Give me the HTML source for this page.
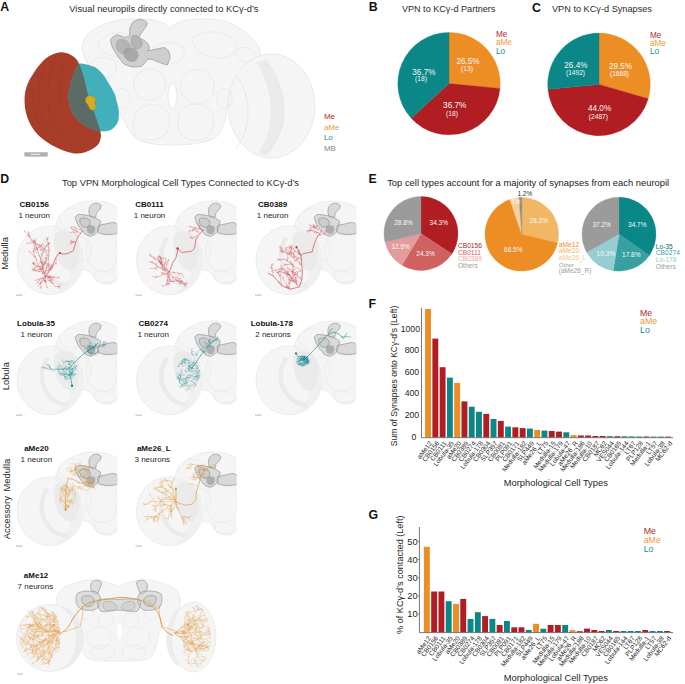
<!DOCTYPE html><html><head><meta charset="utf-8"><style>html,body{margin:0;padding:0;background:#fff;width:685px;height:684px;overflow:hidden;font-family:"Liberation Sans", sans-serif;}svg{display:block;}</style></head><body>
<svg width="685" height="684" viewBox="0 0 685 684" style="font-family:&quot;Liberation Sans&quot;, sans-serif">
<rect width="685" height="684" fill="#fff"/>
<defs>
<filter id="soft" x="-10%" y="-10%" width="120%" height="120%"><feGaussianBlur stdDeviation="0.7"/></filter>
<g id="hb">
<path d="M5.5,-32 C6.5,-39 9,-43 13.8,-46 C16,-49.5 19,-52 22.2,-52.9 C26,-55 29.5,-56.5 33.3,-57 C38,-58 43,-58 47.2,-57.75 C52,-57.5 57,-56.5 61,-55 C63.5,-54 65.5,-53 68,-51 L68,19.3 C66,22 63.5,24 61,24.9 C56,25.5 51,24.5 47.2,22.1 C44.5,19.5 43,17 41.6,13.8 C38,12 34,11 31,10 C26,6 24,2 22,-2 Z" fill="#f5f5f5" stroke="#e2e2e2" stroke-width="0.6"/>
<g fill="none" stroke="#e7e7e7" stroke-width="0.6">
<path d="M9,-44 C16,-52 28,-53 34,-47 C38,-41 33,-33 24,-31 C15,-30 8,-36 9,-44 Z"/>
<path d="M40,-22 C48,-27 60,-25 66,-17 C69,-7 67,5 60,11 C52,15 43,11 39,4 C35,-4 35,-15 40,-22 Z"/>
<path d="M45,12 C51,10 61,13 67,19 C61,25 51,25 46,21 Z"/>
<path d="M26,-20 C33,-24 40,-20 41,-12 C42,-4 37,3 31,3 C25,1 22,-9 26,-20 Z"/>
<path d="M52,-24 C58,-26 64,-24 67,-20"/>
</g>
<ellipse cx="0" cy="1.2" rx="33" ry="34.5" fill="#f5f5f5" stroke="#e2e2e2" stroke-width="0.6"/>
<path d="M3,-31 C16,-24 22,-10 22,4 C22,18 14,28 6,34 C20,33 30,22 33,8 C35,-6 30,-20 22,-27 C16,-31 8,-33 3,-31 Z" fill="#f0f0f0"/>
<path d="M-2.7,-21.6 C-7,-14 -9,-6 -8,1.2 C-7,9 -3,15 2.6,20.5 C7,24 12,25.5 18.5,25.7" fill="none" stroke="#ebebeb" stroke-width="4.5" filter="url(#soft)"/>
<path d="M5,-25 C13,-30 24,-27 28,-18 C31,-8 29,4 24,11 C18,14 11,8 7,-1 C4,-9 3,-19 5,-25 Z" fill="#e9e9e9" opacity="0.8"/>
<path d="M40.2,-52.6 C42,-55 44.5,-56 46.8,-55.7 C49,-55.5 51,-54.5 51.2,-53 C51,-50 48.5,-48.5 46.8,-46.5 C46,-45 46,-43.5 45.9,-42.1 C44,-41.5 42,-41.5 40.2,-42.1 C39.5,-44 38.8,-46 38.9,-48.2 C39,-50 39.5,-51.5 40.2,-52.6 Z" fill="#c4c4c4" fill-opacity="0.58" stroke="#7a7a7a" stroke-width="0.6" stroke-opacity="0.85"/>
<path d="M25.3,-42.1 C26.5,-43.5 27.8,-44.5 29.3,-44.7 C33,-44.5 37,-43.5 40.6,-43 C44.5,-41.5 48,-40 50.7,-37.7 C50,-34 49,-30 47.7,-27.2 C45.5,-25 43,-23.5 40.6,-22.8 C38.5,-23 37,-23.8 35.4,-24.6 C32.5,-28 29.5,-31.5 27.5,-35 C26.5,-37.5 25.5,-40 25.3,-42.1 Z" fill="#c4c4c4" fill-opacity="0.58" stroke="#7a7a7a" stroke-width="0.6" stroke-opacity="0.85"/>
<path d="M30,-40 C33,-42 38,-41 40,-38 C41,-34 38,-31 34,-32 C31,-33 29,-37 30,-40 Z" fill="#c4c4c4" fill-opacity="0.58" stroke="#7a7a7a" stroke-width="0.6" stroke-opacity="0.85"/>
<path d="M48.5,-33.5 C52,-34.5 56,-35 60,-36 C62,-36.5 63.4,-36.6 64.5,-36.4 C66,-35.5 67.5,-34.5 68,-33.4 L68,-25.5 C63,-24.5 58.5,-24.3 55.5,-24.6 C53,-25 50.5,-25.6 48.5,-26.3 C47.5,-28.5 47.5,-31.5 48.5,-33.5 Z" fill="#c4c4c4" fill-opacity="0.58" stroke="#7a7a7a" stroke-width="0.6" stroke-opacity="0.85"/>
<path d="M37,-32 C39,-34.5 43,-34.5 45,-32 C46,-29 44.5,-26 42,-25 C39.5,-24.5 37.5,-26 37,-28.5 Z" fill="#8a8a8a" fill-opacity="0.55"/>
<rect x="-34" y="35.5" width="6.5" height="1.2" fill="#c4c4c4"/>
</g>
<clipPath id="hbclip"><rect x="-40" y="-62" width="107.2" height="100"/></clipPath>
</defs>
<text x="0.3" y="11.4" font-size="12.3" fill="#111" font-weight="bold">A</text>
<text x="69.3" y="12" font-size="9.36" fill="#2a2a2a">Visual neuropils directly connected to KCγ-d’s</text>
<text x="368.8" y="11.2" font-size="12.3" fill="#111" font-weight="bold">B</text>
<text x="401.9" y="11.9" font-size="9.1" fill="#2a2a2a">VPN to KCγ-d Partners</text>
<text x="532" y="11.6" font-size="12.3" fill="#111" font-weight="bold">C</text>
<text x="552" y="11.9" font-size="9.18" fill="#2a2a2a">VPN to KCγ-d Synapses</text>
<text x="0.3" y="183.1" font-size="12.3" fill="#111" font-weight="bold">D</text>
<text x="62" y="186.1" font-size="9.36" fill="#2a2a2a">Top VPN Morphological Cell Types Connected to KCγ-d’s</text>
<text x="368.4" y="183.1" font-size="12.3" fill="#111" font-weight="bold">E</text>
<text x="387.2" y="186.1" font-size="9.4" fill="#1a1a1a">Top cell types account for a majority of synapses from each neuropil</text>
<text x="368.6" y="308.2" font-size="12.3" fill="#111" font-weight="bold">F</text>
<text x="368.4" y="518.8" font-size="12.3" fill="#111" font-weight="bold">G</text>
<g id="panelA">
<path d="M82.6,44.4 C84,36 92,29 101,26 C110,21 122,19 132.5,19 C145,18 158,20 166,24 L169.5,29 C173,24 180,21 190.4,19.5 C205,18 220,19 230,23 C242,28 252,36 258.7,47 C262,55 260,62 255,66 L240,72 C232,85 228,100 226,115 C224,125 222,132 215,138 C205,144 185,145 170,145 C155,145 142,143 135,138 C128,130 124,120 118,110 C110,95 100,80 92,70 C86,62 81,52 82.6,44.4 Z" fill="#f5f5f5" stroke="#e2e2e2" stroke-width="0.7"/>
<ellipse cx="271.5" cy="106" rx="43.5" ry="52" fill="#f5f5f5" stroke="#e2e2e2" stroke-width="0.7"/>
<path d="M256,62 C266,78 271,96 271,112 C271,128 266,142 258,153 L266,156 C276,144 284,128 284,112 C284,94 278,76 266,60 Z" fill="#ebebeb" filter="url(#soft)"/>
<path d="M236,76 C244,86 248,98 248,112 C248,126 244,138 236,148" fill="none" stroke="#e6e6e6" stroke-width="1" filter="url(#soft)"/>
<path d="M266,60 C278,76 284,94 284,112 C284,128 276,144 266,156" fill="none" stroke="#e3e3e3" stroke-width="0.8"/>
<g fill="none" stroke="#e9e9e9" stroke-width="1.0" filter="url(#soft)">
<path d="M98,44 C104,34 118,30 130,35 C137,42 134,52 124,56 C112,58 100,54 98,44 Z"/>
<path d="M192,38 C205,29 224,30 236,41 C240,50 232,58 219,58 C205,58 193,51 192,38 Z"/>
<circle cx="149.8" cy="84.6" r="16"/>
<circle cx="197.2" cy="86.3" r="17"/>
<path d="M134,118 C136,106 150,102 160,106 C170,110 172,124 166,134 C158,142 140,142 135,134 C132,128 133,122 134,118 Z"/>
<path d="M180,112 C186,102 202,102 210,110 C216,118 214,132 206,138 C196,143 184,140 180,132 C177,125 177,118 180,112 Z"/>
<path d="M92,62 C98,55 110,56 116,63 C119,71 112,78 104,77 C97,75 91,69 92,62 Z"/>
<path d="M155,47 C162,41 176,41 183,47 C187,55 181,63 170,64 C160,64 153,57 155,47 Z"/>
<path d="M236,50 C242,45 251,47 254,53 C255,59 249,63 243,62 C238,60 235,55 236,50 Z"/>
<path d="M115,92 C120,86 128,88 130,96 C131,104 126,110 120,108 C115,105 113,98 115,92 Z"/>
<path d="M218,92 C223,86 231,88 232,96 C233,104 228,110 222,108 C217,105 215,98 218,92 Z"/>
</g>
<ellipse cx="172.5" cy="96" rx="4.6" ry="12.8" fill="#ffffff" stroke="#e2e2e2" stroke-width="0.8"/>
<path d="M131.8,23.9 C133,21 137,19.5 141.3,19.5 C144,20 147,21.5 147.2,23.1 C147,26 145.5,27.5 144.2,29 C142,32 140,35 138.4,37.7 C142,39 146,41 148,44 C150,47 150,49.5 147.2,50.9 C152,50 156,49 158.8,48.7 C161,48 163,47.5 164.7,47.7 C167,49 168.5,50.5 169,52.3 C170,55 170,57 169.8,58.2 C169,61 168,63 167.6,64.7 C165,64.5 163.5,64 161.8,63.3 C158,62 155,61 153,59.6 C150,59 148,59 147.2,59.6 C145,63 143,65.5 141.3,66.2 C138,67 135,67 132.5,67 C129,66 126,65 123.8,64 C121,61 119.5,58 118,56.7 C116,53 113.5,50 112,46.5 C111,43 110.5,41 110.7,39.2 C113,36.5 115.5,35 118,34.8 C120,35.5 122,36.5 123.8,37 C126,37.5 128,37 129.6,35 C130,32 129.5,30 129.6,29 C130,27 131,25.5 131.8,23.9 Z" fill="#c6c6c6" fill-opacity="0.8" stroke="#727272" stroke-width="0.6" stroke-opacity="0.8"/>
<path d="M118,40 C122,38 128,40 130,45 C131,50 128,54 123,54 C119,53 116,49 116,45 C116,43 117,41 118,40 Z M132,36 C136,34 141,37 142,42 C143,47 139,50 135,49 C131,47 130,41 132,36 Z" fill="#aeaeae" fill-opacity="0.8" stroke="#808080" stroke-width="0.4" stroke-opacity="0.6"/>
<path d="M124,50 C128,46 135,47 138,52 C140,57 137,62 131,62 C126,61 122,56 124,50 Z" fill="#9c9c9c" fill-opacity="0.75"/>
<path d="M60.6,52.3 C66,52 71,54.5 74.6,57.5 C76.5,59 78,61.5 79,63.7 C80,65 80.5,67 81.4,70 C83,74 84,77.5 84.9,81.7 C86,86.5 87,91 88.4,95.7 C90,100 91.5,104 93,108.5 C94.5,113 96,118 97.7,122.5 C99,126 100,130 101,134.7 C101,139 100,142.5 97.5,145.3 C94,148.5 90,150.5 85.2,152.3 C81,153.5 77,153.8 72.9,153.2 C66,152 60,149.5 55.4,147 C49,144 43,139.5 37.8,134.7 C33,129.5 29.5,123.5 27.3,117.2 C25,111 24.3,104 24.6,97.9 C25,89 28,81.5 32.5,75 C36,69 40,63.5 44.8,59.3 C49.5,55.5 55,52.8 60.6,52.3 Z" fill="#a83d29"/>
<path d="M46,66 C38,80 36,98 40,114 C43,126 50,136 60,143 M56,58 C48,72 46,92 49,110 C52,124 60,136 72,146 M33,88 C32,104 35,120 44,133 M66,60 C60,74 58,92 62,110" fill="none" stroke="#86301f" stroke-width="0.5" opacity="0.45"/>
<path d="M79,63.7 C83,63 87,64.5 90,65.6 C92,66.3 94,66.8 95.8,67.6 C97.5,68.8 99,70.2 100.5,71.7 C101.8,73 103,74.4 104,75.8 C105.3,77.7 106.5,79.6 107.5,81.6 C109,83.8 110.3,85.9 111.6,88 C112.9,90.3 114,92.7 115.1,95.1 C115.6,96.7 116,98.3 116.3,100 C117.5,104 118.3,107 118.7,110 C119.2,114 119,118 118,121.5 C117,125 114,128.5 109.7,130.4 C106.5,131.2 103.5,131.3 101,131.2 C97,131 91,129.5 85.2,126 C80,122.5 75.5,118.5 72.9,113.7 C70,108.5 68.7,103 68.5,98 C68.5,94.5 68.8,91.5 69.4,89 C71,81 73.5,72.5 77.3,65.4 Z" fill="#42b0ba"/>
<path d="M77.3,65.4 C73.5,72.5 71,81 69.4,89 C68.8,91.5 68.5,94.5 68.5,98 C68.7,103 70,108.5 72.9,113.7 C75.5,118.5 80,122.5 85.2,126 C91,129.5 97,131 100.6,131.2 C100,130 99,126 97.7,122.5 C96,118 94.5,113 93,108.5 C91.5,104 90,100 88.4,95.7 C87,91 86,86.5 84.9,81.7 C84,77.5 83,74 81.4,70 C80.5,67 80,65.5 79,63.7 Z" fill="#5c6b66"/>
<path d="M92,68 C98,74 104,84 108,96 C111,106 112,114 111,122" fill="none" stroke="#3a9aa4" stroke-width="0.5" opacity="0.35"/>
<path d="M86.5,97 C88,95.5 91,95.2 93,96.3 C95.8,97.2 96.5,99.5 95.5,101.3 C94.5,102.5 94.7,104 95.6,105.2 C96.5,107 95.5,109.6 93.2,110.2 C91,110.5 89.5,109.5 89,107.5 C88.7,105.5 87.2,104.2 86,102.5 C85.2,100.8 85.5,98.2 86.5,97 Z" fill="#d6ad22" stroke="#9c7a10" stroke-width="0.4"/>
<rect x="24.8" y="152.6" width="22.6" height="3.6" fill="#b0b0b0" stroke="#999" stroke-width="0.4"/>
<rect x="31" y="153.8" width="9" height="1.2" fill="#e6e6e6"/>
</g>
<text x="323.9" y="119.3" font-size="8" fill="#b0282e">Me</text>
<text x="323.9" y="129.75" font-size="8" fill="#ec9836">aMe</text>
<text x="323.9" y="140.2" font-size="8" fill="#159096">Lo</text>
<text x="323.9" y="150.65" font-size="8" fill="#888888">MB</text>
<path d="M449.00,83.60 L449.00,32.40 A51.2,51.2 0 0 1 499.97,88.42 Z" fill="#ec8e24" stroke="#ec8e24" stroke-width="0.35" stroke-linejoin="round"/>
<path d="M449.00,83.60 L499.97,88.42 A51.2,51.2 0 0 1 411.24,118.18 Z" fill="#b01e24" stroke="#b01e24" stroke-width="0.35" stroke-linejoin="round"/>
<path d="M449.00,83.60 L411.24,118.18 A51.2,51.2 0 0 1 449.00,32.40 Z" fill="#0b8787" stroke="#0b8787" stroke-width="0.35" stroke-linejoin="round"/>
<path d="M599.00,84.40 L599.00,33.10 A51.3,51.3 0 0 1 648.26,98.71 Z" fill="#ec8e24" stroke="#ec8e24" stroke-width="0.35" stroke-linejoin="round"/>
<path d="M599.00,84.40 L648.26,98.71 A51.3,51.3 0 0 1 547.93,89.23 Z" fill="#b01e24" stroke="#b01e24" stroke-width="0.35" stroke-linejoin="round"/>
<path d="M599.00,84.40 L547.93,89.23 A51.3,51.3 0 0 1 599.00,33.10 Z" fill="#0b8787" stroke="#0b8787" stroke-width="0.35" stroke-linejoin="round"/>
<text x="468" y="63.8" font-size="8.2" fill="#f6f6f6" text-anchor="middle">26.5%</text>
<text x="467" y="71.4" font-size="6.7" fill="#f6f6f6" text-anchor="middle">(13)</text>
<text x="423.9" y="75.1" font-size="8.2" fill="#f6f6f6" text-anchor="middle">36.7%</text>
<text x="421" y="81.3" font-size="6.7" fill="#f6f6f6" text-anchor="middle">(18)</text>
<text x="454.7" y="107.6" font-size="8.2" fill="#f6f6f6" text-anchor="middle">36.7%</text>
<text x="452" y="116" font-size="6.7" fill="#f6f6f6" text-anchor="middle">(18)</text>
<text x="575.9" y="67.9" font-size="8.2" fill="#f6f6f6" text-anchor="middle">26.4%</text>
<text x="575.5" y="74.9" font-size="6.6" fill="#f6f6f6" text-anchor="middle">(1492)</text>
<text x="620.6" y="69.1" font-size="8.2" fill="#f6f6f6" text-anchor="middle">29.5%</text>
<text x="619.5" y="76.3" font-size="6.6" fill="#f6f6f6" text-anchor="middle">(1668)</text>
<text x="599.6" y="110.8" font-size="8.2" fill="#f6f6f6" text-anchor="middle">44.0%</text>
<text x="598.4" y="119.2" font-size="6.6" fill="#f6f6f6" text-anchor="middle">(2487)</text>
<text x="495.9" y="37.0" font-size="8.2" fill="#b0282e">Me</text>
<text x="650" y="37.5" font-size="8.2" fill="#b0282e">Me</text>
<text x="495.9" y="45.45" font-size="8.2" fill="#ec9836">aMe</text>
<text x="650" y="45.95" font-size="8.2" fill="#ec9836">aMe</text>
<text x="495.9" y="53.9" font-size="8.2" fill="#159096">Lo</text>
<text x="650" y="54.4" font-size="8.2" fill="#159096">Lo</text>
<g transform="translate(50,259)" clip-path="url(#hbclip)"><use href="#hb"/></g>
<g transform="translate(169.5,259)" clip-path="url(#hbclip)"><use href="#hb"/></g>
<g transform="translate(289,259)" clip-path="url(#hbclip)"><use href="#hb"/></g>
<g transform="translate(50,379)" clip-path="url(#hbclip)"><use href="#hb"/></g>
<g transform="translate(169.5,379)" clip-path="url(#hbclip)"><use href="#hb"/></g>
<g transform="translate(289,379)" clip-path="url(#hbclip)"><use href="#hb"/></g>
<g transform="translate(50,510)" clip-path="url(#hbclip)"><use href="#hb"/></g>
<g transform="translate(169.5,510)" clip-path="url(#hbclip)"><use href="#hb"/></g>
<path d="M82.7,230.8 L78.0,236.7 L75.7,242.5 L73.4,250.7 L67.6,253.6 L62.9,254.2 L60.0,253.0 L57.0,255.4 L54.7,260.0 L52.4,267.0 L48.9,271.7 L45.4,276.4" fill="none" stroke="#c8333a" stroke-width="0.6" stroke-linejoin="round"/>
<path d="M39.8,271.5l-1.3,0.6M38.4,271.3l-0.3,-1.3M34.4,270.1l-1.6,0.7M33.0,269.8l-0.5,-1.6M43.9,272.5 L42.5,272.1 L41.2,271.8 L39.8,271.5 L38.4,271.3 L37.0,271.0 L35.7,270.6 L34.4,270.1 L33.0,269.8 L31.7,269.5M43.5,271.2l-1.7,-0.5M43.1,269.8l0.6,-1.5M41.9,269.0l-1.6,0.4M35.6,270.3l-0.4,1.4M40.8,268.2 L39.5,268.8 L38.2,269.4 L36.9,269.8 L35.6,270.3M35.3,263.9l-1.4,0.4M34.3,262.9l-1.3,0.5M43.1,269.8 L41.9,269.0 L40.8,268.2 L39.7,267.4 L38.5,266.6 L37.4,265.7 L36.3,264.8 L35.3,263.9 L34.3,262.9 L33.2,262.1M42.8,268.4l-0.8,-0.7M43.3,267.1l-0.4,-1.1M45.6,263.8l-0.4,-1.1M46.8,263.1l1.4,0.3M44.4,264.6 L45.6,263.8 L46.8,263.1M45.4,261.9l1.4,-0.6M45.9,260.6l1.0,-0.6M46.6,259.4l-0.7,-1.6M42.8,268.4 L43.3,267.1 L43.8,265.8 L44.4,264.6 L44.9,263.2 L45.4,261.9 L45.9,260.6 L46.6,259.4M42.5,267.1l-1.8,-0.6M41.6,263.0l-1.1,-0.6M41.3,261.6l-1.4,-0.0M40.5,258.9l1.3,-0.9M41.9,255.0l-0.3,-1.0M42.9,252.4l1.0,-0.5M44.8,248.6l-0.9,-0.8M45.5,247.4l-0.9,-1.5M48.2,244.3l0.1,-1.4M49.3,243.4l1.0,0.0M46.1,246.1 L47.2,245.3 L48.2,244.3 L49.3,243.4M46.8,244.9l1.4,0.3M40.5,258.9 L40.8,257.6 L41.3,256.2 L41.9,255.0 L42.3,253.7 L42.9,252.4 L43.5,251.1 L44.2,249.9 L44.8,248.6 L45.5,247.4 L46.1,246.1 L46.8,244.9M39.6,256.3l-1.6,-1.1M38.1,252.3l-1.8,-0.0M37.3,249.7l-1.0,-0.5M36.3,245.6l1.3,-0.9M35.9,244.2l-0.9,-0.5M34.8,243.3l-1.6,0.1M33.9,242.3l-0.2,-1.7M32.5,242.6l-0.9,-0.5M33.9,242.3 L32.5,242.6 L31.1,242.9 L29.8,243.1 L28.4,243.3 L27.0,243.4M33.0,241.2l0.3,-1.0M32.1,240.1l-1.3,0.3M29.1,235.4l-0.9,-0.0M28.6,234.1l0.3,-0.8M28.1,232.8l0.8,-1.1M30.3,238.0 L29.7,236.7 L29.1,235.4 L28.6,234.1 L28.1,232.8 L27.6,231.5M29.3,237.0l0.7,-1.6M24.7,231.7l0.6,-1.1M35.9,244.2 L34.8,243.3 L33.9,242.3 L33.0,241.2 L32.1,240.1 L31.2,239.0 L30.3,238.0 L29.3,237.0 L28.3,236.0 L27.4,234.9 L26.5,233.8 L25.6,232.8 L24.7,231.7 L23.8,230.7M35.1,241.5l-1.7,0.1M34.8,240.2l1.1,-1.5M45.4,276.4 L44.9,275.1 L44.4,273.8 L43.9,272.5 L43.5,271.2 L43.1,269.8 L42.8,268.4 L42.5,267.1 L42.1,265.7 L41.8,264.3 L41.6,263.0 L41.3,261.6 L40.9,260.3 L40.5,258.9 L40.1,257.6 L39.6,256.3 L39.1,255.0 L38.6,253.7 L38.1,252.3 L37.7,251.0 L37.3,249.7 L36.9,248.3 L36.6,246.9 L36.3,245.6 L35.9,244.2 L35.5,242.9 L35.1,241.5 L34.8,240.2M50.3,268.0l1.4,-0.6M50.9,265.3l1.1,-0.3M49.9,269.4 L50.3,268.0 L50.6,266.6 L50.9,265.3M50.9,268.4l-0.2,-1.4M51.9,267.4 L51.7,266.0 L51.4,264.6M55.8,263.4l1.5,0.8M56.1,259.2l1.0,-0.3M55.8,263.4 L56.0,262.0 L56.0,260.6 L56.1,259.2M48.9,270.3 L49.9,269.4 L50.9,268.4 L51.9,267.4 L52.8,266.3 L53.8,265.3 L54.8,264.4 L55.8,263.4M48.7,267.5l1.1,-1.6M48.5,259.1l-1.4,-0.7M47.7,255.3l-1.7,0.4M46.0,253.0l0.7,-1.1M40.4,249.9l-0.4,-0.9M43.2,249.9 L41.8,249.9 L40.4,249.9M48.6,256.3 L47.7,255.3 L46.8,254.2 L46.0,253.0 L45.1,251.9 L44.2,250.9 L43.2,249.9 L42.1,249.0 L41.0,248.1 L39.9,247.3 L38.8,246.5M48.7,254.9l-1.0,-1.0M46.6,250.4l-0.9,0.5M44.3,248.8l-1.0,0.1M40.9,246.4l0.6,-1.7M37.0,248.0l-1.3,-0.5M40.9,246.4 L39.6,247.0 L38.3,247.5 L37.0,248.0M39.7,245.7l-0.1,-1.6M38.4,245.1l-0.5,-1.5M48.8,252.1 L47.7,251.3 L46.6,250.4 L45.5,249.6 L44.3,248.8 L43.2,248.0 L42.1,247.2 L40.9,246.4 L39.7,245.7 L38.4,245.1 L37.2,244.4 L35.9,243.8M48.8,250.7l1.4,-0.3M48.9,249.3l-0.6,-1.0M48.8,247.9l-1.1,-1.3M48.2,243.8l1.4,-1.1M47.6,239.6l-1.4,-0.8M47.4,238.2l1.2,-1.0M48.9,271.7 L48.9,270.3 L48.8,268.9 L48.7,267.5 L48.6,266.1 L48.6,264.7 L48.5,263.3 L48.4,261.9 L48.4,260.5 L48.5,259.1 L48.5,257.7 L48.6,256.3 L48.7,254.9 L48.8,253.5 L48.8,252.1 L48.8,250.7 L48.9,249.3 L48.8,247.9 L48.7,246.5 L48.4,245.2 L48.2,243.8 L48.0,242.4 L47.8,241.0 L47.6,239.6 L47.4,238.2M44.9,273.9l-0.8,-1.5M45.4,272.6l-1.1,-0.7M45.7,271.2l-0.9,-0.9M48.2,269.9l0.8,0.1M50.5,268.4l1.2,0.9M45.7,271.2 L47.0,270.6 L48.2,269.9 L49.4,269.2 L50.5,268.4M46.3,268.5l1.2,-0.4M46.6,267.1l1.3,-0.5M48.2,265.1l1.2,0.5M46.9,265.8 L48.2,265.1 L49.3,264.3M47.3,264.4l1.0,-0.5M44.6,275.3 L44.9,273.9 L45.4,272.6 L45.7,271.2 L46.0,269.9 L46.3,268.5 L46.6,267.1 L46.9,265.8 L47.3,264.4M43.7,274.1l-1.9,-0.4M42.9,273.1l0.6,-1.8M43.0,265.3l-0.6,-0.9M42.7,263.9l-1.4,0.0M42.5,262.5l-1.2,-0.4M42.2,261.1l-0.9,-0.2M43.0,265.3 L42.7,263.9 L42.5,262.5 L42.2,261.1M43.5,263.9l1.3,0.1M43.9,262.6l1.7,0.0M45.5,258.7l-0.2,-1.4M46.2,257.5l1.5,-0.6M41.4,270.6 L41.9,269.3 L42.3,268.0 L42.6,266.6 L43.0,265.3 L43.5,263.9 L43.9,262.6 L44.3,261.3 L44.8,260.0 L45.5,258.7 L46.2,257.5M40.7,269.4l-1.8,0.0M40.1,268.2l0.8,-1.3M39.6,266.9l0.6,-0.9M38.4,264.4l1.0,-1.2M36.5,260.6l0.7,-1.6M30.0,251.8l-1.0,-0.1M35.7,257.9 L34.7,256.9 L33.8,255.9 L32.8,254.9 L31.8,253.9 L30.9,252.9 L30.0,251.8M35.2,256.6l-1.6,-0.5M35.4,250.6 L35.2,249.2 L35.0,247.8M36.4,249.6l1.2,-0.1M41.4,244.7l1.5,0.9M33.6,252.7 L34.4,251.6 L35.4,250.6 L36.4,249.6 L37.3,248.6 L38.4,247.7 L39.4,246.7 L40.4,245.7 L41.4,244.7 L42.3,243.7M33.2,251.4l0.7,-1.1M34.0,248.7l1.2,-0.6M34.7,246.0l-1.2,-0.8M33.2,251.4 L33.6,250.0 L34.0,248.7 L34.4,247.4 L34.7,246.0 L35.0,244.6 L35.1,243.2 L35.2,241.8 L35.1,240.4M45.4,276.4 L44.6,275.3 L43.7,274.1 L42.9,273.1 L42.1,271.9 L41.4,270.6 L40.7,269.4 L40.1,268.2 L39.6,266.9 L39.0,265.6 L38.4,264.4 L37.7,263.1 L37.0,261.9 L36.5,260.6 L36.0,259.3 L35.7,257.9 L35.2,256.6 L34.6,255.3 L34.0,254.1 L33.6,252.7 L33.2,251.4M42.9,277.7l-0.3,1.2M40.7,282.3l0.6,0.8M41.6,278.2 L41.4,279.6 L41.1,281.0 L40.7,282.3M39.4,279.8l0.2,1.0M37.8,282.1l0.5,1.1M40.3,278.7 L39.4,279.8 L38.6,280.9 L37.8,282.1 L37.1,283.3M45.4,276.4 L44.1,277.0 L42.9,277.7 L41.6,278.2 L40.3,278.7 L39.0,279.1 L37.6,279.6 L36.3,280.0 L35.0,280.4M44.7,277.6l0.2,1.2M44.0,278.8l-1.2,-0.4M44.2,280.2l1.2,0.4M45.4,280.9l0.2,1.0M44.2,280.2 L45.4,280.9 L46.7,281.5M44.4,281.6l1.2,0.9M44.0,278.8 L44.2,280.2 L44.4,281.6M43.2,280.0l1.1,1.2M40.6,283.3l-1.4,0.3M40.9,287.5l-1.1,0.3M40.6,283.3 L40.8,284.7 L40.9,286.1 L40.9,287.5 L40.9,288.9M45.4,276.4 L44.7,277.6 L44.0,278.8 L43.2,280.0 L42.4,281.1 L41.6,282.3 L40.6,283.3 L39.7,284.4 L38.9,285.5 L38.0,286.6M47.0,287.4l1.1,0.8M45.4,276.4 L45.4,277.8 L45.5,279.2 L45.5,280.6 L45.6,282.0 L45.9,283.4 L46.2,284.7 L46.7,286.0 L47.0,287.4M48.2,279.5l-0.2,1.1M49.2,280.5l1.1,-0.1M51.9,280.2l0.1,-0.9M49.2,280.5 L50.6,280.3 L51.9,280.2 L53.3,280.1M50.1,281.6l1.2,-0.3M51.2,282.5l1.5,0.1M52.3,283.4l1.3,-0.5M58.0,286.6l0.8,1.4M58.0,286.6 L58.9,285.5 L59.7,284.3M59.4,286.7l0.5,1.5M55.3,286.3 L56.7,286.5 L58.0,286.6 L59.4,286.7 L60.8,286.7M45.4,276.4 L46.4,277.4 L47.3,278.4 L48.2,279.5 L49.2,280.5 L50.1,281.6 L51.2,282.5 L52.3,283.4 L53.3,284.3 L54.2,285.3 L55.3,286.3M46.8,276.4l0.5,-1.2M48.0,277.2l0.8,-0.8M49.3,277.0l0.7,0.6M50.7,276.8l0.8,-0.8M48.0,277.2 L49.3,277.0 L50.7,276.8M49.1,278.0l1.2,-0.7M50.2,278.9l1.6,-0.8M46.8,276.4 L48.0,277.2 L49.1,278.0 L50.2,278.9M48.2,276.6l1.1,-1.1M48.2,276.6 L49.4,277.4 L50.5,278.2 L51.7,278.9M52.4,277.1l1.4,1.3M53.7,277.2l0.7,-1.4M57.9,277.8l1.0,-1.6M45.4,276.4 L46.8,276.4 L48.2,276.6 L49.6,276.9 L51.0,277.0 L52.4,277.1 L53.7,277.2 L55.1,277.4 L56.5,277.7 L57.9,277.8 L59.3,278.1M37.8,266.3l-1.5,1.1M34.4,268.1l0.8,0.8M33.8,269.4l0.4,0.8M35.0,266.8 L34.4,268.1 L33.8,269.4M37.8,266.3 L36.4,266.7 L35.0,266.8M34.0,264.5l-0.5,-1.3M32.8,263.8l0.4,-1.4M39.0,267.0 L37.8,266.3 L36.5,265.8 L35.2,265.1 L34.0,264.5 L32.8,263.8M75.7,227.9l-0.8,0.6M82.0,231.0 L80.8,230.3 L79.6,229.6 L78.3,229.0 L77.0,228.5 L75.7,227.9 L74.4,227.4 L73.1,227.0 L71.8,226.6M77.5,231.7l-0.8,0.9M74.7,232.2l-0.8,-0.4M77.5,231.7 L76.1,232.0 L74.7,232.2M76.3,231.0l0.1,-1.4M75.1,230.3l-0.2,-1.0M73.9,229.6l-1.3,0.4M71.4,228.3l-0.2,-1.2M80.0,233.0 L78.7,232.4 L77.5,231.7 L76.3,231.0 L75.1,230.3 L73.9,229.6 L72.6,229.0 L71.4,228.3M73.2,232.0 L71.8,232.3 L70.4,232.6M78.0,237.0 L77.2,235.9 L76.2,234.8 L75.2,233.9 L74.2,232.9 L73.2,232.0M74.4,242.0l-1.4,0.3M71.9,243.0l-0.7,-0.6M70.8,243.8l-1.0,-0.9M73.0,242.2 L71.9,243.0 L70.8,243.8M71.6,242.3l-0.9,-0.5M74.4,242.0 L73.0,242.2 L71.6,242.3M71.9,240.8l-1.0,0.7M75.7,242.5 L74.4,242.0 L73.1,241.4 L71.9,240.8 L70.6,240.2" fill="none" stroke="#c8333a" stroke-width="0.33" stroke-opacity="0.9" stroke-linecap="round"/>
<circle cx="60" cy="253" r="1.1" fill="#c8333a"/>
<path d="M203.9,229.7 L198.1,235.5 L195.7,240.2 L194.6,248.4 L191.1,251.3 L181.7,252.5 L177.6,248.4 L177.6,251.0 L175.9,257.7 L172.4,263.5 L170.0,270.6 L168.9,271.7" fill="none" stroke="#c8333a" stroke-width="0.6" stroke-linejoin="round"/>
<path d="M165.2,270.2l-0.5,1.4M167.9,270.7 L166.5,270.4 L165.2,270.2 L163.8,269.8 L162.5,269.4M167.0,269.7l0.8,-1.2M166.0,268.7l-1.3,-0.2M166.8,264.6l1.3,-0.9M166.0,268.7 L166.2,267.3 L166.4,265.9 L166.8,264.6 L167.1,263.2 L167.6,261.9 L168.1,260.6M164.7,263.9l1.0,-0.5M168.7,260.4l-0.2,-0.9M165.1,262.6 L166.4,262.0 L167.6,261.2 L168.7,260.4M165.9,258.5l-0.9,-0.5M164.0,266.7 L164.4,265.3 L164.7,263.9 L165.1,262.6 L165.5,261.3 L165.8,259.9 L165.9,258.5M161.3,263.8l-1.1,0.4M162.5,264.4 L161.3,263.8 L160.0,263.2M162.1,263.1l1.3,-1.0M161.7,261.8l0.8,-0.5M161.1,259.0l0.8,-1.2M160.7,257.7 L159.6,256.9 L158.4,256.1M160.3,256.3l-1.1,-0.6M163.0,265.8 L162.5,264.4 L162.1,263.1 L161.7,261.8 L161.4,260.4 L161.1,259.0 L160.7,257.7 L160.3,256.3M160.9,263.8l0.1,-1.7M160.8,262.4l-1.0,-1.2M160.8,262.4 L159.8,261.5 L158.7,260.7M163.4,258.3l-0.0,-1.0M160.9,259.6 L162.1,259.0 L163.4,258.3M161.1,258.2l-1.2,-0.5M161.1,258.2 L160.0,257.4 L158.9,256.5M160.9,263.8 L160.8,262.4 L160.9,261.0 L160.9,259.6 L161.1,258.2M159.4,261.6l0.5,-1.3M158.2,259.1l-1.2,0.0M157.4,257.9l1.0,-1.2M159.9,262.9 L159.4,261.6 L158.8,260.3 L158.2,259.1 L157.4,257.9M155.7,259.3l-1.6,-0.1M151.1,256.2l-0.1,-1.5M149.9,255.5l-0.5,-1.3M154.8,258.2 L153.5,257.6 L152.2,256.9 L151.1,256.2 L149.9,255.5M153.9,257.1l-1.2,0.3M168.9,271.7 L167.9,270.7 L167.0,269.7 L166.0,268.7 L165.0,267.7 L164.0,266.7 L163.0,265.8 L161.9,264.8 L160.9,263.8 L159.9,262.9 L158.8,262.0 L157.7,261.2 L156.6,260.3 L155.7,259.3 L154.8,258.2 L153.9,257.1M165.0,270.1 L164.7,268.8 L164.4,267.4 L164.0,266.0 L163.8,264.6M163.8,269.5l-1.5,0.7M162.5,268.8l-0.1,-1.9M161.2,268.3l0.3,-1.7M155.9,268.1l-0.1,1.6M160.0,267.6 L158.6,267.6 L157.2,267.8 L155.9,268.1 L154.5,268.1 L153.1,268.3 L151.7,268.4 L150.3,268.5M157.6,266.2l-1.5,0.1M156.5,265.3l0.2,-2.0M155.4,264.5l-0.3,-1.7M153.0,263.1l-0.4,-1.6M151.8,262.3l-1.1,0.5M150.6,261.5l-1.2,0.3M168.9,271.7 L167.6,271.2 L166.3,270.6 L165.0,270.1 L163.8,269.5 L162.5,268.8 L161.2,268.3 L160.0,267.6 L158.8,266.9 L157.6,266.2 L156.5,265.3 L155.4,264.5 L154.2,263.7 L153.0,263.1 L151.8,262.3 L150.6,261.5M167.7,272.5l-0.5,1.7M166.6,273.3l-0.1,1.4M164.1,273.4l-1.3,0.8M162.8,273.0l-1.5,0.7M165.4,274.0 L164.1,273.4 L162.8,273.0 L161.4,272.6M157.5,276.7l-0.8,-0.7M156.1,277.1l-0.6,1.0M156.1,277.1 L154.7,276.9 L153.4,276.7 L152.0,276.5M168.9,271.7 L167.7,272.5 L166.6,273.3 L165.4,274.0 L164.1,274.6 L162.8,275.1 L161.5,275.6 L160.2,276.0 L158.8,276.3 L157.5,276.7 L156.1,277.1M168.5,273.0l0.7,1.0M168.1,274.4l0.8,1.1M167.9,275.8l1.3,1.2M168.5,277.0l1.3,0.3M167.9,275.8 L168.5,277.0 L169.1,278.3 L169.8,279.6 L170.2,280.9M169.5,279.3l-0.5,0.8M169.5,279.3 L169.8,280.7 L170.1,282.1M171.5,281.3l1.4,0.0M172.8,281.5l1.0,-0.7M174.2,281.5l0.8,-1.2M171.5,281.3 L172.8,281.5 L174.2,281.5M167.7,277.2 L168.6,278.3 L169.5,279.3 L170.4,280.4 L171.5,281.3M167.3,279.9l1.3,1.3M167.8,281.2l1.5,0.5M167.3,279.9 L167.8,281.2 L168.2,282.6 L168.6,283.9M167.5,283.8l-0.7,1.1M168.9,283.8l1.0,-0.9M167.5,283.8 L168.9,283.8 L170.3,283.9M166.8,282.7 L167.5,283.8 L168.4,284.9M162.9,286.1l-0.6,-0.7M166.5,284.1 L165.3,284.7 L164.1,285.4 L162.9,286.1M168.9,271.7 L168.5,273.0 L168.1,274.4 L167.9,275.8 L167.7,277.2 L167.5,278.5 L167.3,279.9 L166.9,281.3 L166.8,282.7 L166.5,284.1 L166.4,285.4M170.5,274.0l-1.1,1.6M173.2,277.2l-0.7,1.7M177.3,276.8l0.7,1.3M173.2,277.2 L174.6,277.2 L175.9,277.1 L177.3,276.8M179.4,278.7l0.5,1.6M175.2,279.1 L176.6,278.9 L178.0,278.8 L179.4,278.7 L180.8,278.7M176.3,280.1l0.0,1.2M180.4,280.9l0.8,-1.1M181.2,282.0l-0.6,1.3M180.4,280.9 L181.2,282.0 L181.9,283.2M181.7,281.2l0.9,-0.4M176.3,280.1 L177.6,280.4 L179.0,280.7 L180.4,280.9 L181.7,281.2M177.3,281.0l1.5,-0.7M181.3,281.5l0.4,0.9M182.7,281.5l0.5,1.6M178.5,281.7 L179.9,281.5 L181.3,281.5 L182.7,281.5M179.6,282.6l-0.1,1.6M184.3,284.7l1.5,-0.3M185.2,285.8l0.1,1.3M183.4,283.7 L184.3,284.7 L185.2,285.8M184.8,283.5l1.1,-1.1M184.8,283.5 L185.9,284.3 L186.9,285.2M186.2,283.4l0.6,-1.1M180.6,283.6 L182.0,283.7 L183.4,283.7 L184.8,283.5 L186.2,283.4M168.9,271.7 L169.7,272.9 L170.5,274.0 L171.4,275.1 L172.3,276.2 L173.2,277.2 L174.2,278.2 L175.2,279.1 L176.3,280.1 L177.3,281.0 L178.5,281.7 L179.6,282.6 L180.6,283.6M173.0,272.5l0.6,-1.0M174.4,272.7l0.5,1.2M178.6,273.2 L179.1,274.5 L179.7,275.7M181.4,273.5 L182.1,274.7 L182.7,275.9 L183.5,277.1 L184.2,278.3M168.9,271.7 L170.3,272.0 L171.7,272.2 L173.0,272.5 L174.4,272.7 L175.8,272.9 L177.2,273.0 L178.6,273.2 L180.0,273.4 L181.4,273.5M162.1,265.6l0.3,-1.2M160.6,263.2l1.1,-1.1M158.6,259.5 L158.6,258.1 L158.7,256.7M163.5,268.0 L162.8,266.8 L162.1,265.6 L161.3,264.4 L160.6,263.2 L160.0,262.0 L159.3,260.7 L158.6,259.5M202.2,229.5l-0.9,0.8M199.6,226.6l0.3,-1.0M200.9,229.1 L200.2,227.8 L199.6,226.6 L199.0,225.3 L198.3,224.1 L197.6,222.9M199.5,228.8l-1.1,0.7M198.1,228.6l-1.4,0.7M195.4,228.0l-0.4,-1.6M193.3,229.8l-0.4,1.5M189.4,230.8l-0.3,1.1M192.2,230.7 L190.8,230.8 L189.4,230.8M195.4,228.0 L194.3,228.9 L193.3,229.8 L192.2,230.7M191.3,226.8l-1.1,0.5M203.5,230.0 L202.2,229.5 L200.9,229.1 L199.5,228.8 L198.1,228.6 L196.7,228.3 L195.4,228.0 L194.0,227.5 L192.7,227.2 L191.3,226.8 L190.0,226.3 L188.7,225.9M198.4,232.1l-0.8,0.5M197.2,231.4l-0.8,0.3M194.9,229.9l0.2,-0.9M193.6,229.3l-1.1,1.0M199.5,233.0 L198.4,232.1 L197.2,231.4 L196.1,230.6 L194.9,229.9 L193.6,229.3 L192.3,228.8M191.8,237.3l-1.0,0.8M190.5,236.8l-0.6,0.6M193.1,237.9 L191.8,237.3 L190.5,236.8M198.1,235.5 L196.8,235.9 L195.5,236.5 L194.3,237.2 L193.1,237.9 L191.9,238.7" fill="none" stroke="#c8333a" stroke-width="0.33" stroke-opacity="0.9" stroke-linecap="round"/>
<circle cx="177.6" cy="248.4" r="1.2" fill="#c8333a"/>
<path d="M321.6,230.8 L318.0,235.5 L314.6,242.5 L312.2,251.9 L302.9,253.6 L301.1,255.4 L301.7,263.5 L302.3,271.7 L301.7,279.9 L299.4,286.9 L290.0,289.2 L281.9,285.7 L273.7,276.4 L267.8,272.9M296.5,247.2 L299.0,252.0 L301.1,255.4" fill="none" stroke="#c8333a" stroke-width="0.6" stroke-linejoin="round"/>
<path d="M297.7,259.0l-1.3,-0.6M296.5,259.7l0.4,1.3M295.2,260.4l-0.2,0.9M298.8,258.2 L297.7,259.0 L296.5,259.7 L295.2,260.4 L294.0,261.0M295.0,256.4l-1.1,0.6M291.7,253.9l0.4,-1.9M291.6,246.0l0.9,-0.3M290.7,252.9 L290.9,251.5 L291.3,250.2 L291.5,248.8 L291.6,247.4 L291.6,246.0M301.5,259.0 L300.2,258.6 L298.8,258.2 L297.5,257.7 L296.2,257.1 L295.0,256.4 L293.9,255.6 L292.8,254.7 L291.7,253.9 L290.7,252.9 L289.6,252.1 L288.5,251.1M300.6,264.2l-1.5,0.1M299.6,263.2l-0.1,-1.0M294.0,257.2l1.1,-0.5M293.7,255.9l1.0,-1.1M293.5,254.5 L292.2,253.9 L290.9,253.4M293.1,253.1l1.0,-0.6M294.3,258.6 L294.0,257.2 L293.7,255.9 L293.5,254.5 L293.1,253.1M292.1,256.9l-1.1,0.5M291.0,251.8l-1.1,-1.4M291.1,249.0 L292.0,248.0 L293.0,247.0M291.0,256.0 L291.1,254.6 L291.0,253.2 L291.0,251.8 L291.1,250.4 L291.1,249.0M289.9,255.1 L289.5,253.8 L289.1,252.4 L288.6,251.1M287.8,253.3l-1.6,1.1M285.1,252.4 L283.7,252.5 L282.3,252.6M283.8,251.8l0.3,-1.4M282.5,251.4l-1.2,1.1M282.2,250.0l0.4,-0.9M282.5,251.4 L282.2,250.0 L281.8,248.7 L281.4,247.4M281.2,250.9l-0.6,0.7M280.3,248.2l0.6,-1.0M279.7,246.9l0.5,-0.8M281.2,250.9 L280.8,249.5 L280.3,248.2 L279.7,246.9M287.8,253.3 L286.4,252.9 L285.1,252.4 L283.8,251.8 L282.5,251.4 L281.2,250.9 L279.9,250.5M286.7,252.4l0.4,-1.7M301.7,265.0 L300.6,264.2 L299.6,263.2 L298.5,262.3 L297.4,261.4 L296.4,260.5 L295.3,259.5 L294.3,258.6 L293.2,257.8 L292.1,256.9 L291.0,256.0 L289.9,255.1 L288.9,254.2 L287.8,253.3 L286.7,252.4M293.1,265.3l0.4,-1.7M287.7,264.5l-0.8,1.4M285.0,264.7l-0.5,-0.8M286.4,264.3 L285.0,264.7 L283.7,265.2M291.9,264.6 L290.5,264.5 L289.1,264.6 L287.7,264.5 L286.4,264.3 L285.0,264.2M290.8,263.7l0.7,-1.4M289.7,262.9l0.6,-1.9M287.5,261.2l0.5,-1.0M287.6,258.4l1.6,-0.4M288.1,254.2l1.1,-0.5M289.1,253.2l0.9,0.4M288.1,254.2 L289.1,253.2 L290.1,252.3M287.5,261.2 L287.6,259.8 L287.6,258.4 L287.7,257.0 L287.8,255.6 L288.1,254.2M286.5,260.2l-1.2,0.7M284.1,259.3l-0.8,-0.7M281.3,259.5l-0.8,1.0M279.9,259.7l-1.2,-0.6M278.6,259.9l-1.0,-0.9M285.5,259.2 L284.1,259.3 L282.7,259.4 L281.3,259.5 L279.9,259.7 L278.6,259.9 L277.2,260.1M302.3,271.7 L301.2,270.8 L300.1,270.0 L299.0,269.1 L297.8,268.4 L296.5,267.7 L295.4,267.0 L294.3,266.1 L293.1,265.3 L291.9,264.6 L290.8,263.7 L289.7,262.9 L288.6,262.0 L287.5,261.2 L286.5,260.2 L285.5,259.2M300.6,279.0l-0.3,-1.4M299.6,278.1l0.4,-1.3M297.6,276.1l0.6,-1.4M299.3,271.2l1.3,0.2M297.4,273.3 L298.4,272.3 L299.3,271.2M297.3,271.9l-0.9,-0.3M297.6,276.1 L297.5,274.7 L297.4,273.3 L297.3,271.9M295.7,274.1l-0.9,0.5M293.5,272.3l-1.8,0.4M293.2,271.0 L292.1,270.1 L290.9,269.4M292.9,268.2l0.8,-0.9M292.7,266.8l1.1,-1.3M292.4,264.0 L291.4,263.1 L290.3,262.2M293.5,272.3 L293.2,271.0 L293.1,269.6 L292.9,268.2 L292.7,266.8 L292.5,265.4 L292.4,264.0M292.3,271.5l-1.5,-0.0M290.1,269.8l-1.0,0.4M289.0,268.9l-1.0,0.8M288.0,268.0l-1.5,0.8M301.7,279.9 L300.6,279.0 L299.6,278.1 L298.6,277.1 L297.6,276.1 L296.7,275.0 L295.7,274.1 L294.6,273.2 L293.5,272.3 L292.3,271.5 L291.2,270.7 L290.1,269.8 L289.0,268.9 L288.0,268.0 L287.0,267.0M297.5,284.9l-1.5,0.8M296.5,283.9l-0.1,-1.5M296.3,281.1l0.9,-0.6M294.8,278.8l0.5,-1.2M296.3,281.1 L295.6,279.9 L294.8,278.8M295.4,277.0l-0.8,-0.5M296.5,283.9 L296.4,282.5 L296.3,281.1 L296.1,279.7 L295.8,278.4 L295.4,277.0M295.5,281.5l-1.4,-0.8M296.2,277.3l0.8,-0.5M295.5,282.9 L295.5,281.5 L295.7,280.1 L296.0,278.7 L296.2,277.3M293.2,281.4l-0.8,-1.6M290.6,280.4l-0.7,-1.0M289.2,280.2l-0.5,-1.5M294.5,281.9 L293.2,281.4 L291.9,280.9 L290.6,280.4 L289.2,280.2 L287.9,279.8M293.6,280.8l-1.4,0.0M291.3,276.2l-1.4,0.5M293.4,278.0 L292.3,277.2 L291.3,276.2M294.1,275.6l-0.0,-1.4M295.2,274.7l0.9,-0.0M296.2,273.8l-0.8,-1.4M293.2,276.7 L294.1,275.6 L295.2,274.7 L296.2,273.8M293.8,274.3l1.1,0.5M294.7,273.2l0.1,-1.5M292.8,275.3 L293.8,274.3 L294.7,273.2M292.5,273.9 L292.8,272.6 L293.0,271.2M294.1,269.2l1.4,0.0M292.1,271.2 L293.1,270.2 L294.1,269.2M293.6,280.8 L293.5,279.4 L293.4,278.0 L293.2,276.7 L292.8,275.3 L292.5,273.9 L292.3,272.6 L292.1,271.2M292.1,278.5l-1.8,-0.4M290.8,278.1l-1.1,1.3M292.1,278.5 L290.8,278.1 L289.4,277.6 L288.1,277.2 L286.8,276.6M289.3,275.4l-0.6,-1.4M288.1,274.7l-0.9,0.7M287.8,271.9l1.5,-0.4M288.1,274.7 L287.9,273.3 L287.8,271.9M286.9,274.1l0.4,-1.3M290.5,276.1 L289.3,275.4 L288.1,274.7 L286.9,274.1 L285.6,273.5M289.6,275.1l0.6,-1.1M288.3,274.6l-1.7,0.4M289.6,275.1 L288.3,274.6 L287.0,274.2 L285.6,273.7 L284.3,273.3 L283.0,272.9 L281.6,272.6M288.7,274.0l-1.6,0.1M285.2,272.6l-1.2,0.8M279.7,271.9l-0.7,-0.8M278.3,272.2l-0.3,0.9M281.1,271.7 L279.7,271.9 L278.3,272.2M288.0,272.8 L286.6,272.6 L285.2,272.6 L283.8,272.4 L282.5,272.0 L281.1,271.7 L279.7,271.6 L278.3,271.4M285.9,271.0l-1.2,0.5M283.7,269.3l0.6,-1.1M282.4,269.8l-1.1,-0.4M283.7,269.3 L282.4,269.8 L281.1,270.2 L279.7,270.7M281.3,268.6l-0.7,1.4M279.9,268.8l-0.8,0.9M278.6,269.1l-0.2,1.2M282.7,268.4 L281.3,268.6 L279.9,268.8 L278.6,269.1M281.6,267.4l-0.3,-1.6M287.2,271.7 L285.9,271.0 L284.8,270.2 L283.7,269.3 L282.7,268.4 L281.6,267.4 L280.5,266.6M299.4,286.9 L298.5,285.8 L297.5,284.9 L296.5,283.9 L295.5,282.9 L294.5,281.9 L293.6,280.8 L292.8,279.7 L292.1,278.5 L291.3,277.3 L290.5,276.1 L289.6,275.1 L288.7,274.0 L288.0,272.8 L287.2,271.7 L286.3,270.6M289.3,288.0l0.2,-1.0M288.0,287.3 L286.6,287.3 L285.2,287.5M286.9,286.6l-0.0,-1.6M289.3,288.0 L288.0,287.3 L286.9,286.6 L285.8,285.7M288.5,286.8l-1.8,-0.0M289.4,284.1l-0.6,-1.3M289.4,284.1 L289.2,282.7 L289.2,281.3M289.7,282.8 L290.7,281.8 L291.8,280.8M290.6,280.1l1.6,-0.7M288.5,286.8 L289.0,285.5 L289.4,284.1 L289.7,282.8 L290.1,281.4 L290.6,280.1M283.0,278.7l0.6,-1.9M280.4,275.4l0.3,-1.3M290.0,289.2 L289.3,288.0 L288.5,286.8 L287.7,285.7 L286.8,284.6 L286.1,283.4 L285.4,282.2 L284.6,281.0 L283.8,279.9 L283.0,278.7 L282.2,277.6 L281.3,276.5 L280.4,275.4M279.6,282.4l-1.7,0.4M281.5,284.3 L280.6,283.4 L279.6,282.4M279.7,276.2l0.8,-1.3M279.2,274.9l-1.4,-0.3M277.8,272.5l-1.7,0.0M275.8,270.5l0.0,-1.3M275.8,270.5 L274.4,270.7 L273.1,271.1M278.7,273.6 L277.8,272.5 L276.7,271.6 L275.8,270.5 L275.0,269.4M281.9,285.7 L281.5,284.3 L281.3,283.0 L281.1,281.6 L280.8,280.2 L280.6,278.8 L280.2,277.5 L279.7,276.2 L279.2,274.9 L278.7,273.6 L278.2,272.3M272.8,272.3l-1.6,-0.7M272.1,269.6l0.8,-1.7M271.7,268.3l-1.2,-0.5M271.7,265.6l1.1,-0.1M272.0,264.2l1.1,-0.2M271.3,266.9 L271.7,265.6 L272.0,264.2M273.7,276.4 L273.4,275.0 L273.1,273.7 L272.8,272.3 L272.5,270.9 L272.1,269.6 L271.7,268.3 L271.3,266.9M299.9,254.7l0.1,-1.4M299.1,252.0l0.8,-0.7M298.9,250.6l0.9,-0.5M299.9,254.7 L299.5,253.3 L299.1,252.0 L298.9,250.6M298.8,253.8l-0.4,-1.5M295.4,251.3l-1.8,0.9M293.3,249.5l0.6,-1.3M291.1,247.7l-1.3,0.5M289.7,247.7l-0.3,1.4M286.2,248.9l0.5,1.3M285.5,250.1l0.9,0.8M287.0,247.7 L286.2,248.9 L285.5,250.1M285.6,247.8l-1.0,1.2M291.1,247.7 L289.7,247.7 L288.4,247.6 L287.0,247.7 L285.6,247.8M290.1,246.8l0.6,-1.6M301.1,255.4 L299.9,254.7 L298.8,253.8 L297.7,253.0 L296.5,252.2 L295.4,251.3 L294.4,250.4 L293.3,249.5 L292.3,248.6 L291.1,247.7 L290.1,246.8 L288.9,246.0M316.1,226.3l0.6,-1.0M314.8,225.8l-0.8,0.9M313.5,225.2l-0.3,-0.8M316.1,226.3 L314.8,225.8 L313.5,225.2M318.5,229.8 L317.6,228.7 L316.8,227.5 L316.1,226.3M316.1,228.3l0.2,-1.4M314.7,228.1l-0.7,1.0M316.1,228.3 L314.7,228.1 L313.3,227.8M314.1,226.5l0.2,-1.4M314.9,227.6 L314.1,226.5 L313.5,225.2M313.6,227.0l-0.3,-0.9M310.9,227.6l-0.6,1.2M313.6,227.0 L312.3,227.3 L310.9,227.6M311.2,225.6l-1.2,0.5M321.0,231.0 L319.7,230.4 L318.5,229.8 L317.3,229.1 L316.1,228.3 L314.9,227.6 L313.6,227.0 L312.4,226.4 L311.2,225.6 L309.9,225.0 L308.6,224.5M316.3,232.8l-0.4,0.9M315.0,233.1l-0.6,-0.7M317.7,232.5 L316.3,232.8 L315.0,233.1M316.4,232.0l-0.1,-1.2M315.1,231.5l-1.2,0.7M313.8,231.0l-0.9,0.4M311.1,230.5 L310.1,231.4 L309.1,232.4M309.7,230.5l-0.7,0.9M312.5,230.5 L311.1,230.5 L309.7,230.5M308.5,230.4l0.0,0.8M307.2,230.7l0.0,1.2M311.2,229.8 L309.9,230.1 L308.5,230.4 L307.2,230.7M319.0,233.0 L317.7,232.5 L316.4,232.0 L315.1,231.5 L313.8,231.0 L312.5,230.5 L311.2,229.8 L310.0,229.2M319.3,235.1l1.1,0.8M320.7,234.7l0.0,-0.8M326.2,231.2l-0.1,-1.1M324.7,233.6 L325.4,232.4 L326.2,231.2M318.0,235.5 L319.3,235.1 L320.7,234.7 L322.0,234.3 L323.4,233.9 L324.7,233.6" fill="none" stroke="#c8333a" stroke-width="0.33" stroke-opacity="0.9" stroke-linecap="round"/>
<circle cx="296.5" cy="247.2" r="1.1" fill="#c8333a"/>
<path d="M98.0,343.0 L94.0,347.0 L88.0,351.0 L82.0,355.0 L76.0,361.0 L70.0,367.0 L66.0,371.0M72.0,385.8 L71.0,379.0 L69.0,374.0" fill="none" stroke="#16898e" stroke-width="0.6" stroke-linejoin="round"/>
<path d="M60.4,369.2l-0.9,-0.7M56.2,369.2 L55.1,370.0 L53.8,370.7 L52.6,371.4M52.0,369.2l-0.4,0.7M50.9,368.2l-0.6,0.4M49.9,367.3l-0.8,0.4M49.5,366.0l-0.7,-0.5M49.9,367.3 L49.5,366.0 L49.1,364.6M47.8,365.5l-0.1,-1.0M52.0,369.2 L50.9,368.2 L49.9,367.3 L48.8,366.4 L47.8,365.5 L46.7,364.6 L45.6,363.7M47.9,368.9l-1.0,0.3M46.6,368.4l-0.5,-0.9M45.3,368.0l-0.7,0.4M43.9,367.5l-0.6,0.7M42.6,367.2l-1.2,0.5M49.2,369.4 L47.9,368.9 L46.6,368.4 L45.3,368.0 L43.9,367.5 L42.6,367.2M66.0,369.0 L64.6,369.0 L63.2,369.0 L61.8,369.2 L60.4,369.2 L59.0,369.2 L57.6,369.2 L56.2,369.2 L54.8,369.2 L53.4,369.1 L52.0,369.2 L50.6,369.2 L49.2,369.4M91.3,348.6l0.8,0.4M92.6,348.0l0.5,-1.4M93.5,346.9l1.1,-0.0M93.5,346.9 L94.7,346.3 L96.0,345.7M95.2,344.7l0.0,-1.1M92.6,348.0 L93.5,346.9 L94.4,345.9 L95.2,344.7M93.9,347.6l0.6,-1.0M102.9,345.0l1.2,-0.1M102.9,345.0 L102.6,343.6 L102.2,342.2M104.3,342.5l-0.6,-1.0M102.2,346.2 L102.9,345.0 L103.6,343.8 L104.3,342.5 L105.1,341.4M103.6,346.0l0.6,1.2M104.6,345.0l1.3,0.1M103.7,342.3l0.5,-0.8M104.6,345.0 L104.2,343.6 L103.7,342.3M106.6,343.0l0.0,-1.1M103.6,346.0 L104.6,345.0 L105.6,344.0 L106.6,343.0M90.0,349.0 L91.3,348.6 L92.6,348.0 L93.9,347.6 L95.3,347.2 L96.7,347.0 L98.1,346.8 L99.4,346.5 L100.8,346.4 L102.2,346.2 L103.6,346.0M87.3,351.4l0.7,-0.8M87.3,351.4 L88.4,352.3 L89.4,353.3M89.4,353.2 L90.6,353.8 L91.8,354.5M88.6,352.0 L89.4,353.2 L90.1,354.3 L91.0,355.4M91.2,353.0l0.2,1.2M94.0,353.1l0.5,-0.5M98.1,352.5l-0.3,-1.1M96.8,353.2 L98.1,352.5 L99.3,351.9M91.2,353.0 L92.6,353.0 L94.0,353.1 L95.4,353.2 L96.8,353.2M86.0,351.0 L87.3,351.4 L88.6,352.0 L90.0,352.4 L91.2,353.0 L92.5,353.5 L93.8,354.1 L95.0,354.7 L96.3,355.3M66.7,378.0 L67.6,378.2 L68.6,378.6 L69.6,378.7 L70.5,378.3 L71.4,378.0 L72.2,377.4M60.6,369.1 L61.6,369.1 L62.6,369.0 L63.6,368.9 L64.3,368.2 L65.3,368.1 L66.3,368.0M70.5,368.7 L71.5,368.9 L72.2,369.5 L73.0,370.1 L73.3,371.1 L73.2,372.1 L73.3,373.1M67.2,376.7 L66.3,377.2 L65.3,377.0 L64.5,376.3 L63.8,375.6 L62.9,375.4 L61.9,375.2M72.0,370.0 L72.4,369.1 L72.1,368.1 L71.4,367.4 L70.4,367.3 L69.4,367.5 L68.4,367.3M67.2,376.8 L66.3,376.7 L65.4,376.1 L64.7,375.4 L64.2,374.5 L64.0,373.5 L64.4,372.6M74.9,370.3 L75.5,369.5 L76.1,368.7M62.4,367.9 L62.6,368.9 L62.6,369.9 L63.1,370.8 L63.1,371.8 L62.9,372.7 L62.9,373.7M70.3,376.8 L70.7,375.9 L71.4,375.2 L71.9,374.3 L71.7,373.3 L72.1,372.4 L72.0,371.4M72.3,372.6 L71.3,372.4 L70.4,372.1 L69.5,371.6 L68.5,371.5 L67.6,371.2 L66.8,370.5M73.2,373.7 L72.3,374.1 L71.5,374.7 L70.6,375.1 L69.6,375.3 L68.7,375.6 L67.7,375.3M71.5,360.5 L70.7,361.2 L69.8,361.6 L68.9,361.8 L67.9,361.5 L67.0,361.2 L66.0,361.4M70.1,372.0 L70.9,372.7 L71.5,373.5 L72.0,374.3 L72.9,374.8 L73.6,375.5 L74.5,375.7M72.1,372.9 L71.3,373.5 L70.9,374.4 L70.6,375.4 L70.1,376.2 L70.2,377.2 L70.7,378.1M62.0,372.6 L61.0,372.8 L60.0,372.9 L59.2,373.5 L58.2,373.7M74.9,374.1 L75.9,373.9M63.0,367.0 L62.1,366.7 L61.3,366.0 L60.4,365.7 L59.4,365.8 L58.4,365.7 L57.5,366.0M70.3,367.4 L69.8,368.2 L69.4,369.2 L69.2,370.1 L69.3,371.1 L69.9,371.9 L70.7,372.5M68.6,363.2 L69.0,364.1 L68.7,365.1 L67.9,365.8 L67.7,366.7 L67.8,367.7 L67.3,368.6M65.6,373.9 L65.1,374.7 L65.1,375.7 L65.2,376.7 L65.2,377.7 L65.6,378.6 L66.5,379.2M61.0,374.1 L62.0,374.3 L63.0,374.1 L63.9,373.8 L64.9,373.5 L65.9,373.6 L66.8,373.9M72.1,369.4 L72.1,370.4 L72.1,371.4 L72.3,372.4 L72.4,373.4 L72.0,374.3 L72.1,375.3M59.5,372.0 L58.6,371.5 L58.2,370.6 L57.7,369.7 L57.8,368.7 L57.7,367.7 L58.2,366.9M71.5,362.6 L70.7,362.1 L69.8,361.7 L68.8,361.5 L67.8,361.4 L66.8,361.6 L65.8,361.8M61.8,369.6 L62.8,369.4 L63.8,369.5 L64.7,369.0 L65.7,368.9 L66.7,368.8 L67.6,369.0M60.0,373.9 L61.0,374.0 L62.0,373.9 L63.0,374.0 L64.0,374.3 L65.0,374.4 L65.8,374.9M68.4,378.2 L68.0,379.1M74.3,374.7 L74.8,373.9 L75.7,373.5M66.4,366.6 L65.9,367.5 L65.0,368.0 L64.3,368.7 L64.0,369.6 L63.8,370.6 L64.2,371.6M60.3,373.2 L59.9,372.3 L59.3,371.5 L59.0,370.6 L59.1,369.6 L58.8,368.7 L58.2,367.9M71.8,374.5 L70.8,374.8 L69.8,375.0 L68.9,374.8 L67.9,374.8 L66.9,374.7 L66.0,374.4M65.6,364.4 L65.8,365.4 L65.4,366.3 L64.9,367.2 L64.3,368.0 L64.1,369.0 L63.6,369.9M66.3,368.2 L66.9,369.1 L67.8,369.4 L68.8,369.3 L69.8,368.9 L70.8,368.9 L71.6,369.4M69.6,373.5 L70.6,373.4 L71.5,373.0 L72.3,372.5 L73.2,372.0 L73.6,371.1 L74.5,370.5M69.2,362.0 L70.0,361.4 L70.9,361.2 L71.9,360.8 L72.9,360.8M69.3,372.5 L69.9,371.7 L70.3,370.8 L71.0,370.1 L71.9,369.7 L72.6,369.0 L73.4,368.4M61.1,365.4 L60.6,366.2 L60.1,367.1 L59.6,368.0 L58.8,368.6 L58.0,369.2 L57.0,369.4M72.6,369.4 L73.5,369.0 L74.5,368.8 L75.5,368.7 L76.4,368.9M70.4,365.5 L69.7,364.8 L69.5,363.9 L69.0,363.0 L68.4,362.2 L68.0,361.3 L68.1,360.3M65.0,363.6 L64.3,362.9 L63.6,362.1 L62.7,361.7 L62.3,360.8 L62.1,359.8M59.3,364.0 L59.1,363.0M71.3,376.0 L72.2,376.5 L73.1,377.0M68.8,364.2 L69.8,364.1 L70.7,363.7 L71.2,362.8 L72.0,362.3 L72.8,361.6 L73.6,361.1M64.5,376.6 L64.3,377.6 L64.6,378.6 L65.2,379.4 L66.1,379.7M74.4,374.7 L73.4,374.9 L72.4,375.1 L71.5,374.8 L70.5,374.6 L69.5,374.5 L68.5,374.7M69.0,363.1 L69.7,363.8 L70.0,364.8 L70.8,365.4 L71.4,366.1 L72.4,366.3 L73.3,366.9M72.9,368.4 L73.9,368.3 L74.6,367.6 L75.3,366.9 L76.1,366.3 L76.3,365.3M70.3,369.2 L71.3,369.3 L72.3,369.1 L73.0,368.4 L73.9,367.9 L74.8,367.6 L75.7,367.1M61.4,374.1 L60.8,374.9 L60.2,375.7M65.7,373.1 L66.7,373.2 L67.6,373.6 L68.6,373.3 L69.5,373.1 L70.5,373.2 L71.5,373.1M68.9,375.2 L68.2,374.6 L67.4,374.0 L66.6,373.4 L65.8,372.8 L65.3,371.9 L64.8,371.1M74.8,366.5 L74.4,365.6 L74.5,364.6 L74.4,363.6 L74.0,362.7 L73.1,362.2 L72.6,361.3M75.8,367.5 L76.3,366.7 L76.3,365.7M67.1,376.1 L67.8,375.4 L68.6,374.9 L69.1,374.0 L70.0,373.6 L71.0,373.6 L71.9,373.0M66.6,360.4 L65.7,360.9 L64.8,361.3 L64.2,362.0 L63.9,363.0 L63.1,363.6 L62.8,364.6M71.1,373.7 L70.4,373.0 L70.1,372.1 L70.1,371.1 L69.6,370.2 L69.4,369.2 L69.2,368.3M88.9,347.0 L89.6,347.7 L90.2,348.5 L90.3,349.5 L90.6,350.5 L91.4,351.1M85.2,348.8 L86.1,349.1 L87.1,349.2 L88.1,349.1 L89.1,349.1 L89.9,349.8M89.0,345.9 L90.0,345.8 L90.9,346.0 L91.9,346.5 L92.6,347.2 L92.9,348.1M93.8,349.3 L94.7,348.8 L95.5,348.2 L96.2,347.4 L96.3,346.5 L96.8,345.6M93.7,350.2 L94.7,350.2M90.2,343.3 L91.2,343.4 L92.2,343.3 L93.0,342.8M89.2,350.4 L88.5,349.7 L87.7,349.1 L86.7,349.0 L85.7,348.7 L84.8,349.0M87.7,345.5 L88.5,346.0 L89.4,346.5 L90.1,347.2 L91.1,347.4 L92.0,347.0M95.3,346.7 L95.2,345.7 L95.5,344.8 L96.3,344.2M90.9,348.8 L90.5,347.9 L90.7,346.9 L91.0,346.0 L91.7,345.2 L92.4,344.6" fill="none" stroke="#16898e" stroke-width="0.33" stroke-opacity="0.9" stroke-linecap="round"/>
<circle cx="72" cy="385.8" r="1.2" fill="#16898e"/>
<path d="M214.5,339.0 L210.5,344.0 L204.5,350.0 L199.5,357.0 L195.5,363.0 L191.5,369.0" fill="none" stroke="#16898e" stroke-width="0.6" stroke-linejoin="round"/>
<path d="M212.1,341.9l1.1,0.6M213.4,341.4l0.1,-0.9M215.5,339.7l0.0,-0.7M216.4,338.6l0.7,0.3M217.1,337.4l-0.9,-0.9M214.7,340.8 L215.5,339.7 L216.4,338.6 L217.1,337.4M215.9,340.3l0.8,0.7M217.4,338.3l0.7,-0.2M217.2,339.7 L217.4,338.3 L217.5,336.9M218.5,339.1l0.8,0.2M209.5,343.0 L210.8,342.5 L212.1,341.9 L213.4,341.4 L214.7,340.8 L215.9,340.3 L217.2,339.7 L218.5,339.1M193.2,376.6 L192.7,375.7 L191.9,375.1 L190.9,375.1 L189.9,375.3 L189.0,375.7 L188.1,376.1M179.8,365.8 L178.8,365.9 L177.9,366.2M184.4,359.6 L183.8,360.5 L183.2,361.3 L182.6,362.1 L182.5,363.1 L181.9,363.9 L181.7,364.9M178.9,364.2 L179.9,364.1 L180.7,363.6 L181.7,363.4 L182.7,363.3 L183.6,362.8 L184.1,361.9M182.3,384.1 L182.3,385.1 L181.8,386.0 L181.1,386.7 L180.7,387.6M189.8,362.7 L188.8,363.0 L187.8,363.0 L186.9,363.1 L185.9,362.9 L184.9,362.7 L184.0,362.3M194.6,377.3 L195.4,376.7 L196.1,376.0 L197.1,375.7 L198.1,375.6 L199.1,375.7 L199.9,375.1M190.0,374.6 L189.0,374.5 L188.1,375.0 L187.5,375.8 L186.9,376.6 L186.8,377.6 L186.7,378.6M185.7,358.4 L186.3,359.2 L186.9,360.0 L187.9,360.3 L188.9,360.4 L189.8,360.2 L190.8,360.0M197.5,372.8 L197.1,373.7 L196.5,374.5 L196.4,375.5 L196.9,376.4 L197.8,376.8 L198.8,376.6M183.4,378.4 L184.4,378.3 L185.3,378.5 L186.3,378.4 L187.2,377.9 L188.2,377.8 L189.2,377.9M178.6,375.2 L178.7,376.2 L178.6,377.2 L178.3,378.1 L178.7,379.1 L179.2,379.9 L180.1,380.4M183.1,386.7 L182.6,385.8 L181.9,385.2 L181.3,384.4 L180.8,383.5 L180.3,382.7 L179.5,382.1M190.4,387.5 L189.6,388.1 L188.8,388.7 L188.0,389.3 L187.0,389.4 L186.2,390.0 L185.7,390.9M195.1,372.2 L195.9,371.6 L196.4,370.7 L197.0,369.9 L197.1,368.9 L197.8,368.1 L198.2,367.3M180.5,374.5 L179.6,374.2 L178.6,373.9 L177.8,373.3 L176.8,373.3M179.6,382.3 L179.9,381.3 L180.1,380.4 L179.7,379.5 L178.9,378.9 L178.1,378.2 L177.2,377.8M188.1,372.3 L188.8,371.5 L189.6,370.9 L190.0,370.0 L190.4,369.1 L191.1,368.4 L191.4,367.5M180.1,374.9 L179.6,375.7 L178.9,376.4 L178.4,377.3 L177.7,377.9 L176.7,378.2M191.6,381.4 L192.6,381.9 L193.2,382.6 L194.0,383.2 L194.9,383.8 L195.6,384.5 L196.4,385.0M189.0,362.7 L190.0,362.7 L190.9,362.3 L191.9,362.4 L192.8,362.8 L193.8,362.8 L194.7,362.4M196.5,364.2 L196.2,363.3 L196.3,362.3M197.1,366.9 L197.5,366.0M187.9,358.7 L187.0,359.0 L186.0,358.9 L185.0,359.2 L184.3,359.8 L183.3,360.1 L182.4,359.8M198.5,372.8 L197.6,373.1 L196.6,372.9 L195.6,372.9 L194.6,372.9 L193.7,373.3 L193.1,374.2M192.3,374.7 L191.5,375.4 L190.9,376.2 L190.6,377.1 L189.8,377.8 L188.8,378.0 L187.9,377.7M198.9,377.3 L199.8,376.9M185.4,378.6 L186.3,378.0 L187.1,377.5 L188.1,377.7 L189.1,377.7 L189.9,377.1 L190.9,377.0M184.7,381.2 L183.7,381.2 L182.7,380.8 L182.2,380.0 L181.3,379.6 L180.5,379.0 L179.7,378.4M197.1,367.8 L196.9,366.8 L197.4,365.9M178.8,366.6 L178.1,365.9M181.6,362.0 L181.7,361.0 L182.1,360.1M198.0,380.0 L198.3,379.0 L198.0,378.0 L197.4,377.3 L196.7,376.6 L195.7,376.3 L194.7,376.3M189.4,380.1 L188.6,380.7 L187.8,381.4 L187.3,382.3 L186.7,383.0 L185.8,383.5 L184.8,383.5M190.6,365.3 L191.5,364.8 L192.5,364.5 L193.0,363.7 L193.4,362.7 L193.5,361.7 L193.7,360.7M193.2,362.7 L192.4,363.3 L191.8,364.1 L190.8,364.3 L190.1,365.0 L189.3,365.6 L188.5,366.2M184.9,379.6 L184.0,379.2 L183.0,379.0 L182.0,378.9 L181.2,378.3 L180.9,377.4 L181.1,376.4M185.4,371.9 L185.2,370.9 L185.5,370.0 L186.0,369.1 L186.7,368.4 L187.6,368.0 L188.3,367.2M183.8,385.5 L184.4,384.6 L185.3,384.2 L185.8,383.3 L186.4,382.5 L186.4,381.5 L186.2,380.5M189.5,366.7 L190.3,367.3 L191.3,367.5 L192.3,367.5 L193.1,366.9 L193.6,366.1 L193.8,365.1M187.7,365.0 L188.4,365.8 L189.2,366.4 L190.0,367.0 L191.0,367.2 L191.7,368.0 L192.6,368.3M179.0,366.4 L178.0,366.3M192.1,366.5 L191.7,367.4 L191.8,368.4 L191.8,369.3 L192.0,370.3 L192.0,371.3 L192.2,372.3M178.1,376.2 L177.1,376.0 L176.2,376.2M190.2,368.9 L189.2,369.2 L188.4,369.7 L187.9,370.6 L187.1,371.2 L186.2,371.7 L185.4,372.2M186.7,379.4 L186.6,380.3 L186.6,381.3 L186.7,382.3 L187.0,383.3 L186.7,384.2 L186.1,385.0M188.9,368.6 L188.7,369.6 L189.1,370.5 L189.7,371.3 L190.7,371.5 L191.6,371.8 L192.6,372.0M179.4,375.3 L180.4,375.2 L181.3,375.5 L182.3,375.3 L183.1,374.8 L184.1,374.9 L185.1,374.9M189.9,370.3 L189.3,369.6 L188.6,368.9 L188.2,367.9 L188.5,367.0 L189.1,366.2 L189.6,365.3M196.5,375.1 L196.0,376.0 L195.7,376.9 L196.0,377.9 L196.0,378.9 L196.4,379.8 L197.0,380.6M186.1,383.1 L185.1,383.1 L184.3,383.7 L183.3,384.1 L182.8,384.9 L182.6,385.9 L181.8,386.5M185.5,365.1 L185.4,364.2 L184.7,363.4 L184.5,362.4 L183.7,361.8 L182.7,361.5 L181.9,361.0M183.1,374.3 L182.4,373.6 L181.6,373.0 L181.4,372.0 L181.6,371.0 L181.2,370.1 L180.4,369.5M180.2,377.5 L180.2,378.5 L180.5,379.4 L181.3,380.0 L182.2,380.4 L182.9,381.1 L183.8,381.5M199.1,369.9 L198.8,370.8 L198.2,371.7 L197.9,372.6 L197.8,373.6 L198.2,374.5 L198.9,375.2M194.6,364.8 L193.6,365.2 L192.6,365.3 L191.6,365.4 L190.8,366.0 L189.8,366.1 L188.9,365.7M188.6,387.0 L189.3,386.3 L190.2,386.0 L190.9,385.3 L191.9,385.0 L192.9,385.0 L193.8,385.3M199.9,373.8 L199.7,374.8M189.4,384.7 L188.8,385.4 L187.8,385.6 L186.8,386.0 L185.9,386.1 L184.9,385.7 L184.3,385.0M180.1,363.8 L179.6,363.0M190.8,381.1 L191.6,380.5 L192.4,379.9 L193.0,379.1 L193.2,378.1 L193.9,377.4 L194.2,376.4M184.4,363.2 L184.9,362.3 L184.8,361.3 L184.9,360.3 L184.7,359.4 L184.1,358.5M181.6,361.1 L181.6,362.1 L181.5,363.1 L181.9,364.0 L182.2,365.0 L182.9,365.6 L183.5,366.5M186.4,361.2 L185.5,360.9 L184.5,360.5 L183.9,359.8 L183.5,358.9M197.5,366.4 L196.6,365.9 L195.7,365.4 L194.8,365.3 L194.0,364.6 L193.9,363.6 L194.1,362.6M199.2,371.6 L198.2,371.3 L197.2,371.1 L196.3,370.6 L195.3,370.5 L194.3,370.6 L193.3,370.5M195.6,368.2 L194.7,368.4 L193.7,368.4 L192.7,368.5 L191.7,368.6 L190.8,368.1 L190.1,367.4M189.0,361.9 L188.8,360.9 L188.0,360.3 L187.0,360.2 L186.0,360.0 L185.0,360.0 L184.0,359.9M196.2,381.8 L196.4,380.8 L197.0,380.0 L197.7,379.2 L198.5,378.8 L199.0,377.9 L199.0,376.9M178.9,383.3 L179.6,382.6 L179.8,381.6 L179.3,380.7 L179.2,379.7 L178.9,378.8 L178.3,377.9M180.8,387.2 L179.9,386.7 L179.2,386.0M184.7,359.8 L184.7,358.8M185.4,378.8 L185.3,379.8 L185.5,380.8 L185.0,381.7 L184.2,382.3 L183.5,383.0 L182.9,383.8M193.5,381.8 L194.2,382.6 L194.8,383.4 L195.4,384.2 L195.5,385.2 L195.2,386.2 L194.4,386.8M188.7,364.0 L189.3,364.8 L189.2,365.8 L189.0,366.8 L189.3,367.7 L188.9,368.7 L188.1,369.3M179.5,378.5 L180.4,377.9 L180.6,376.9 L180.5,376.0 L180.3,375.0 L180.2,374.0 L180.5,373.0M199.4,372.2 L199.6,371.2 L199.3,370.3 L198.7,369.5 L198.0,368.8 L197.1,368.3 L196.1,368.1M194.2,379.0 L195.2,378.9 L196.1,378.5 L196.7,377.7 L197.2,376.9 L197.4,375.9 L197.9,375.0M204.7,351.6 L205.6,352.1M205.3,353.4 L204.9,352.5 L204.1,351.9 L203.2,351.5 L202.5,350.8 L201.8,350.1M201.0,354.9 L201.3,355.8M191.7,350.3 L191.9,351.3 L191.8,352.3 L192.0,353.3 L192.6,354.0 L193.0,355.0M196.1,356.1 L196.5,355.2 L196.3,354.2 L196.1,353.2 L195.6,352.4 L194.8,351.7M202.9,352.2 L202.1,351.8 L201.5,350.9 L200.8,350.3 L199.8,350.1 L198.8,349.9M199.9,350.7 L200.7,350.0 L201.5,349.5 L202.3,348.9 L203.3,348.7M192.9,351.4 L192.3,352.1 L191.6,352.8 L191.4,353.8M204.0,352.2 L204.8,351.6 L205.8,351.6M197.3,355.8 L197.1,354.8 L197.3,353.8 L198.0,353.1 L198.0,352.1 L198.0,351.1M200.9,348.3 L201.9,348.2 L202.9,348.3 L203.8,348.7M197.1,353.9 L196.5,354.6 L195.5,354.9 L194.5,355.0 L193.6,354.7 L192.6,354.7M192.4,348.9 L191.7,349.7 L191.3,350.6M208.1,343.4 L207.1,343.2 L206.2,342.7 L205.4,342.2 L204.4,342.3M208.4,343.0 L208.6,342.0 L209.2,341.3 L209.3,340.3 L209.8,339.4M205.9,344.1 L206.9,343.9 L207.8,344.2 L208.5,345.0 L209.4,345.2M207.9,344.4 L207.4,345.3 L206.4,345.6 L205.5,345.9M210.9,345.3 L211.0,346.3M208.8,339.9 L209.8,339.8 L210.6,339.3M210.6,343.6 L210.3,342.7 L210.3,341.7 L210.8,340.8 L211.0,339.8M204.9,342.9 L204.0,342.5M208.5,341.6 L208.8,340.7 L209.3,339.8 L210.2,339.3M210.9,346.2 L209.9,346.5" fill="none" stroke="#16898e" stroke-width="0.33" stroke-opacity="0.9" stroke-linecap="round"/>
<path d="M344.0,339.0 L339.0,334.0 L333.0,332.0 L327.0,335.0 L321.0,342.0 L315.0,349.0 L309.0,355.0 L303.0,361.0M296.0,353.4 L299.0,358.0 L302.0,361.0" fill="none" stroke="#16898e" stroke-width="0.6" stroke-linejoin="round"/>
<path d="M343.8,337.0l0.6,-1.3M345.2,336.9l0.2,-0.7M345.2,336.9 L345.8,335.6 L346.3,334.3 L346.7,333.0M341.0,337.0 L342.4,336.9 L343.8,337.0 L345.2,336.9 L346.6,336.7 L348.0,336.7 L349.4,336.8 L350.8,336.9M331.0,329.3l1.4,-0.5M329.0,333.0 L329.7,331.8 L330.4,330.5 L331.0,329.3M301.0,362.2 L300.1,362.6 L299.4,363.3 L299.0,364.3 L298.9,365.3M304.3,360.5 L304.6,361.5 L304.4,362.5 L304.0,363.4 L304.0,364.4 L304.2,365.4M305.6,358.3 L304.9,357.6 L304.9,356.6M302.5,358.5 L301.8,357.8 L301.2,356.9 L300.5,356.2M300.9,363.5 L301.2,364.5 L301.9,365.2 L302.9,365.5 L303.8,365.3 L304.8,365.2M298.2,359.6 L299.1,359.8 L300.1,359.7 L301.0,359.1 L301.2,358.1 L302.0,357.5M305.8,363.1 L305.5,364.1 L305.9,365.0M298.7,364.7 L299.7,364.5 L300.7,364.3 L301.6,364.8 L302.5,365.2 L303.4,365.7M301.2,358.4 L302.1,358.6 L302.8,359.3 L303.3,360.2 L304.0,360.9 L304.5,361.7M305.1,358.7 L304.1,358.4 L303.1,358.4 L302.2,358.7 L301.4,359.4 L300.8,360.2M307.3,361.8 L307.9,362.6 L308.4,363.5M303.5,358.6 L302.5,358.7 L301.5,358.9 L300.7,359.5 L299.9,360.1 L299.5,361.0M304.5,359.6 L304.6,358.6 L304.4,357.6 L304.0,356.7 L303.2,356.2 L302.2,356.1M300.0,363.8 L301.0,363.7 L301.8,363.0 L302.5,362.4 L302.9,361.5 L303.6,360.8M306.5,361.1 L306.7,360.1 L307.0,359.1 L307.0,358.1 L306.8,357.2M304.3,365.5 L304.4,364.5 L304.5,363.6 L305.2,362.8 L305.8,362.0 L306.4,361.2M306.3,364.1 L306.8,363.1 L306.9,362.2 L307.6,361.5 L308.1,360.6 L308.1,359.6M304.2,361.3 L303.5,360.5 L303.1,359.6 L303.3,358.6 L304.0,357.9 L304.9,357.6M298.1,363.0 L298.8,362.3 L299.3,361.4 L300.1,360.8 L300.5,359.9 L300.5,358.9M307.8,360.9 L307.3,361.8 L306.9,362.7 L307.1,363.7 L307.9,364.3M305.7,358.2 L306.7,358.5 L307.6,358.8 L308.6,358.8M307.2,358.7 L307.7,359.5 L308.2,360.4 L309.1,360.9 L309.8,361.6M304.3,358.9 L305.0,359.6 L305.9,360.1 L306.4,360.9 L306.9,361.8 L307.4,362.7M304.6,358.8 L304.8,357.8 L304.9,356.8 L305.6,356.1M304.7,359.4 L304.8,358.4 L304.3,357.6 L303.8,356.7 L303.8,355.7M297.6,361.4 L297.6,362.4 L298.2,363.1 L298.9,363.9 L299.3,364.8 L299.8,365.6M303.3,362.2 L302.9,361.3 L303.1,360.3 L303.5,359.4 L303.5,358.4 L304.0,357.6M302.0,356.6 L301.0,356.4 L300.0,356.6 L299.0,356.6M308.3,362.5 L307.5,361.9 L307.0,361.0 L307.1,360.0 L307.0,359.0 L307.3,358.1M297.7,361.0 L296.7,361.0M306.9,360.1 L307.0,359.1 L307.3,358.1 L307.5,357.1M298.5,361.5 L299.3,360.8 L300.2,360.7 L301.2,360.5 L302.2,360.2 L303.2,360.1M303.0,359.4 L303.7,360.2 L304.5,360.8 L305.4,361.1 L306.0,361.9 L306.8,362.5M306.5,359.8 L306.1,360.7 L306.3,361.7 L307.0,362.4 L307.9,362.7 L308.9,362.4M300.6,362.7 L301.5,363.0 L302.3,363.5 L303.3,363.5 L304.3,363.1 L305.2,362.8M307.2,358.0 L307.3,357.0M304.7,359.3 L305.5,359.8 L306.4,360.3 L307.2,360.8 L307.8,361.6 L308.7,362.1M301.8,357.5 L301.1,358.3 L300.7,359.2 L300.2,360.1 L299.6,360.9 L298.7,361.3M301.9,365.6 L302.6,366.3M307.3,356.8 L306.9,357.7 L306.8,358.7 L307.0,359.7 L307.7,360.4 L308.4,361.0M307.7,363.8 L306.7,363.5 L305.9,362.8 L305.0,362.6 L304.0,362.5 L303.0,362.7M304.9,356.2 L304.0,356.7 L303.4,357.5 L303.5,358.5 L303.5,359.5 L303.9,360.4M303.1,356.2 L303.6,357.1 L304.0,358.0 L304.3,358.9 L304.0,359.9 L303.3,360.6M298.0,358.2 L297.0,358.2M299.9,358.7 L300.7,359.2 L301.7,359.5 L302.7,359.7 L303.6,359.6 L304.6,359.6M297.8,363.9 L297.0,363.3 L296.5,362.4M297.1,359.9 L297.3,358.9 L297.9,358.2 L298.6,357.5 L299.4,356.8M303.3,364.6 L302.4,364.1 L301.4,364.2 L300.5,364.5 L299.5,364.4 L298.5,364.5M304.6,359.2 L304.7,358.2 L304.8,357.2 L304.3,356.3M305.0,356.5 L304.0,356.3 L303.1,356.6 L302.1,356.7 L301.1,356.8 L300.1,356.6M299.6,358.7 L299.9,357.8 L300.7,357.2 L301.0,356.2 L301.8,355.7M308.8,362.8 L307.9,362.3 L306.9,362.3 L306.0,362.5 L305.1,362.0 L304.5,361.2M301.7,361.2 L301.8,360.2 L302.2,359.3 L302.6,358.4 L303.4,357.9 L304.0,357.0M304.6,356.5 L305.6,356.7 L306.6,356.6M308.5,359.9 L307.6,359.8 L306.6,360.1 L305.6,360.3 L304.9,361.1 L304.1,361.6M307.7,362.6 L308.0,363.5M308.5,361.7 L308.8,360.8 L309.4,360.0M306.5,364.4 L305.5,364.0 L304.6,364.1 L303.7,364.6 L302.7,365.0 L301.7,365.0M301.7,357.0 L302.4,357.7 L303.1,358.4 L304.0,358.8 L304.9,359.2 L305.9,359.4M301.3,364.4 L300.8,363.6 L300.2,362.8 L299.4,362.2 L298.7,361.5 L298.4,360.6M302.5,365.6 L301.7,366.2" fill="none" stroke="#16898e" stroke-width="0.45" stroke-opacity="0.9" stroke-linecap="round"/>
<circle cx="296" cy="353.4" r="1.1" fill="#16898e"/>
<path d="M94.0,488.0 L88.0,485.0 L80.0,483.0 L74.0,480.0 L68.0,478.0 L66.0,488.0 L65.5,500.0 L65.8,510.0" fill="none" stroke="#dc9434" stroke-width="0.6" stroke-linejoin="round"/>
<path d="M72.7,471.3l0.7,1.0M74.0,470.8l0.6,1.0M75.7,465.5l-0.4,-1.3M76.2,464.2l1.1,-0.5M74.0,470.8 L74.4,469.5 L74.8,468.1 L75.1,466.8 L75.7,465.5 L76.2,464.2M75.4,470.5l0.8,-1.3M78.2,470.1l0.7,0.9M82.3,469.5l0.9,-1.0M83.7,469.1l0.3,-1.0M86.4,468.4l0.8,0.5M70.0,472.0 L71.4,471.6 L72.7,471.3 L74.0,470.8 L75.4,470.5 L76.8,470.2 L78.2,470.1 L79.5,469.8 L80.9,469.6 L82.3,469.5 L83.7,469.1 L85.0,468.7 L86.4,468.4M74.6,473.8l-0.3,-1.1M75.9,473.2l-0.2,-0.9M77.2,472.6l0.9,0.2M78.5,472.1l0.3,-0.7M73.3,474.4 L74.6,473.8 L75.9,473.2 L77.2,472.6 L78.5,472.1 L79.8,471.6M74.7,474.7l0.6,0.8M80.0,476.5l0.4,-0.7M82.7,477.4l0.8,-0.3M83.8,476.7l1.1,0.1M85.0,475.9l0.3,-1.3M88.6,472.0l0.8,0.1M87.4,474.5 L88.0,473.2 L88.6,472.0M82.7,477.4 L83.8,476.7 L85.0,475.9 L86.2,475.2 L87.4,474.5 L88.6,473.7M86.1,482.6l-0.3,0.7M86.1,482.6 L85.5,483.9 L84.9,485.1M85.2,478.5 L85.4,479.9 L85.8,481.3 L86.1,482.6M86.5,479.2l1.1,-0.2M86.9,480.5l-0.6,1.2M87.4,481.8l-0.9,1.0M86.5,479.2 L86.9,480.5 L87.4,481.8 L88.0,483.1 L88.4,484.4M72.0,474.0 L73.3,474.4 L74.7,474.7 L76.0,475.2 L77.4,475.6 L78.7,476.0 L80.0,476.5 L81.3,477.0 L82.7,477.4 L84.0,478.0 L85.2,478.5 L86.5,479.2M84.2,482.0l1.0,1.1M85.6,482.0l0.5,1.0M89.1,483.9l-0.7,1.2M90.1,484.9l-0.3,0.8M87.0,482.1 L88.1,483.0 L89.1,483.9 L90.1,484.9M92.0,483.6l1.0,0.0M92.8,486.2l-0.5,0.4M93.0,487.6l1.0,0.7M92.6,484.8 L92.8,486.2 L93.0,487.6M93.9,487.3 L95.1,488.0 L96.3,488.8M91.2,482.4 L92.0,483.6 L92.6,484.8 L93.2,486.1 L93.9,487.3M92.6,482.5l0.7,-0.8M93.9,482.7l0.7,-0.5M80.0,482.0 L81.4,481.9 L82.8,481.9 L84.2,482.0 L85.6,482.0 L87.0,482.1 L88.4,482.2 L89.8,482.4 L91.2,482.4 L92.6,482.5 L93.9,482.7M64.0,501.9 L64.4,502.8 L65.1,503.6 L65.4,504.5 L65.9,505.4 L66.8,505.8 L67.8,505.9M64.6,501.1 L65.2,501.8 L65.4,502.8 L65.6,503.8 L66.0,504.6 L66.8,505.3 L67.5,506.0M66.4,486.6 L65.9,485.7 L65.0,485.3 L64.0,485.2M71.3,489.9 L72.3,489.8 L73.0,489.0 L73.8,488.5M62.2,489.7 L63.1,490.2 L64.1,490.2 L65.1,490.2 L66.1,490.4 L67.1,490.5 L67.9,491.1M69.5,501.9 L70.5,501.9 L71.5,502.2 L72.5,502.1 L73.3,502.6 L74.2,503.1M68.4,505.1 L68.2,506.1 L67.7,506.9 L66.8,507.3 L65.8,507.1 L64.8,507.3 L63.8,507.4M63.0,504.4 L63.7,503.7 L64.7,503.7 L65.6,504.2 L66.0,505.1 L66.0,506.1 L65.4,506.9M66.9,485.5 L67.1,486.4 L67.5,487.4 L67.2,488.3 L67.1,489.3 L67.6,490.2 L67.8,491.2M62.8,490.6 L61.9,491.1 L61.2,491.8 L61.0,492.8 L60.3,493.6 L60.0,494.5 L59.7,495.5M75.5,499.1 L75.3,500.1 L75.4,501.1M66.3,500.6 L66.9,501.4 L67.9,501.8 L68.8,501.5 L69.8,501.7 L70.6,502.3 L71.6,502.6M70.4,488.9 L69.5,488.4 L68.6,488.0 L68.0,487.2 L67.6,486.3 L66.7,485.8 L66.1,485.0M70.9,501.5 L70.2,502.3 L69.6,503.1 L68.8,503.6 L68.4,504.5 L68.4,505.5 L68.9,506.4M63.1,487.3 L62.4,488.0 L61.4,488.2 L60.4,488.3M71.9,487.4 L72.4,488.3 L72.6,489.3 L72.2,490.2 L72.3,491.2 L72.2,492.2 L72.0,493.1M64.1,495.8 L64.2,494.8 L63.7,493.9 L63.8,492.9 L64.4,492.1 L65.0,491.3 L64.9,490.3M70.0,490.6 L69.5,491.5 L69.6,492.5 L69.3,493.5 L68.9,494.4 L68.5,495.3 L67.6,495.7M68.2,506.6 L67.2,506.7 L66.2,506.6 L65.2,506.7 L64.5,507.3 L63.5,507.4M62.5,501.0 L62.2,500.1 L62.0,499.1 L61.7,498.1 L61.1,497.4 L60.9,496.4 L61.2,495.4M71.8,487.0 L72.8,486.8M68.0,497.4 L67.6,498.3 L67.5,499.3 L66.8,500.0 L66.1,500.8 L65.8,501.7 L66.2,502.7M69.3,500.3 L68.3,500.4 L67.3,500.4 L66.4,500.2 L65.4,500.5 L64.7,501.2 L63.9,501.7M67.7,497.8 L67.5,496.8 L67.4,495.8 L67.0,495.0 L66.4,494.1 L66.3,493.1 L66.7,492.2M64.8,485.5 L63.8,485.5M64.1,485.4 L63.2,485.7 L62.7,486.6 L62.3,487.5 L61.6,488.2 L60.9,488.9 L60.7,489.9M62.4,487.7 L62.4,488.7 L62.7,489.6 L62.6,490.6 L62.7,491.6 L63.1,492.5 L63.4,493.5M62.0,491.8 L61.9,490.8 L62.2,489.8 L62.2,488.8 L62.0,487.8 L61.5,486.9M69.1,494.7 L69.5,493.8 L69.9,492.9 L69.8,491.9 L70.3,491.0 L70.5,490.0 L71.2,489.3M67.1,493.5 L66.5,492.7 L65.9,492.0 L65.5,491.0 L64.7,490.5 L63.8,490.0 L62.8,489.9M68.1,501.2 L68.8,500.4 L69.6,499.9 L70.6,499.9 L71.4,500.4 L72.4,500.7 L73.4,500.7M69.6,491.7 L69.9,490.7 L69.7,489.8 L69.3,488.8 L68.5,488.2 L67.7,487.7 L67.2,486.8M64.6,490.7 L64.9,489.8 L65.4,488.9 L65.5,487.9 L64.9,487.1 L64.6,486.2 L64.1,485.3M59.8,492.0 L60.3,491.2 L60.2,490.2 L60.1,489.2 L60.6,488.3M75.2,495.1 L75.8,495.9M68.8,503.6 L68.9,504.6 L68.9,505.6 L69.2,506.6 L69.9,507.3M61.0,504.4 L61.2,503.4 L60.7,502.5 L60.6,501.5 L60.7,500.6 L60.4,499.6 L59.7,498.9M65.0,496.8 L64.9,497.8 L64.8,498.8 L64.4,499.7 L63.7,500.3 L63.1,501.1 L62.3,501.7M73.8,493.4 L74.3,494.3 L74.9,495.1 L75.1,496.0 L74.8,497.0 L74.5,498.0 L73.8,498.6M70.8,491.8 L70.2,492.6 L69.4,493.3 L68.5,493.8 L67.9,494.5 L67.8,495.5 L68.2,496.5M68.4,491.4 L69.1,490.6 L70.0,490.2 L71.0,490.0 L71.9,489.9 L72.6,489.2 L72.8,488.2M64.0,505.4 L64.6,506.2 L65.4,506.8 L65.9,507.7 L66.4,508.6M70.9,505.7 L70.2,506.4 L69.4,506.9 L68.6,507.5 L67.6,507.7 L66.7,508.2 L65.7,508.1M72.2,497.9 L71.9,498.9 L71.2,499.7 L71.0,500.6 L70.2,501.3 L69.3,501.8 L68.3,501.7M60.0,498.6 L60.7,497.8 L61.5,497.3 L62.3,496.7 L62.6,495.7 L62.7,494.7 L62.9,493.7M72.9,490.8 L73.9,490.8 L74.8,491.2 L75.3,492.1 L75.7,493.0M70.0,495.3 L69.0,495.2 L68.2,494.6 L67.7,493.7 L67.1,492.9 L66.3,492.3 L65.6,491.6M72.8,505.5 L72.3,504.7 L72.2,503.7 L71.9,502.7 L71.9,501.7 L71.8,500.7 L71.6,499.7M73.5,490.9 L74.2,490.2 L74.9,489.5M67.8,505.5 L68.0,506.4 L68.1,507.4 L68.5,508.4M61.6,497.0 L61.2,498.0 L60.4,498.5 L59.9,499.4 L59.8,500.4 L59.6,501.4M60.5,497.3 L60.4,498.3 L60.8,499.2 L61.1,500.2 L61.0,501.2 L60.3,501.9M65.3,495.0 L66.2,494.5 L66.6,493.6 L67.3,492.9 L68.0,492.1 L68.9,491.8 L69.9,491.6M62.6,488.1 L63.5,488.6 L64.5,488.9 L65.4,489.4 L66.3,489.4 L67.3,489.0 L68.3,488.9M73.1,494.6 L74.0,494.2 L74.7,493.5 L75.6,493.0M72.9,471.2 L72.4,470.4 L72.2,469.4 L71.6,468.6 L71.7,467.6 L71.8,466.6M71.9,468.7 L71.9,469.7 L71.4,470.6 L71.4,471.6 L71.3,472.6 L70.6,473.3M82.4,473.7 L81.9,474.6 L81.1,475.1 L80.1,475.5M87.3,470.8 L87.9,470.0 L88.0,469.0 L88.7,468.3 L89.3,467.4M80.6,462.2 L80.7,463.2 L80.9,464.2 L80.9,465.2 L81.4,466.1 L81.5,467.1M74.9,470.6 L74.6,469.7 L74.8,468.7 L74.4,467.7 L74.7,466.8 L74.3,465.9M88.5,467.7 L88.1,468.6 L87.4,469.3 L87.0,470.3 L86.3,470.9 L85.3,471.1M87.9,471.0 L88.8,470.6 L89.4,469.8M87.3,472.4 L86.4,472.8 L85.5,473.2 L84.7,473.7 L84.0,474.4 L83.1,475.0M83.5,470.2 L84.5,470.0 L85.5,470.2 L86.5,470.4 L87.5,470.3 L88.4,469.9M70.0,466.6 L69.5,467.5 L68.8,468.2 L68.1,468.9 L67.1,469.2 L66.2,468.9M85.8,464.6 L85.0,465.3 L84.4,466.1 L83.6,466.6 L82.6,466.9 L82.0,467.7M69.9,463.9 L70.9,463.8 L71.9,463.7 L72.9,463.8 L73.9,463.7 L74.8,464.0M71.4,471.0 L70.4,471.4 L69.5,471.4 L68.5,471.8 L67.5,471.8M72.7,472.2 L72.1,471.4 L71.4,470.7 L70.4,470.5 L69.5,470.2 L68.8,469.5M86.1,471.9 L87.1,471.8 L87.9,472.4M79.7,465.8 L79.4,464.8 L79.4,463.8 L78.9,462.9 L78.3,462.2M76.2,466.1 L77.1,466.6 L77.6,467.5 L77.7,468.4 L77.2,469.3 L76.3,469.8M78.2,467.7 L78.7,466.8 L79.6,466.4 L80.6,466.3 L81.6,466.2 L82.3,465.5M88.3,468.3 L88.8,469.2 L88.8,470.2 L89.4,471.0M85.1,467.7 L86.0,467.3 L87.0,467.3 L87.9,466.7 L88.9,466.6M75.6,465.7 L75.6,466.7 L76.2,467.5 L76.3,468.5 L75.7,469.3 L75.2,470.2M86.7,482.2 L87.1,483.1 L87.8,483.9 L88.8,484.0 L89.7,483.5 L90.5,483.0 L91.5,482.7M90.7,488.3 L89.9,489.0 L89.0,489.2 L88.3,489.9 L87.3,490.1 L86.3,489.9 L85.3,489.9M74.0,485.3 L75.0,485.7 L75.7,486.3 L76.3,487.1 L77.1,487.8 L77.7,488.6 L78.7,488.7M73.4,484.1 L73.2,483.1 L72.5,482.3M78.9,486.1 L79.3,487.0 L80.0,487.8 L80.5,488.6 L81.2,489.3 L82.1,489.8 L83.0,490.2M89.3,482.6 L90.3,482.3 L91.3,482.5 L92.2,482.1M82.2,489.1 L81.5,488.4 L80.5,488.0 L79.6,487.6 L78.7,487.3 L77.7,487.0 L76.9,486.4M84.6,486.3 L83.6,486.6 L82.7,487.0 L81.7,486.8 L80.7,487.2 L79.8,486.9 L78.8,486.7M79.3,483.4 L78.7,482.6 L78.1,481.8 L77.4,481.1 L76.4,481.0M74.1,485.9 L73.5,486.8 L72.6,487.2 L71.9,487.9 L71.4,488.7 L70.6,489.3" fill="none" stroke="#dc9434" stroke-width="0.33" stroke-opacity="0.9" stroke-linecap="round"/>
<circle cx="65.7" cy="509.6" r="1.2" fill="#dc9434"/>
<path d="M205.1,467.8 L200.4,478.4 L198.1,486.5 L196.3,492.4 L195.7,499.4 L192.2,504.1 L185.2,505.2 L178.2,502.9 L175.9,501.7M175.9,488.9 L176.1,496.0 L175.9,501.7" fill="none" stroke="#dc9434" stroke-width="0.6" stroke-linejoin="round"/>
<path d="M175.6,500.3l-1.4,-0.3M174.9,497.6l-1.4,-0.7M173.6,493.6l-1.9,-0.3M172.9,490.9l1.0,-1.5M172.6,489.6l0.9,-0.7M170.4,487.8l0.1,-0.9M168.5,485.8 L168.3,484.4 L168.2,483.0M172.6,489.6 L171.5,488.7 L170.4,487.8 L169.4,486.8 L168.5,485.8M172.3,488.2l-1.3,-0.9M171.9,486.9l-1.0,-0.4M170.6,486.3l-0.8,1.0M171.9,486.9 L170.6,486.3 L169.3,485.7 L168.1,484.9 L167.0,484.2M171.4,484.1l1.1,-0.8M172.2,482.9l-1.0,-1.0M172.9,481.7l-0.8,-1.2M174.0,479.2l-0.6,-1.5M171.4,484.1 L172.2,482.9 L172.9,481.7 L173.5,480.5 L174.0,479.2M168.0,480.7l-0.9,-1.0M168.0,480.7 L166.7,481.2 L165.4,481.7M166.6,480.5l-0.8,1.2M165.5,479.7l-1.4,0.3M166.6,480.5 L165.5,479.7 L164.4,478.8M162.7,481.2l0.2,1.6M163.8,480.3 L162.7,481.2 L161.7,482.2M170.7,481.4 L169.4,481.0 L168.0,480.7 L166.6,480.5 L165.2,480.4 L163.8,480.3M175.9,501.7 L175.6,500.3 L175.3,499.0 L174.9,497.6 L174.6,496.3 L174.1,494.9 L173.6,493.6 L173.3,492.3 L172.9,490.9 L172.6,489.6 L172.3,488.2 L171.9,486.9 L171.6,485.5 L171.4,484.1 L171.1,482.7 L170.7,481.4M174.5,499.3l-1.8,0.3M173.1,499.2l-0.6,-1.2M170.3,499.2l-0.4,-0.8M168.9,499.4l-0.1,1.0M166.4,498.6l-1.3,1.0M165.3,497.8l0.1,-1.0M167.5,499.4 L166.4,498.6 L165.3,497.8M174.5,499.3 L173.1,499.2 L171.7,499.1 L170.3,499.2 L168.9,499.4 L167.5,499.4M173.7,498.1l0.7,-1.3M172.9,497.0l0.3,-1.1M172.1,495.8l-1.5,0.5M171.4,494.6l1.1,-1.3M170.6,493.5l-1.8,-0.5M168.7,491.4l-1.3,0.3M165.3,489.7l-1.2,0.0M167.3,491.6 L166.3,490.7 L165.3,489.7M163.2,492.1l-0.4,1.0M159.7,490.5l-1.3,0.2M161.8,492.4 L160.7,491.5 L159.7,490.5M168.7,491.4 L167.3,491.6 L166.0,491.7 L164.6,492.0 L163.2,492.1 L161.8,492.4M167.7,490.4l0.8,-1.1M165.6,488.6l-1.1,0.1M162.0,487.2l-0.2,1.4M160.6,487.4l-0.5,-0.9M159.2,487.4l-0.6,-1.0M157.8,487.5l-0.3,1.5M155.0,488.0l-0.5,0.8M163.3,486.9 L162.0,487.2 L160.6,487.4 L159.2,487.4 L157.8,487.5 L156.4,487.7 L155.0,488.0M162.2,486.1l-1.5,1.4M159.8,483.3l0.2,-1.1M162.2,484.7 L161.0,484.0 L159.8,483.3M161.8,482.0l-1.6,-0.3M162.2,486.1 L162.2,484.7 L162.0,483.3 L161.8,482.0 L161.5,480.6 L161.4,479.2M161.0,485.3l-1.3,0.2M175.9,501.7 L175.2,500.5 L174.5,499.3 L173.7,498.1 L172.9,497.0 L172.1,495.8 L171.4,494.6 L170.6,493.5 L169.7,492.4 L168.7,491.4 L167.7,490.4 L166.7,489.5 L165.6,488.6 L164.4,487.8 L163.3,486.9 L162.2,486.1 L161.0,485.3M174.7,501.0l-0.4,-1.6M173.6,500.2l0.2,-1.2M171.3,498.6l-1.6,1.1M170.1,497.7l0.3,-1.6M169.0,496.9l-1.3,0.1M166.5,498.1l0.1,0.9M162.7,499.9l-0.9,-0.2M169.0,496.9 L167.7,497.4 L166.5,498.1 L165.2,498.7 L164.0,499.3 L162.7,499.9M166.7,495.4l0.2,-1.7M165.5,494.7l0.5,-1.4M161.8,492.7l-1.3,0.3M159.3,491.3l-0.9,1.0M156.8,490.1l-0.4,-1.7M154.4,488.7l0.2,-1.8M175.9,501.7 L174.7,501.0 L173.6,500.2 L172.4,499.3 L171.3,498.6 L170.1,497.7 L169.0,496.9 L167.9,496.1 L166.7,495.4 L165.5,494.7 L164.3,494.0 L163.0,493.3 L161.8,492.7 L160.6,491.9 L159.3,491.3 L158.1,490.6 L156.8,490.1 L155.6,489.4 L154.4,488.7M171.7,501.7l-0.5,-1.7M161.0,500.4l-1.0,-0.2M160.1,499.3 L158.8,498.8 L157.5,498.2M158.2,497.3l-0.1,-1.2M161.9,501.4 L161.0,500.4 L160.1,499.3 L159.1,498.3 L158.2,497.3M160.5,501.5l-0.3,1.8M157.7,504.6l0.2,1.5M154.1,505.9l-0.9,-1.0M156.9,505.7 L155.5,505.8 L154.1,505.9 L152.7,506.0M156.0,506.8l-1.0,-0.5M155.4,509.6l1.1,1.2M155.2,511.0l1.2,0.6M156.0,506.8 L155.7,508.2 L155.4,509.6 L155.2,511.0M154.3,509.1l-1.2,-0.2M160.5,501.5 L159.6,502.5 L158.7,503.6 L157.7,504.6 L156.9,505.7 L156.0,506.8 L155.1,507.9 L154.3,509.1 L153.6,510.2M156.3,501.6l-0.7,1.6M150.0,494.8l0.7,-1.3M154.9,501.5 L154.1,500.4 L153.4,499.2 L152.6,498.0 L151.8,496.9 L150.9,495.8 L150.0,494.8 L149.0,493.8M148.4,503.2l0.3,1.3M147.1,503.7l-0.6,1.1M144.4,504.2l-0.7,-0.9M145.8,504.3 L144.4,504.2 L143.0,504.1M144.5,504.7l-1.1,-1.3M152.1,501.3 L150.9,502.0 L149.7,502.6 L148.4,503.2 L147.1,503.7 L145.8,504.3 L144.5,504.7M175.9,501.7 L174.5,501.7 L173.1,501.6 L171.7,501.7 L170.3,501.7 L168.9,501.7 L167.5,501.8 L166.1,501.7 L164.7,501.5 L163.3,501.5 L161.9,501.4 L160.5,501.5 L159.1,501.5 L157.7,501.6 L156.3,501.6 L154.9,501.5 L153.5,501.4 L152.1,501.3 L150.7,501.1 L149.4,500.8M173.5,503.1l-0.9,-0.5M171.8,505.2l0.7,0.7M171.2,506.5l-1.0,-0.2M170.6,507.7l1.1,1.4M169.9,508.9l-1.5,0.0M172.3,503.9 L171.8,505.2 L171.2,506.5 L170.6,507.7 L169.9,508.9 L169.1,510.1 L168.3,511.2M171.3,507.4l-0.8,1.3M170.9,506.1 L171.3,507.4 L171.7,508.8M171.3,511.3l-0.0,1.5M170.4,510.3 L171.3,511.3 L172.1,512.5M171.2,504.7 L170.9,506.1 L170.7,507.5 L170.5,508.9 L170.4,510.3 L170.3,511.7M168.8,505.3l-1.1,0.6M167.4,505.2l-0.7,0.7M164.9,503.9l-0.9,1.1M167.4,505.2 L166.1,504.5 L164.9,503.9M164.6,504.8l-0.6,0.9M163.8,503.6l-0.8,-0.3M164.6,504.8 L163.8,503.6 L162.9,502.5M160.6,505.7l-0.7,-1.1M163.2,504.6 L161.9,505.2 L160.6,505.7M170.1,505.6 L168.8,505.3 L167.4,505.2 L166.0,505.0 L164.6,504.8 L163.2,504.6M166.7,508.0l0.2,1.0M163.3,510.4l-1.6,0.1M162.1,511.2l0.2,2.0M160.0,513.1l-1.5,-0.2M158.9,517.1l-1.3,0.3M158.6,518.5l-1.0,0.0M155.5,521.4l-1.3,-0.2M158.6,518.5 L157.6,519.4 L156.5,520.4 L155.5,521.4M158.2,519.8l-0.9,0.1M160.0,513.1 L159.6,514.4 L159.2,515.7 L158.9,517.1 L158.6,518.5 L158.2,519.8 L157.9,521.2 L157.6,522.6M159.0,514.0l0.7,1.1M157.0,516.0l-1.3,-0.6M154.2,518.7l-0.8,0.3M153.7,519.9l1.3,1.0M155.6,516.2 L154.9,517.4 L154.2,518.7 L153.7,519.9 L153.2,521.3M152.8,516.5l-0.9,0.9M148.6,516.5l-0.9,-1.0M147.2,516.5l-1.0,0.8M144.4,516.7l-1.1,-1.0M157.0,516.0 L155.6,516.2 L154.2,516.4 L152.8,516.5 L151.4,516.5 L150.0,516.5 L148.6,516.5 L147.2,516.5 L145.8,516.6 L144.4,516.7M156.2,517.1l-1.4,-0.1M152.0,517.7l-0.8,-1.5M147.9,518.4l-0.4,1.3M147.9,518.4 L146.8,519.3 L145.7,520.2 L144.6,521.1M156.2,517.1 L154.8,517.3 L153.4,517.5 L152.0,517.7 L150.6,517.9 L149.2,518.2 L147.9,518.4M154.6,519.5l-1.6,-0.6M175.9,501.7 L174.7,502.4 L173.5,503.1 L172.3,503.9 L171.2,504.7 L170.1,505.6 L169.0,506.4 L167.8,507.2 L166.7,508.0 L165.6,508.9 L164.4,509.6 L163.3,510.4 L162.1,511.2 L161.0,512.1 L160.0,513.1 L159.0,514.0 L157.9,515.0 L157.0,516.0 L156.2,517.1 L155.4,518.3 L154.6,519.5M176.8,507.0l1.2,0.3M175.5,503.0 L176.0,504.4 L176.5,505.7 L176.8,507.0 L177.3,508.3M173.5,508.3l1.2,1.5M172.8,509.4l-1.5,0.3M171.7,510.3l-0.2,1.2M172.8,509.4 L171.7,510.3 L170.5,511.1 L169.3,511.8M171.9,510.6l0.9,1.1M171.0,514.4l1.0,0.3M171.1,515.8l0.8,0.5M171.3,517.2l0.8,0.5M171.0,511.6 L171.1,513.0 L171.0,514.4 L171.1,515.8 L171.3,517.2M169.0,515.2l1.4,0.6M165.6,518.7l-0.8,-0.8M168.3,517.9 L167.0,518.4 L165.6,518.7M169.2,513.8 L169.0,515.2 L168.7,516.5 L168.3,517.9 L167.9,519.2M175.9,501.7 L175.5,503.0 L175.1,504.4 L174.7,505.7 L174.2,507.0 L173.5,508.3 L172.8,509.4 L171.9,510.6 L171.0,511.6 L170.2,512.7 L169.2,513.8M176.2,503.1l-0.8,1.3M176.5,504.4l1.0,0.0M177.7,508.5l1.2,0.3M178.3,509.7l1.3,0.2M182.5,516.5l0.6,1.2M184.2,518.8l-0.4,1.1M182.5,516.5 L183.3,517.6 L184.2,518.8M183.9,516.8l1.2,-0.5M185.3,517.0l1.4,-0.7M188.0,517.5l0.5,1.5M189.4,517.7l0.8,-1.4M189.4,517.7 L190.4,516.7 L191.4,515.7M181.2,516.1 L182.5,516.5 L183.9,516.8 L185.3,517.0 L186.7,517.3 L188.0,517.5 L189.4,517.7M182.1,518.7l1.4,0.6M183.7,521.0l-0.3,1.0M184.3,522.2l-0.3,1.1M183.1,519.7 L183.7,521.0 L184.3,522.2M184.0,520.8l1.4,-0.0M185.9,522.8l1.3,-0.4M182.1,518.7 L183.1,519.7 L184.0,520.8 L185.0,521.8 L185.9,522.8 L186.9,523.8 L187.9,524.8M183.4,524.2l1.9,0.2M175.9,501.7 L176.2,503.1 L176.5,504.4 L176.8,505.8 L177.2,507.1 L177.7,508.5 L178.3,509.7 L178.9,511.0 L179.5,512.2 L180.0,513.5 L180.7,514.8 L181.2,516.1 L181.7,517.4 L182.1,518.7 L182.5,520.1 L182.8,521.4 L183.1,522.8 L183.4,524.2M203.2,467.5l-0.8,1.4M199.2,467.4l-0.9,-0.9M197.8,467.4l-0.6,-0.9M200.6,467.5 L199.2,467.4 L197.8,467.4M198.7,469.3l-0.9,-0.3M199.3,468.1 L198.7,469.3 L198.2,470.6M201.9,467.0 L200.6,467.5 L199.3,468.1 L198.0,468.6M200.6,466.4l-1.3,0.8M198.0,465.4l-1.2,1.3M192.5,464.4l-1.0,1.2M190.7,466.5 L190.8,467.9 L190.7,469.3M186.9,468.0l-0.5,1.3M189.6,467.4 L188.3,467.7 L186.9,468.0M188.6,468.4l-1.4,-0.4M192.5,464.4 L191.6,465.4 L190.7,466.5 L189.6,467.4 L188.6,468.4M191.1,464.1l-0.4,-1.2M189.8,464.4l-0.5,0.7M191.1,464.1 L189.8,464.4 L188.4,464.7 L187.0,464.9M204.5,468.0 L203.2,467.5 L201.9,467.0 L200.6,466.4 L199.3,465.8 L198.0,465.4 L196.7,465.0 L195.3,464.8 L193.9,464.5 L192.5,464.4 L191.1,464.1M207.5,469.6l0.3,0.8M204.7,469.3 L206.1,469.4 L207.5,469.6M207.2,468.0l1.2,0.8M208.4,467.3l0.8,0.2M209.6,466.7l1.4,0.4M211.0,466.7l0.4,-0.7M212.4,466.9l1.1,-0.8M213.3,465.8l0.1,-1.0M214.2,464.7l0.7,-0.1M212.4,466.9 L213.3,465.8 L214.2,464.7M209.6,466.7 L211.0,466.7 L212.4,466.9M203.5,470.0 L204.7,469.3 L206.0,468.7 L207.2,468.0 L208.4,467.3 L209.6,466.7M198.1,477.8l-0.5,-1.2M195.7,478.7l-0.1,1.3M194.7,479.7 L193.3,479.7 L191.9,479.6M196.7,477.7 L195.7,478.7 L194.7,479.7M195.3,477.6l-0.2,-0.9M194.6,476.4l0.5,-0.7M193.9,475.2 L194.1,473.8 L194.4,472.4M195.3,477.6 L194.6,476.4 L193.9,475.2M199.5,478.0 L198.1,477.8 L196.7,477.7 L195.3,477.6 L193.9,477.4 L192.5,477.2 L191.1,477.2 L189.7,477.1M190.9,483.8l-1.3,0.5M197.5,486.0 L196.2,485.5 L194.9,485.0 L193.5,484.6 L192.2,484.3 L190.9,483.8M202.4,465.7 L203.3,465.2 L204.3,465.2M202.7,474.9 L201.7,475.1 L200.7,475.0 L199.7,475.1 L198.7,474.9 L198.1,474.1M193.0,476.1 L192.9,477.1 L193.2,478.1M205.0,474.4 L204.8,473.4 L204.3,472.6 L204.3,471.6 L204.1,470.6 L203.6,469.7M200.4,473.3 L201.3,472.9 L202.3,473.0 L203.1,473.7 L203.7,474.5 L203.7,475.5M199.4,478.8 L199.3,477.8 L199.8,476.9 L200.7,476.5 L201.4,475.8 L201.7,474.8M202.9,474.2 L202.1,474.7 L201.5,475.5 L201.3,476.5 L200.8,477.4 L200.0,478.0M208.4,472.2 L207.7,471.4 L207.0,470.7 L206.1,470.5 L205.1,470.4 L204.2,470.9M199.4,466.2 L200.2,466.9 L200.9,467.6 L201.8,468.1 L202.4,468.9 L202.9,469.7M199.9,469.3 L199.6,470.2 L199.0,471.0 L198.5,471.9 L197.5,472.2 L196.9,473.0M196.7,470.2 L196.7,471.2 L196.9,472.2 L197.6,472.9 L198.6,473.2 L199.4,473.7M202.9,476.9 L203.9,477.1 L204.8,476.8 L205.8,476.8 L206.8,476.9M202.4,464.5 L201.5,464.9 L200.8,465.7 L200.1,466.4 L199.1,466.6 L198.1,466.4M194.1,478.2 L193.6,477.3 L193.6,476.3 L193.4,475.3 L193.0,474.4 L192.3,473.8" fill="none" stroke="#dc9434" stroke-width="0.33" stroke-opacity="0.9" stroke-linecap="round"/>
<circle cx="175.9" cy="488.9" r="1.1" fill="#dc9434"/>
<text x="34.2" y="207.2" font-size="8" fill="#111" font-weight="bold" text-anchor="middle">CB0156</text>
<text x="34.2" y="218.2" font-size="8" fill="#1e1e1e" text-anchor="middle">1 neuron</text>
<text x="149.5" y="207.2" font-size="8" fill="#111" font-weight="bold" text-anchor="middle">CB0111</text>
<text x="149.5" y="218.2" font-size="8" fill="#1e1e1e" text-anchor="middle">1 neuron</text>
<text x="272.6" y="207.2" font-size="8" fill="#111" font-weight="bold" text-anchor="middle">CB0389</text>
<text x="272.6" y="218.2" font-size="8" fill="#1e1e1e" text-anchor="middle">1 neuron</text>
<text x="36" y="326.2" font-size="8" fill="#111" font-weight="bold" text-anchor="middle">Lobula-35</text>
<text x="36.3" y="337.2" font-size="8" fill="#1e1e1e" text-anchor="middle">1 neuron</text>
<text x="153.2" y="326.2" font-size="8" fill="#111" font-weight="bold" text-anchor="middle">CB0274</text>
<text x="153.2" y="337.2" font-size="8" fill="#1e1e1e" text-anchor="middle">1 neuron</text>
<text x="271.8" y="326.2" font-size="8" fill="#111" font-weight="bold" text-anchor="middle">Lobula-178</text>
<text x="273" y="337.2" font-size="8" fill="#1e1e1e" text-anchor="middle">2 neurons</text>
<text x="36.4" y="450.9" font-size="8" fill="#111" font-weight="bold" text-anchor="middle">aMe20</text>
<text x="36.4" y="461.9" font-size="8" fill="#1e1e1e" text-anchor="middle">1 neuron</text>
<text x="153.8" y="450.9" font-size="8" fill="#111" font-weight="bold" text-anchor="middle">aMe26_L</text>
<text x="152.3" y="461.9" font-size="8" fill="#1e1e1e" text-anchor="middle">3 neurons</text>
<text x="7.6" y="253.5" font-size="9.36" fill="#1e1e1e" text-anchor="middle" transform="rotate(-90 7.6 253.5)">Medulla</text>
<text x="8.8" y="376.2" font-size="9.36" fill="#1e1e1e" text-anchor="middle" transform="rotate(-90 8.8 376.2)">Lobula</text>
<text x="9.7" y="475.15" font-size="9.36" fill="#1e1e1e" text-anchor="middle" transform="rotate(-90 9.7 475.15)">Medulla</text>
<text x="9.7" y="517.7" font-size="9.36" fill="#1e1e1e" text-anchor="middle" transform="rotate(-90 9.7 517.7)">Accessory</text>
<g id="fb">
<path d="M56.6,598.5 C58,590 66,585 76,583 C82,580.5 88,579.5 94,579.9 C102,580.5 110,582.5 114,584.5 L118.5,586.4 L123,584.5 C127,582.5 135,580.5 143,579.9 C149,579.5 155,580.5 161,583 C171,585 179,590 180.4,598.5 C181,606 178,612 172,617 C166,622 160,628 158,636 C157,646 155,655 148,659 C138,662 128,661 118.5,661 C109,661 99,662 89,659 C82,655 80,646 79,636 C77,628 71,622 65,617 C59,612 56,606 56.6,598.5 Z" fill="#f5f5f5" stroke="#e2e2e2" stroke-width="0.6"/>
<ellipse cx="119.5" cy="631.5" rx="3.3" ry="8.5" fill="#fff" stroke="#e4e4e4" stroke-width="0.5"/>
<ellipse cx="99" cy="638" rx="12" ry="11" fill="none" stroke="#e6e6e6" stroke-width="0.6"/>
<ellipse cx="138" cy="638" rx="12" ry="11" fill="none" stroke="#e6e6e6" stroke-width="0.6"/>
<ellipse cx="103" cy="652" rx="12" ry="7" fill="none" stroke="#e6e6e6" stroke-width="0.6"/>
<ellipse cx="134" cy="652" rx="12" ry="7" fill="none" stroke="#e6e6e6" stroke-width="0.6"/>
<ellipse cx="85" cy="612" rx="8" ry="8" fill="none" stroke="#e6e6e6" stroke-width="0.6"/>
<ellipse cx="152" cy="612" rx="8" ry="8" fill="none" stroke="#e6e6e6" stroke-width="0.6"/>
<ellipse cx="106" cy="620" rx="8" ry="7" fill="none" stroke="#e6e6e6" stroke-width="0.6"/>
<ellipse cx="131" cy="620" rx="8" ry="7" fill="none" stroke="#e6e6e6" stroke-width="0.6"/>
<circle cx="50" cy="638" r="33.5" fill="#f5f5f5" stroke="#e2e2e2" stroke-width="0.6"/>
<path d="M60,606 C70,612 76,625 76,638 C76,652 70,664 60,670 C74,668 83,655 83,638 C83,622 74,608 60,606 Z" fill="#ebebeb" opacity="0.9"/>
<ellipse cx="193.5" cy="637" rx="22.5" ry="35" fill="#f5f5f5" stroke="#e2e2e2" stroke-width="0.6"/>
<path d="M181,606 C175,616 172,627 172,638 C172,650 175,661 181,668 C172,664 166,652 166,638 C166,624 172,612 181,606 Z" fill="#ebebeb" opacity="0.9"/>
<path d="M91,584 C92,580.5 96,579.5 99,580.5 C101,581 102,582.5 101.4,584 C100.5,587 99,590.5 97.7,594 C95,594.5 93,593 91.5,590.5 C90.5,588.5 90.3,586 91,584 Z" fill="#c8c8c8" fill-opacity="0.55" stroke="#7e7e7e" stroke-width="0.6" stroke-opacity="0.85"/>
<path d="M147.0 584.0 C146.0 580.5 142.0 579.5 139.0 580.5 C137.0 581.0 136.0 582.5 136.6 584.0 C137.5 587.0 139.0 590.5 140.3 594.0 C143.0 594.5 145.0 593.0 146.5 590.5 C147.5 588.5 147.7 586.0 147.0 584.0 Z" fill="#c8c8c8" fill-opacity="0.55" stroke="#7e7e7e" stroke-width="0.6" stroke-opacity="0.85"/>
<path d="M77,594 C80,591 88,590.5 95,591.5 C99,593 101,597 100.7,601 C100,605 98,608.5 94,610 C88,611 81,610 78,606.5 C75.5,603 75.5,597 77,594 Z" fill="#c8c8c8" fill-opacity="0.55" stroke="#7e7e7e" stroke-width="0.6" stroke-opacity="0.85"/>
<path d="M161.0 594.0 C158.0 591.0 150.0 590.5 143.0 591.5 C139.0 593.0 137.0 597.0 137.3 601.0 C138.0 605.0 140.0 608.5 144.0 610.0 C150.0 611.0 157.0 610.0 160.0 606.5 C162.5 603.0 162.5 597.0 161.0 594.0 Z" fill="#c8c8c8" fill-opacity="0.55" stroke="#7e7e7e" stroke-width="0.6" stroke-opacity="0.85"/>
<path d="M98,600 C104,598.5 112,598.5 119,599.5 C126,598.5 134,598.5 140,600 C141,604 140,609 137,611.4 C131,612 125,610 119,610 C113,610 107,612 101,611.4 C98,609 97,604 98,600 Z" fill="#c8c8c8" fill-opacity="0.55" stroke="#7e7e7e" stroke-width="0.6" stroke-opacity="0.85"/>
<path d="M82,597 C86,594.5 92,595.5 94,599 C95.5,603 92.5,606.5 88,606.5 C84,606 81,602 82,597 Z" fill="#c8c8c8" fill-opacity="0.55" stroke="#7e7e7e" stroke-width="0.6" stroke-opacity="0.85"/>
<path d="M156.0 597.0 C152.0 594.5 146.0 595.5 144.0 599.0 C142.5 603.0 145.5 606.5 150.0 606.5 C154.0 606.0 157.0 602.0 156.0 597.0 Z" fill="#c8c8c8" fill-opacity="0.55" stroke="#7e7e7e" stroke-width="0.6" stroke-opacity="0.85"/>
<path d="M104,602 C110,600 116,603 117,607 C116,611 110,612 106,610 C103,608 102,605 104,602 Z M134,602 C128,600 122,603 121,607 C122,611 128,612 132,610 C135,608 136,605 134,602 Z" fill="#c8c8c8" fill-opacity="0.5" stroke="#888" stroke-width="0.5" stroke-opacity="0.7"/>
<rect x="16.9" y="673.5" width="6" height="1.2" fill="#c4c4c4"/>
</g>
<path d="M47.0,637.8 L45.8,638.3 L45.0,639.3 L44.9,640.6 L45.3,641.9 L45.1,643.2 L45.6,644.4 L45.7,645.7M35.9,627.6 L34.6,627.4 L33.3,627.3 L32.4,626.5 L31.1,626.3 L30.0,626.9 L28.7,626.8 L27.4,626.8M43.8,653.3 L42.6,653.6 L41.5,654.4 L40.8,655.5 L40.0,656.5 L39.1,657.4 L37.9,657.7 L36.6,657.3M34.2,647.7 L35.4,647.2 L36.1,646.1 L37.1,645.3 L38.4,645.1 L39.7,645.2 L40.9,644.8 L42.2,644.9M38.8,623.9 L37.7,623.3 L36.4,623.5 L35.2,624.0 L34.1,624.7 L33.2,625.6 L32.1,626.3 L30.8,626.4M36.9,648.8 L36.1,647.8 L35.5,646.7 L34.3,646.1 L33.0,645.9 L32.0,645.1 L31.1,644.2 L30.5,643.0M50.9,647.7 L52.2,647.3 L53.4,647.7 L54.7,647.6 L56.0,647.4 L57.2,647.7 L58.5,648.0M33.3,633.1 L33.7,634.4 L34.6,635.3 L35.8,635.7 L37.1,635.8 L38.3,636.3 L39.1,637.4 L40.0,638.3M21.4,637.3 L21.4,638.6 L21.2,639.9 L20.7,641.1 L21.1,642.4 L22.1,643.2 L23.3,643.5 L24.5,644.2M42.0,607.4 L42.1,608.7 L42.4,609.9 L43.1,611.0 L44.2,611.7 L45.5,611.7 L46.6,610.9 L47.9,610.8M55.6,644.3 L56.5,645.3 L56.8,646.5 L57.5,647.6 L58.6,648.4M34.8,616.6 L35.5,615.5 L36.2,614.4 L37.3,613.6 L38.2,612.7 L39.4,612.1 L40.5,611.5 L41.3,610.5M53.3,655.6 L54.0,654.5 L55.0,653.7 L56.0,652.9 L56.7,651.8 L57.7,651.1 L58.3,649.9 L58.8,648.7M48.2,651.3 L47.9,652.6 L47.2,653.7 L46.5,654.7 L46.1,656.0 L45.4,657.0 L44.3,657.8 L43.0,658.0M56.1,641.8 L56.8,640.7 L57.0,639.5 L57.8,638.4 L58.3,637.2 L58.6,635.9 L59.5,635.0 L60.2,633.9M43.1,650.2 L42.1,651.0 L41.3,652.0 L40.1,652.6 L39.5,653.8 L39.4,655.1 L39.0,656.3 L38.7,657.6M19.7,637.0 L20.0,638.3 L21.1,639.1 L22.1,639.8 L23.4,640.2 L24.6,640.6 L25.8,640.1 L26.4,639.0M26.7,654.9 L25.7,655.7 L24.6,656.4M41.7,622.7 L41.2,621.5 L40.7,620.3 L40.0,619.3 L38.8,618.8 L37.6,618.2 L36.3,618.1 L35.0,618.3M47.3,624.0 L46.2,624.6 L45.0,625.1 L44.0,626.0 L43.2,627.0 L42.1,627.6 L41.2,628.5 L40.0,629.2M59.6,645.7 L58.8,644.7 L58.8,643.4 L59.4,642.2 L59.1,640.9 L58.5,639.8 L57.8,638.7 L58.0,637.4M42.9,642.1 L43.2,643.3 L43.7,644.5 L44.1,645.8 L44.6,647.0 L45.6,647.8 L46.9,647.8 L48.1,648.3M26.5,644.6 L25.2,644.5 L24.2,643.7 L23.6,642.5 L23.5,641.2 L23.1,640.0 L22.1,639.1 L20.8,638.8M43.2,631.5 L42.5,630.4 L41.5,629.5 L40.5,628.7 L39.3,628.1 L38.7,626.9 L38.5,625.7 L38.8,624.4M57.4,643.2 L56.2,643.8 L54.9,643.8 L53.7,643.3 L52.9,642.3 L52.5,641.1 L52.8,639.8 L53.0,638.5M22.5,627.8 L21.6,628.8 L20.6,629.6M45.1,629.3 L44.5,630.5 L44.3,631.7 L43.3,632.6 L42.4,633.5 L41.8,634.7 L41.5,635.9 L41.4,637.2M34.1,621.6 L35.0,622.5 L36.1,623.1 L36.8,624.2 L37.9,624.9 L38.7,625.9 L39.9,626.4 L40.9,627.3M38.1,663.4 L37.5,664.5 L37.5,665.8M25.9,631.5 L24.8,632.3 L23.8,633.2 L23.5,634.4 L23.0,635.6 L22.8,636.9 L22.0,637.9 L21.1,638.9M41.1,626.7 L40.9,625.4 L41.4,624.2 L42.4,623.4 L43.5,622.7 L44.7,622.1 L46.0,622.0 L47.2,621.5M22.1,629.6 L21.1,628.8 L20.5,627.6 L20.9,626.4 L20.7,625.1M33.9,629.4 L35.1,629.1 L36.4,628.9 L37.7,629.3 L38.6,630.2 L39.8,630.5 L41.1,630.8 L42.4,630.5M32.6,639.7 L33.3,638.6 L33.9,637.4 L34.9,636.7 L36.2,636.6 L37.5,636.1 L38.7,635.7 L40.0,635.5M43.0,647.2 L43.2,646.0 L43.8,644.8 L44.8,643.9 L45.8,643.2 L46.7,642.2 L47.9,641.8 L49.2,641.9M57.9,649.3 L56.8,648.6 L55.5,648.5 L54.4,649.0 L53.1,649.1 L51.9,648.5 L50.7,648.2 L49.4,648.4M52.1,645.6 L52.5,646.8 L53.3,647.9 L53.5,649.2 L54.4,650.1 L55.4,650.9 L56.4,651.7 L57.7,652.0M45.6,638.9 L45.6,640.2 L44.9,641.3 L44.0,642.2 L42.8,642.5 L41.6,643.1 L40.7,644.0 L39.5,644.4M24.2,619.1 L23.5,620.2 L22.5,621.1M45.4,650.3 L46.7,650.5 L47.7,651.4 L48.5,652.4 L49.7,652.8 L50.8,653.6 L51.6,654.6 L52.9,655.0M54.6,624.5 L53.4,624.8 L52.4,625.7 L51.5,626.7 L50.8,627.8 L50.5,629.0 L50.0,630.2 L49.2,631.3M59.8,628.6 L58.5,628.5 L57.2,628.6 L56.0,628.9 L54.7,629.0 L53.6,628.3 L52.3,628.3 L51.0,628.5M30.3,660.0 L31.5,659.6 L32.3,658.5 L33.2,657.6 L34.2,656.8 L35.3,656.2 L36.6,656.2 L37.9,656.1M22.5,629.0 L23.8,628.7 L25.1,628.8 L26.0,629.7 L26.3,631.0 L26.9,632.1 L26.7,633.4 L27.0,634.7M32.0,640.5 L30.9,639.9 L29.9,639.0 L29.7,637.7 L28.8,636.7 L28.2,635.6 L27.8,634.3 L27.0,633.3M59.9,643.4 L59.6,642.1 L58.8,641.1 L58.6,639.8 L58.2,638.6 L57.7,637.4 L57.4,636.1 L56.9,634.9M53.8,631.1 L53.7,629.8 L54.3,628.7 L54.4,627.4 L54.2,626.1 L54.8,624.9 L55.6,623.9 L56.1,622.7M45.3,630.0 L46.0,631.1 L46.5,632.3 L46.9,633.5 L47.7,634.6 L48.6,635.5 L49.7,636.2 L50.6,637.1M40.8,618.5 L40.9,617.2 L41.2,615.9 L40.8,614.7 L39.9,613.8 L39.0,612.8 L37.7,612.5 L36.5,613.0M48.6,650.7 L48.8,649.5 L48.4,648.2 L48.5,646.9 L49.1,645.8 L50.3,645.3 L51.0,644.2 L51.2,642.9M42.3,657.3 L41.4,656.4 L40.5,655.4 L40.1,654.2 L40.3,652.9 L40.9,651.7 L41.9,650.9 L43.2,650.9M31.7,627.8 L32.6,628.7 L32.9,630.0 L33.1,631.3 L33.0,632.6 L32.3,633.7 L31.4,634.6 L30.6,635.6M34.8,632.6 L35.1,633.9 L34.8,635.1 L34.3,636.3 L33.5,637.4 L33.0,638.6 L32.7,639.8 L32.6,641.1M52.0,642.6 L53.3,642.4 L54.4,641.8 L55.6,641.2 L56.9,641.0 L58.0,640.3 L58.9,639.4 L60.0,638.7M47.6,663.5 L48.7,664.2M31.0,646.7 L32.1,646.0 L32.9,645.0 L33.4,643.8 L33.1,642.5 L33.1,641.2 L32.9,639.9 L32.5,638.7M37.0,622.5 L37.3,623.8 L37.0,625.0 L36.1,626.0 L35.2,626.9 L34.0,627.5 L32.7,627.5 L31.7,628.2M36.2,654.0 L35.8,652.8 L35.8,651.5 L35.4,650.3 L35.8,649.0 L36.1,647.8 L36.6,646.5 L37.2,645.4M46.9,616.7 L47.3,618.0 L47.6,619.2 L48.5,620.1 L49.0,621.3 L49.8,622.3 L49.9,623.6 L50.2,624.9M57.0,629.3 L55.8,629.8 L55.2,630.9 L55.3,632.2 L55.3,633.5 L55.6,634.8 L56.1,636.0 L56.2,637.3M23.8,640.9 L24.3,639.7 L24.2,638.5 L24.6,637.2 L25.4,636.2 L25.7,635.0 L25.4,633.7 L24.5,632.7M53.4,649.1 L54.7,649.0 L55.9,648.5 L56.8,647.6 L58.1,647.4 L59.4,647.2M51.5,626.7 L52.8,626.6 L54.0,626.1 L54.8,625.1 L54.9,623.8 L55.5,622.6 L55.8,621.3 L56.4,620.2M47.2,621.0 L46.0,620.6 L44.9,619.8 L43.7,619.4 L42.4,619.4 L41.2,619.8 L40.5,620.9 L39.6,621.9M28.3,616.6 L27.0,616.7 L25.7,616.6M23.6,629.3 L22.4,629.1 L21.2,629.6 L19.9,629.5M20.0,635.1 L20.1,636.4 L20.2,637.7 L21.0,638.7 L22.2,639.2 L23.5,638.9 L24.5,638.1 L25.7,637.7M35.5,637.9 L34.4,637.1 L33.7,636.0 L32.8,635.1 L31.8,634.3 L30.7,633.6 L29.4,633.4 L28.2,632.9M54.3,640.0 L55.6,639.9 L56.9,640.0 L58.0,640.7 L58.4,642.0 L59.2,643.0 L59.3,644.3 L58.6,645.4M32.3,637.4 L31.0,637.1 L30.2,636.1 L29.1,635.5 L28.2,634.5 L27.8,633.3 L27.5,632.0 L26.8,630.9M48.8,628.6 L50.0,628.1 L51.3,627.8 L52.1,626.7 L52.5,625.5 L52.1,624.2 L51.2,623.3 L50.2,622.5M23.2,624.9 L24.2,625.7 L25.5,625.8 L26.7,626.3 L27.9,626.0 L29.1,625.3 L30.4,625.5 L31.4,626.2M52.4,643.1 L53.1,642.0 L53.7,640.9 L54.0,639.6 L53.8,638.3 L53.7,637.0 L52.9,636.0 L51.8,635.4M58.1,632.9 L56.8,632.8 L55.6,633.3 L54.4,633.6 L53.1,633.7 L52.1,634.6 L50.8,634.8 L49.6,635.2M38.0,660.7 L39.0,659.9 L39.9,659.0 L40.2,657.7 L40.4,656.4 L41.2,655.4 L42.5,655.1 L43.7,654.6M53.4,614.0 L52.5,614.9 L51.8,616.0 L50.6,616.5 L49.3,616.3 L48.5,615.4 L47.5,614.5 L46.7,613.5M35.5,615.0 L36.6,615.7 L37.3,616.8 L37.8,618.0 L37.6,619.3 L36.6,620.2 L35.5,620.8 L34.6,621.7M31.1,636.4 L30.4,637.6 L29.9,638.7 L29.4,640.0 L28.4,640.7 L27.1,641.1 L26.3,642.1 L25.6,643.1M30.0,634.1 L30.3,632.8 L31.2,631.9 L31.5,630.6 L31.2,629.3 L30.7,628.2 L30.1,627.0 L29.2,626.1M27.7,635.5 L28.6,636.4 L29.4,637.4 L29.5,638.7 L29.6,640.0 L29.1,641.2 L28.3,642.3 L27.6,643.4M51.7,630.3 L53.0,630.3 L54.1,631.0 L55.4,631.1 L56.7,631.2 L58.0,631.0 L59.2,631.3 L60.1,632.3M48.3,622.6 L48.9,623.8 L49.9,624.6 L50.4,625.8 L50.7,627.1 L50.7,628.4 L50.2,629.6 L50.3,630.9M30.2,649.2 L30.1,647.9 L30.9,646.9 L31.8,645.9 L32.4,644.7 L32.3,643.4 L32.1,642.2 L32.2,640.9M38.7,632.4 L38.8,633.6 L38.5,634.9 L37.5,635.7 L37.0,636.9 L36.2,637.9 L35.5,639.0 L34.6,640.0M34.6,619.5 L34.3,618.2 L33.3,617.4 L32.3,616.6 L32.1,615.3 L32.6,614.1 L32.6,612.8 L33.2,611.6M51.5,627.1 L50.2,627.1 L49.2,626.2 L48.0,625.8 L46.9,625.1 L46.5,623.9 L46.9,622.7 L47.9,621.8M21.4,648.7 L22.1,647.6 L22.6,646.4 L22.8,645.1 L22.6,643.8 L22.6,642.5 L22.5,641.2 L23.1,640.1M56.3,637.1 L55.1,636.8 L54.3,635.7 L53.9,634.5 L53.9,633.2 L53.7,631.9 L53.9,630.6 L53.5,629.4M46.3,616.1 L47.0,617.3 L47.8,618.3 L48.8,619.1 L49.6,620.1 L50.5,621.1 L51.8,621.4 L53.0,621.3M20.0,645.6 L21.2,645.2 L22.5,645.7 L23.8,645.5 L24.9,644.8 L25.5,643.7 L25.8,642.4 L25.6,641.1M20.8,630.0 L20.3,631.2 L19.9,632.4M27.8,618.5 L27.8,617.2 L27.3,616.0 L26.2,615.2M25.3,637.8 L26.3,638.6 L26.6,639.8 L27.7,640.6 L28.0,641.9 L28.4,643.1 L29.3,644.0 L30.6,644.1M34.3,611.4 L33.0,611.5 L32.1,612.4 L30.8,612.6 L29.8,613.5 L29.3,614.7 L29.0,616.0 L29.1,617.2M52.0,624.3 L50.7,624.3 L49.4,624.5 L48.2,624.9 L47.1,625.6 L45.9,626.2 L44.6,626.1 L43.6,625.3M52.6,639.6 L52.2,638.4 L52.2,637.1 L52.9,636.0 L52.9,634.7 L53.2,633.4 L53.0,632.2 L53.1,630.9M42.9,647.5 L43.9,646.6 L45.0,645.9 L46.0,645.1 L46.7,644.0 L46.7,642.7 L47.4,641.7 L48.5,641.0M40.1,628.6 L41.4,628.6 L42.5,628.0 L43.7,627.5 L44.8,626.7 L46.0,626.4 L47.0,625.6 L48.0,624.7M31.4,644.6 L31.3,645.9 L31.5,647.2 L31.9,648.4 L32.5,649.6 L32.7,650.9 L32.3,652.1 L31.9,653.4M44.7,657.4 L44.9,658.6 L45.8,659.5 L47.0,660.1 L47.7,661.2 L48.2,662.4 L49.0,663.4M48.3,661.8 L49.2,662.7M40.3,626.9 L41.5,627.4 L42.2,628.5 L43.4,629.0 L44.7,629.4 L45.5,630.4 L46.0,631.5 L47.2,632.1M33.9,622.7 L34.8,623.7 L36.0,624.2 L37.2,624.7 L38.1,625.6 L38.4,626.9 L38.4,628.2 L38.6,629.5M47.4,630.6 L48.7,630.8 L49.9,631.2 L51.0,631.9 L51.9,632.8 L52.6,633.9 L53.0,635.2 L53.0,636.5M33.6,618.3 L34.3,619.3 L35.3,620.2 L36.0,621.2 L37.2,621.8 L38.2,622.7 L39.2,623.5 L39.5,624.8M24.0,649.2 L25.2,649.7 L26.0,650.7 L26.2,652.0 L27.0,653.1 L27.8,654.1 L28.2,655.3 L29.2,656.1M32.8,614.2 L34.0,614.7 L35.0,615.6 L36.2,615.9 L37.2,616.7 L38.5,617.0 L39.8,616.8 L41.0,617.2M26.3,637.7 L27.6,637.4 L28.7,636.8 L30.0,636.7 L31.1,637.5 L31.9,638.5 L33.0,639.1 L34.1,639.8M29.6,631.1 L28.9,630.0 L27.8,629.3 L27.2,628.1 L26.5,627.1 L25.3,626.5 L24.4,625.5 L24.0,624.3M26.3,644.6 L27.4,643.9 L28.7,643.8 L29.8,644.5 L30.6,645.5 L31.1,646.7 L31.8,647.8 L32.8,648.7M37.5,610.6 L38.8,610.5 L39.9,609.8 L41.1,609.4 L42.3,608.9 L43.1,607.8M57.0,626.9 L57.1,625.6 L56.7,624.4 L56.3,623.1 L55.8,621.9 L56.2,620.7 L55.6,619.5 L54.5,618.9M45.6,638.6 L44.8,639.7 L43.8,640.4 L42.5,640.7 L41.6,641.5 L40.7,642.5 L39.8,643.4 L39.1,644.5M38.8,649.3 L38.7,650.6 L37.9,651.6 L36.7,652.2 L35.4,652.1 L34.3,652.7 L33.7,653.9 L32.8,654.8M53.2,634.2 L52.9,635.4 L53.4,636.6 L54.4,637.5 L55.7,637.7 L56.9,637.4 L58.1,637.9 L59.2,638.6M46.7,620.0 L45.4,619.9 L44.1,620.0 L42.9,619.5 L41.9,618.7 L40.6,618.5 L39.3,618.7 L38.0,618.7M24.6,635.9 L25.9,635.8 L27.2,635.7 L28.4,636.3 L28.9,637.5 L30.0,638.2 L31.2,638.7 L32.5,638.7M26.1,648.9 L26.1,647.6 L26.4,646.4 L26.8,645.1 L26.6,643.8 L26.0,642.7 L25.3,641.6 L24.1,641.1M27.9,653.3 L29.2,653.1 L30.5,653.1 L31.7,652.5 L32.8,651.9 L34.1,651.7 L35.2,651.0 L36.5,650.9M46.0,659.5 L47.3,659.8 L48.4,660.4 L49.7,660.7 L51.0,660.9M30.5,637.8 L30.6,639.1 L29.9,640.2 L29.3,641.4 L28.8,642.6 L29.1,643.8 L29.1,645.1 L29.8,646.3M45.4,662.2 L44.1,662.2 L42.9,662.7 L42.1,663.7 L41.6,664.9 L41.3,666.2M37.0,617.1 L35.9,616.4 L35.2,615.3 L34.9,614.1 L34.2,613.0 L33.3,612.0 L32.2,611.3 L31.0,610.8M46.4,619.1 L47.4,619.8 L48.6,620.3 L49.6,621.2 L50.0,622.4 L49.7,623.7 L49.2,624.9 L49.6,626.1M43.9,633.4 L42.8,634.0 L42.2,635.2 L41.1,635.9 L39.9,636.4 L38.6,636.6 L37.6,637.4 L36.9,638.5M34.0,662.5 L34.0,663.8 L33.3,665.0M31.4,645.5 L30.1,645.1 L29.4,644.0 L28.4,643.2 L27.9,642.0 L27.3,640.8 L26.7,639.7 L26.5,638.4M37.8,612.9 L38.0,614.1 L38.9,615.1 L40.1,615.6 L41.3,616.0 L42.1,617.1 L42.3,618.3 L42.9,619.5M22.1,645.3 L21.1,644.4 L20.2,643.5M24.3,635.9 L25.4,636.6 L26.7,636.7 L27.9,636.2 L29.2,636.4 L30.3,637.1 L30.9,638.3 L31.7,639.3M47.4,652.0 L48.4,652.9 L49.6,653.4 L50.9,653.7 L51.7,654.7 L51.9,656.0 L52.6,657.0 L53.2,658.2M53.4,614.3 L52.3,613.5 L51.0,613.4 L49.8,613.7 L48.5,613.5 L47.4,612.8 L46.1,612.6 L45.1,611.8M43.5,629.5 L42.4,628.9 L41.6,627.8 L40.7,626.9 L40.5,625.6 L40.6,624.3 L40.2,623.1 L39.9,621.8M27.5,629.5 L27.6,628.2 L28.3,627.2 L29.5,626.7 L30.5,625.9 L31.7,625.3 L33.0,625.0 L34.2,625.5M49.2,661.4 L49.7,660.2 L50.1,659.0 L50.6,657.7 L50.2,656.5 L49.2,655.6 L48.5,654.5 L48.5,653.2M41.0,626.0 L40.4,627.1 L39.8,628.3 L38.7,629.0 L37.5,629.5 L36.2,629.3 L35.2,628.4 L34.6,627.3M45.4,608.8 L45.9,610.0 L45.6,611.3 L45.7,612.6 L46.0,613.8 L47.0,614.7 L47.7,615.8 L47.8,617.1M44.1,650.5 L44.3,651.8 L44.9,652.9 L44.9,654.2 L44.1,655.2 L43.1,656.1 L41.8,656.2 L40.6,655.7M23.9,637.1 L24.1,638.4 L23.5,639.5 L23.6,640.8 L24.3,642.0 L25.4,642.6 L26.3,643.5 L27.5,644.1M60.9,637.1 L60.8,638.4 L60.4,639.6 L59.3,640.3 L59.0,641.6 L59.3,642.8 L60.0,644.0M48.0,611.1 L49.2,610.7M52.4,619.9 L51.2,619.4 L49.9,619.4 L48.9,618.6 L47.9,617.8 L46.9,616.9 L45.7,616.5 L44.4,616.5M50.5,658.1 L49.3,657.5 L48.0,657.3 L46.8,656.9 L45.5,656.9 L44.4,656.2 L43.9,655.0 L43.2,653.9M43.7,618.8 L44.9,618.5 L46.2,618.5 L47.5,618.8 L48.3,619.8 L49.5,620.3 L50.8,620.4 L52.1,620.5M47.3,614.7 L47.5,616.0 L47.1,617.3 L46.1,618.1 L45.0,618.8 L43.9,619.5 L43.1,620.6 L42.2,621.5M28.9,658.1 L30.2,657.8 L31.1,657.0 L32.4,656.8 L33.3,655.8 L34.5,655.4 L35.6,654.6 L36.1,653.4M46.8,653.6 L45.6,653.1 L44.4,653.5 L43.3,654.2 L42.1,654.7 L41.1,655.6 L40.6,656.8 L40.8,658.1M49.0,663.6 L47.7,663.6 L46.5,663.1 L45.3,662.7 L44.1,662.2 L42.9,661.6 L41.6,661.7 L40.3,661.7M35.7,645.5 L36.9,646.0 L37.6,647.1 L38.1,648.3 L38.7,649.4 L39.9,649.9 L41.2,649.9 L42.4,650.4M31.9,617.9 L30.8,617.2 L29.6,616.7 L28.3,616.9 L27.1,617.3 L25.8,617.6 L24.6,617.2M25.4,634.2 L26.4,633.4 L27.3,632.4 L27.4,631.1 L28.3,630.1 L28.7,628.9 L29.3,627.7 L30.4,627.0M57.2,631.9 L55.9,631.6 L54.7,631.2 L53.4,631.4 L52.2,630.9 L50.9,631.1 L49.7,630.6 L49.1,629.4M46.9,647.4 L46.7,646.1 L47.1,644.8 L47.4,643.6 L48.3,642.6 L49.3,641.7 L50.5,641.3 L51.5,640.5M33.5,626.3 L32.2,626.5 L31.0,626.0 L30.1,625.1 L29.0,624.4 L27.7,624.5 L26.5,624.3 L25.2,624.8M39.3,622.3 L40.2,621.3 L41.5,621.1 L42.8,621.3 L44.1,621.3 L45.3,621.5 L46.5,621.0 L47.6,620.2M27.9,634.9 L28.9,634.1 L30.1,633.5 L31.4,633.7 L32.5,634.4 L33.1,635.5 L33.3,636.8 L33.1,638.1M44.2,637.2 L44.7,638.5 L44.3,639.7 L43.8,640.9 L43.5,642.2 L42.8,643.3 L43.0,644.6 L43.2,645.8M41.7,653.8 L40.8,654.7 L40.3,656.0 L39.4,656.8 L38.5,657.8 L37.9,658.9 L37.1,660.0 L35.9,660.5M27.1,631.4 L28.2,630.8 L29.2,629.9 L29.8,628.8 L29.8,627.5 L29.3,626.3 L29.3,625.0 L29.4,623.7M46.5,629.9 L47.2,631.0 L48.2,631.8 L48.6,633.0 L48.3,634.2 L48.7,635.4 L49.3,636.6 L49.5,637.9M37.4,628.6 L36.4,629.4 L35.1,629.5 L33.9,629.2 L32.6,628.8 L31.6,628.0 L30.3,627.7 L29.0,627.6M51.4,643.2 L50.5,642.2 L49.9,641.0 L48.8,640.4 L47.5,640.2 L46.6,639.3 L45.6,638.4 L44.6,637.6M52.8,622.3 L53.4,621.2 L54.1,620.1 L54.8,619.0 L55.6,618.0M45.5,629.6 L46.1,630.8 L47.1,631.5 L47.6,632.8 L48.4,633.7 L49.5,634.5 L50.5,635.3 L51.8,635.5M58.2,633.8 L59.3,634.6 L60.5,634.8M26.5,627.8 L27.6,627.1 L28.8,626.8 L30.1,626.4 L31.1,625.7 L32.3,625.1 L33.5,624.5 L34.8,624.6M33.0,651.1 L31.9,650.4 L30.7,649.9 L29.9,648.9 L28.7,648.3 L27.4,648.1 L26.2,648.5 L25.5,649.6M55.3,616.8 L55.2,618.1 L54.3,619.1 L53.4,620.0 L53.0,621.2 L52.1,622.2 L50.8,622.4 L49.5,622.5M44.3,608.9 L43.0,608.7 L41.9,608.1 L40.7,607.5M43.2,665.1 L44.1,664.2 L44.8,663.1 L44.8,661.8 L45.3,660.6 L45.4,659.3 L44.8,658.1 L44.6,656.8M48.3,660.2 L48.2,661.5 L47.3,662.4 L46.5,663.5 L45.3,663.9 L44.0,663.9 L42.7,663.8 L41.4,664.0M48.8,659.7 L49.3,660.9 L50.0,662.0M43.7,609.8 L43.0,608.7 L41.9,608.0 L40.7,607.4M40.4,627.2 L41.6,627.7 L42.7,628.4 L43.7,629.2 L44.7,630.1 L45.8,630.8 L47.1,631.0 L48.4,631.1M48.3,622.6 L47.4,623.6 L46.8,624.7 L46.2,625.8 L45.3,626.8 L44.3,627.7 L43.2,628.3 L42.4,629.3M26.8,650.4 L26.1,649.4 L25.1,648.5 L24.0,647.8 L22.7,647.5 L21.5,648.0M48.3,614.6 L49.6,614.6 L50.8,615.1 L52.0,615.6 L53.3,615.5 L54.5,616.0M35.6,618.9 L35.4,617.6 L34.7,616.5 L33.9,615.5 L33.3,614.3 L33.2,613.0 L32.3,612.0 L32.1,610.8M34.2,617.2 L34.4,618.5 L35.1,619.7 L35.1,621.0 L35.5,622.2 L35.5,623.5 L35.9,624.7 L36.1,626.0M39.1,636.4 L38.2,635.6 L37.0,634.9 L35.8,635.2 L34.5,635.4 L33.2,635.4 L32.2,634.5 L31.0,634.0M50.3,650.4 L51.2,651.3 L51.5,652.6 L51.2,653.9 L51.5,655.1 L51.8,656.4 L51.4,657.6 L50.6,658.6M33.2,633.9 L33.6,632.6 L33.1,631.4 L32.3,630.4 L31.4,629.5 L30.2,629.0 L28.9,629.2 L27.7,628.8M38.8,611.2 L38.8,609.9 L38.9,608.7 L39.4,607.4M54.0,649.6 L52.8,650.1 L51.7,650.7 L51.1,651.9 L49.9,652.4 L48.6,652.5 L47.3,652.1 L46.1,652.5M30.9,626.5 L31.9,625.6 L32.2,624.3 L32.7,623.1 L33.2,621.9 L33.9,620.8 L34.6,619.7 L35.3,618.6M55.1,635.9 L54.7,634.7 L53.8,633.8 L52.6,633.2 L51.3,633.0 L50.2,632.4 L48.9,631.9 L47.7,631.5M37.0,617.5 L37.5,618.7 L38.4,619.6 L39.7,619.6 L41.0,619.4 L42.3,619.4 L43.5,619.8 L44.7,620.3M38.4,637.9 L38.4,636.6 L37.5,635.6 L36.3,635.1 L35.0,635.1 L33.8,635.2 L32.6,635.9 L31.5,636.5M40.0,620.0 L40.3,621.2 L39.9,622.5 L39.3,623.6 L38.3,624.5 L37.6,625.5 L37.0,626.7 L36.3,627.8M42.7,641.7 L41.9,642.7 L41.2,643.8 L41.2,645.1 L41.5,646.4 L42.3,647.4 L42.3,648.7 L43.0,649.9M20.6,641.5 L20.5,642.8 L19.7,643.9M52.3,627.0 L51.4,626.0 L51.3,624.7 L50.4,623.7 L49.3,623.1 L48.0,623.2 L46.7,622.8 L45.5,622.5M24.7,635.9 L24.4,634.7 L24.2,633.4 L23.3,632.5 L22.0,632.2 L20.7,632.1 L19.5,631.5" fill="none" stroke="#dd9840" stroke-width="0.32" stroke-opacity="0.75"/>
<path d="M202.1,643.9 L201.1,644.7 L200.1,645.5 L198.9,646.0 L198.1,647.1 L197.3,648.1 L196.2,648.7 L195.0,649.2M209.2,626.8 L209.2,628.1 L208.6,629.3 L208.8,630.5 L209.7,631.5 L210.3,632.6 L210.3,633.9 L209.7,635.1M202.4,632.9 L203.7,632.8 L204.8,633.6 L206.1,633.8 L207.3,633.3 L207.9,632.2 L207.8,630.9 L206.9,629.9M192.3,647.3 L191.3,648.0 L190.6,649.2 L189.6,649.9 L188.3,650.3 L187.1,650.5 L185.8,650.7 L184.5,650.3M189.9,629.0 L189.7,630.3 L189.7,631.6 L188.9,632.6 L188.1,633.7 L188.2,635.0 L188.2,636.3 L187.8,637.5M184.2,646.0 L185.5,645.9 L186.7,646.2 L187.9,645.6 L188.9,644.8 L189.7,643.8 L190.0,642.5 L189.5,641.3M210.6,638.3 L210.9,637.1M209.4,628.6 L208.4,627.7 L207.5,626.8 L206.3,626.3 L205.1,626.0 L203.9,625.3 L202.7,625.1 L201.6,624.4M184.4,635.5 L185.2,634.4 L185.3,633.1 L185.1,631.9 L184.1,631.1 L182.8,631.1 L181.7,630.3M209.0,631.5 L207.9,632.1 L206.6,632.0 L205.3,632.0 L204.2,632.7 L203.3,633.6 L202.9,634.8 L202.8,636.1M207.0,650.4 L208.1,649.7 L209.4,649.5M205.4,618.6 L205.2,617.3 L204.9,616.0 L203.9,615.1 L202.8,614.5 L202.3,613.3 L202.6,612.0 L202.4,610.8M186.6,644.6 L186.9,643.4 L187.8,642.4 L188.3,641.2 L188.9,640.1 L188.8,638.8 L188.0,637.7 L187.9,636.4M181.2,636.4 L182.4,635.8 L183.0,634.6 L183.7,633.6 L184.9,633.2 L186.2,632.9 L187.0,631.9 L187.3,630.6M193.7,614.8 L193.3,616.0 L192.8,617.2 L192.4,618.4 L193.0,619.6 L193.5,620.8 L193.5,622.1 L194.2,623.3M206.9,651.2 L207.9,650.4 L208.9,649.5M190.7,635.6 L191.0,636.8 L191.8,637.8 L193.0,638.2 L194.3,638.4 L195.6,638.2 L196.9,638.5 L198.2,638.5M209.1,630.4 L209.6,631.6 L209.9,632.9 L210.3,634.1 L210.7,635.4M183.2,631.6 L182.2,632.4M190.5,641.0 L190.7,639.7 L190.1,638.6 L190.3,637.3 L191.0,636.2 L191.9,635.2 L192.9,634.4 L193.2,633.1M204.2,635.1 L202.9,634.9 L201.6,634.8 L200.5,635.5 L199.2,635.5 L197.9,635.6 L196.6,635.8 L195.4,635.4M204.1,616.1 L205.0,615.2 L205.3,613.9 L205.3,612.6M199.0,610.3 L198.2,609.2 L197.7,608.0 L197.4,606.8 L196.3,606.0 L195.3,605.2M206.5,648.0 L206.9,646.7 L207.5,645.6 L208.3,644.6 L209.4,643.8M194.6,628.5 L193.5,627.8 L192.3,627.3 L191.2,626.5 L190.0,626.3 L188.7,625.8 L188.0,624.7 L186.8,624.2M203.5,615.4 L202.2,615.7 L201.4,616.6 L201.0,617.9 L199.9,618.6 L198.7,619.1 L197.9,620.1 L197.7,621.4M185.5,644.8 L186.7,644.1 L187.9,643.7 L189.1,643.2 L190.3,642.8 L191.6,643.2 L192.8,642.9 L194.1,643.2M195.1,620.6 L195.7,621.7 L195.7,623.0 L195.9,624.3 L196.7,625.3 L197.5,626.3 L198.0,627.5 L198.7,628.6M191.9,642.4 L193.1,643.1 L193.9,644.0 L195.2,644.5 L196.4,644.3 L197.7,644.2 L198.8,643.5 L199.6,642.5M195.4,621.6 L194.1,621.8 L192.8,622.1 L191.5,621.9 L190.2,621.9 L189.1,622.4 L188.4,623.5 L188.2,624.8M192.0,642.5 L190.8,643.1 L190.2,644.2 L189.3,645.2 L188.0,645.4 L186.7,645.3 L185.4,645.3 L184.3,644.7M208.3,627.2 L208.3,628.5 L208.4,629.8 L208.1,631.1 L208.2,632.4 L208.6,633.6 L209.6,634.5 L210.9,634.5M195.2,666.4 L196.5,666.3 L197.8,666.0 L199.0,666.5 L200.3,666.5 L201.3,665.7 L201.7,664.5 L201.8,663.2M208.3,637.9 L209.6,637.9 L210.6,637.1M201.2,643.8 L202.0,644.8 L202.7,645.9 L203.6,646.9 L204.7,647.5 L206.0,647.1 L207.2,647.5 L208.2,648.4M208.0,628.4 L206.9,629.2 L206.3,630.3 L205.8,631.5 L205.5,632.8 L204.5,633.6 L203.9,634.7 L203.0,635.7M194.5,611.2 L193.2,611.1 L192.0,611.7 L190.9,612.2 L189.6,612.5 L188.4,612.0 L187.5,611.1M203.9,659.6 L204.9,660.4M184.8,619.9 L186.1,619.8 L187.4,620.0 L188.5,620.6 L189.8,620.3 L191.1,620.0 L192.3,620.2 L193.5,620.8M194.9,638.8 L194.0,637.9 L193.0,637.0 L192.1,636.1 L191.4,635.1 L190.6,634.0 L189.8,633.0 L189.2,631.8M197.8,608.8 L198.9,609.5 L200.2,609.7 L201.5,609.8 L202.7,609.4M187.9,649.9 L189.1,650.3 L190.3,650.8 L191.6,651.0 L192.9,651.2 L194.1,650.7 L195.3,650.3 L196.6,650.6M195.2,613.2 L195.5,611.9 L195.1,610.6 L195.0,609.3 L194.4,608.2 L193.4,607.3 L192.9,606.1M199.2,650.3 L199.3,649.0 L200.1,648.0 L201.2,647.3 L202.1,646.3 L203.2,645.5 L204.5,645.5 L205.6,646.1M200.9,630.7 L201.5,631.8 L201.5,633.1 L201.2,634.4 L200.7,635.6 L200.8,636.9 L201.1,638.2 L201.0,639.5M209.9,643.0 L210.2,641.8M187.8,635.3 L186.9,636.2 L185.8,637.0 L185.1,638.0 L184.6,639.3 L184.2,640.5 L183.4,641.5 L183.4,642.8M205.9,622.0 L204.6,621.9 L203.4,621.3 L202.3,620.7 L201.0,620.5 L199.8,621.0 L198.7,621.7 L198.3,622.9M195.6,662.6 L194.4,663.0 L193.2,663.5 L191.9,663.3 L190.6,663.7 L189.4,663.3 L188.6,662.3 L188.4,661.0M199.7,615.3 L199.8,616.6 L199.2,617.8 L198.6,618.9 L197.7,619.8 L196.6,620.5 L195.3,620.7 L194.1,620.2M192.7,627.1 L191.4,627.6 L190.4,628.4 L189.3,629.0 L188.2,629.8 L187.8,631.0 L187.6,632.3 L187.1,633.4M190.4,623.3 L189.1,623.6 L187.9,623.3 L186.6,623.7 L185.6,624.5 L184.8,625.5 L184.4,626.7 L184.5,628.0M194.2,648.4 L195.5,648.6 L196.8,648.6 L198.0,648.9 L198.9,649.8 L199.1,651.1 L199.4,652.4 L200.0,653.5M188.6,622.6 L188.1,621.4 L188.1,620.1 L188.9,619.1 L190.0,618.5 L191.3,618.3 L192.4,619.0 L193.2,620.1M195.8,610.8 L197.1,610.6 L198.4,610.2 L199.6,610.0 L200.7,609.3 L202.0,609.1M188.3,657.5 L188.1,656.2 L187.7,655.0 L187.3,653.8 L186.2,653.1 L185.0,652.5 L183.7,652.8M202.4,644.2 L203.0,643.1 L203.1,641.8 L202.4,640.7 L202.5,639.4 L202.5,638.1 L201.7,637.0 L200.9,636.0M200.8,614.5 L200.4,615.8 L200.3,617.1 L199.5,618.1 L198.3,618.6 L197.4,619.6 L196.5,620.4 L195.2,620.8M197.6,648.5 L196.6,647.8 L195.4,647.1 L194.4,646.4 L193.4,645.6 L192.7,644.5 L191.5,643.9 L190.2,643.7M200.2,649.1 L201.4,648.6 L202.7,648.7 L204.0,648.7 L205.2,648.1 L205.9,647.0 L206.9,646.3 L208.2,646.1M195.2,622.0 L196.0,621.0 L196.4,619.8 L196.9,618.6 L198.0,617.9 L198.7,616.8 L199.7,616.0 L200.9,615.5M190.6,650.7 L189.3,650.9 L188.1,650.5 L186.9,649.8 L186.2,648.8 L185.5,647.6 L184.4,647.1 L183.1,647.0M205.0,656.1 L203.8,656.7 L202.5,656.5 L201.4,655.7 L200.6,654.8 L199.4,654.2 L198.1,654.3 L196.8,654.4M200.2,608.3 L201.5,608.1M189.3,625.8 L189.3,624.5 L189.9,623.3 L191.0,622.6 L191.7,621.6 L192.9,621.1 L193.7,620.0 L194.6,619.1M196.8,626.3 L196.3,627.5 L196.0,628.7 L196.4,630.0 L197.4,630.8 L198.3,631.7 L199.6,632.1 L200.9,631.8M195.1,660.3 L196.3,660.7 L197.6,660.6 L198.9,660.2 L200.2,660.1 L201.4,660.0 L202.7,660.4 L203.5,661.5M202.9,631.9 L201.8,631.1 L200.5,631.1 L199.3,630.9 L198.0,630.7 L196.7,631.0 L195.6,631.7 L194.4,632.0M192.2,630.2 L192.2,628.9 L192.0,627.6 L192.1,626.3 L191.6,625.1 L190.7,624.2 L189.8,623.3 L189.5,622.0M198.7,645.9 L197.6,646.6 L197.1,647.8 L196.5,648.9 L195.6,649.9 L194.4,650.2 L193.4,651.1 L192.2,651.6M183.2,650.2 L184.5,649.9 L185.8,649.8 L186.9,649.0 L187.7,648.0 L188.9,647.6 L190.2,647.5 L191.4,646.9M200.8,664.1 L201.4,662.9 L202.4,662.1 L203.0,660.9 L203.6,659.8 L204.7,659.1 L205.9,658.7 L207.1,658.2M185.4,656.2 L184.4,655.4M196.2,656.0 L195.4,657.0 L195.5,658.3 L195.2,659.6 L195.0,660.9 L195.6,662.0 L196.3,663.1 L196.8,664.3M192.3,649.2 L193.5,648.7 L194.7,648.2 L196.0,648.1 L197.3,648.2 L198.6,648.5 L199.9,648.5 L201.2,648.2M196.8,655.9 L197.6,657.0 L198.7,657.7 L200.0,657.7 L201.1,657.1 L202.4,657.1 L203.7,657.2 L205.0,656.9M204.9,643.6 L203.8,643.0 L202.5,643.0 L201.3,642.5 L200.4,641.6 L199.6,640.6 L199.6,639.3 L199.0,638.1M196.4,651.4 L197.6,651.2 L198.7,650.4 L200.0,650.1 L201.1,649.4 L202.4,649.3 L203.6,648.9 L204.9,648.6M187.2,620.8 L188.2,619.9 L188.8,618.7 L189.1,617.5 L189.1,616.2 L189.1,614.9 L188.9,613.6 L188.7,612.3M190.3,663.0 L189.1,663.5M187.1,636.9 L186.2,637.8 L185.4,638.8 L185.0,640.1 L184.7,641.3 L185.2,642.5 L186.3,643.3 L187.4,643.8M195.5,636.0 L196.3,634.9 L196.7,633.7 L196.8,632.4 L197.6,631.4 L198.7,630.9 L200.0,631.2 L201.1,631.9M196.8,626.9 L195.9,627.9 L195.1,628.9 L194.9,630.2 L194.8,631.5 L194.8,632.8 L194.5,634.0 L193.9,635.2M188.8,637.3 L187.8,636.4 L186.8,635.7 L186.4,634.5 L186.0,633.2 L184.9,632.4 L183.8,631.8 L182.6,631.2M188.9,660.8 L188.5,659.5 L188.4,658.2 L189.0,657.0 L189.0,655.7 L189.8,654.7 L189.9,653.4 L190.7,652.4M196.6,608.2 L197.7,608.8 L199.0,608.9 L200.3,608.6 L201.5,609.0 L202.8,609.4 L203.5,610.4 L204.0,611.6M204.7,620.1 L206.0,620.0 L207.3,619.8 L208.4,619.1M197.9,607.6 L197.8,606.3 L197.0,605.3M190.8,638.9 L191.9,639.5 L192.8,640.5 L192.8,641.8 L192.5,643.1 L191.6,644.0 L190.9,645.1 L190.7,646.4M195.0,637.3 L196.2,637.7 L197.4,638.2 L198.2,639.3 L199.0,640.3 L199.6,641.4 L200.7,642.2 L201.2,643.4M194.6,616.8 L195.8,617.3 L197.1,617.7 L198.1,618.5 L199.4,618.8 L200.3,619.7 L201.1,620.8 L201.8,621.8M189.1,645.9 L188.6,647.1 L188.0,648.3 L188.1,649.6 L188.9,650.6 L189.1,651.9 L189.9,652.9 L191.2,653.1M202.6,629.7 L202.3,628.4 L202.9,627.2 L202.8,625.9 L202.2,624.8 L202.0,623.5 L201.2,622.5 L200.2,621.6M184.4,652.0 L183.6,651.0 L182.5,650.3M204.8,634.7 L205.9,635.4 L207.2,635.6 L208.5,635.5 L209.7,635.0 L210.9,634.6M210.2,629.8 L209.5,630.9 L209.6,632.2 L208.7,633.3 L207.5,633.8 L206.4,634.4 L205.1,634.6 L204.0,635.3M198.3,637.3 L197.7,638.5 L197.6,639.8 L198.0,641.0 L198.0,642.3 L198.5,643.5 L199.3,644.5 L200.3,645.4M210.3,642.5 L209.1,642.1 L207.8,642.6 L206.8,643.4 L206.4,644.6 L206.4,645.9 L205.9,647.2 L204.9,648.0M196.2,632.5 L196.3,631.2 L196.5,629.9 L196.2,628.7 L196.1,627.4 L195.4,626.3 L194.7,625.2 L194.5,623.9M195.2,607.8 L196.2,606.9 L196.7,605.7M193.8,621.3 L194.6,622.4 L194.9,623.6 L195.9,624.4 L196.8,625.4 L197.9,626.0 L199.1,626.5 L200.2,627.3M199.8,619.6 L200.7,620.6 L200.8,621.8 L201.6,622.9 L202.2,624.0 L203.1,625.0 L203.5,626.3 L204.0,627.4M198.0,605.5 L198.9,606.5 L199.1,607.8 L198.7,609.0 L197.8,609.9 L196.7,610.6 L195.5,611.2 L194.6,612.1M191.5,634.0 L190.4,633.4 L189.7,632.3 L189.8,631.0 L189.8,629.7 L189.6,628.4 L190.0,627.2 L190.3,625.9M190.4,629.8 L191.2,628.8 L192.0,627.8 L191.9,626.5 L191.6,625.2 L192.0,624.0 L192.8,623.0 L194.1,622.7M194.2,658.6 L194.2,659.9 L194.3,661.2 L195.2,662.2 L196.1,663.1 L197.3,663.6 L198.1,664.6 L198.6,665.8M206.6,643.6 L205.3,643.3 L204.1,643.8 L203.1,644.6 L202.6,645.8 L201.5,646.5 L200.9,647.6 L201.0,648.9M192.5,659.3 L191.6,660.2 L190.3,660.6 L189.2,661.2 L188.3,662.2 L188.1,663.5M194.1,645.4 L193.7,644.1 L193.8,642.8 L193.4,641.6 L193.5,640.3 L193.7,639.0 L194.5,638.0 L194.5,636.7M185.4,646.3 L186.3,647.2 L187.5,647.7 L188.7,648.2 L189.5,649.3 L190.1,650.4 L190.7,651.6 L191.1,652.8M192.0,652.4 L191.1,651.5 L189.9,651.1 L189.0,650.1 L188.0,649.3 L186.7,649.0 L185.4,649.1 L184.3,648.5M205.7,621.9 L207.0,621.6 L207.8,620.6M198.0,651.7 L197.3,650.6 L197.3,649.3 L196.7,648.1 L196.8,646.8 L197.3,645.6 L198.3,644.8 L199.0,643.7M184.9,623.7 L186.0,623.0 L186.6,621.8 L187.7,621.3 L188.5,620.2 L189.3,619.2 L190.0,618.1 L191.0,617.2M199.0,645.2 L199.0,646.4 L199.7,647.6 L200.5,648.6 L201.3,649.6 L201.3,650.9 L201.2,652.2 L201.7,653.4M186.4,620.4 L185.6,619.4 L185.2,618.2 L185.3,616.9 L185.1,615.6M199.8,614.8 L200.8,613.9 L201.0,612.6 L201.4,611.3 L201.8,610.1 L201.8,608.8M203.1,627.8 L202.9,626.5 L203.1,625.3 L203.4,624.0 L203.0,622.7 L202.9,621.4 L202.8,620.1 L203.4,619.0M201.7,635.4 L200.4,635.4 L199.3,636.1 L198.7,637.2 L197.5,637.7 L196.7,638.8 L196.0,639.8 L195.0,640.7M189.6,619.9 L188.5,619.3 L187.5,618.5 L186.4,617.8 L185.1,617.6 L183.9,618.2M203.1,620.2 L204.2,619.5 L205.3,618.7 L206.6,618.7 L207.9,618.7M191.5,664.5 L190.2,664.7 L189.1,664.1 L188.1,663.2 L187.7,662.0 L186.7,661.1 L186.2,659.9 L185.3,659.0M194.3,643.3 L193.2,642.6 L192.4,641.6 L191.1,641.3 L189.9,641.8 L188.7,642.3 L187.4,642.4 L186.2,642.8M202.2,627.6 L201.0,628.0 L199.9,628.8 L199.7,630.0 L200.1,631.3 L199.8,632.5 L199.0,633.5 L198.6,634.7M206.6,637.9 L207.9,638.2 L209.1,637.6 L209.9,636.6M187.3,617.5 L186.7,616.4 L186.3,615.1 L186.3,613.8 L186.9,612.7 L188.0,612.0 L188.8,611.0 L189.8,610.1M191.4,644.4 L191.7,643.2 L191.6,641.9 L191.8,640.6 L191.3,639.3 L191.5,638.1 L191.5,636.8 L191.1,635.5M192.8,626.2 L194.0,626.5 L195.2,625.9 L196.0,624.9 L197.2,624.3 L198.5,624.2 L199.4,623.3 L200.6,622.7M184.4,644.9 L183.2,645.5 L181.9,645.5M204.0,639.5 L205.3,639.2 L206.6,639.5 L207.7,640.2 L208.9,640.7 L209.7,641.7 L210.5,642.8 L210.4,644.1M192.4,666.3 L191.1,666.0 L189.8,666.0M200.4,661.6 L200.1,662.9 L199.3,663.9 L198.1,664.3 L196.8,664.2 L195.5,663.8 L194.3,663.5 L193.0,663.2M195.7,606.5 L195.7,605.2M198.9,620.5 L200.2,620.5 L201.5,620.4 L202.7,619.9 L203.9,619.6 L205.2,619.9 L206.4,620.2 L207.4,621.1M195.6,610.3 L194.5,609.7 L193.9,608.6 L192.7,608.0 L192.0,607.0M189.3,612.1 L190.5,612.5 L191.6,613.3 L192.6,614.1 L193.0,615.4 L193.2,616.7 L193.1,618.0 L193.4,619.2M200.5,660.5 L201.8,660.2 L203.0,659.8 L204.3,660.0 L205.4,660.7M194.8,620.8 L196.1,620.6 L197.4,620.5 L198.7,620.2 L199.7,619.4 L201.0,619.1 L202.3,619.1 L203.4,619.8M189.7,625.5 L188.5,626.1 L187.2,626.0 L186.1,626.5 L185.3,627.6 L184.9,628.8 L184.9,630.1 L185.1,631.4" fill="none" stroke="#dd9840" stroke-width="0.32" stroke-opacity="0.75"/>
<path d="M57.1,638.9l-1.5,0.7M49.9,643.6l0.1,1.1M56.6,640.3 L55.2,640.8 L53.8,641.4 L52.5,642.1 L51.2,642.8 L49.9,643.6 L48.6,644.3M56.3,641.8l1.1,1.3M56.0,643.2l0.8,1.8M55.6,644.7l1.5,0.8M55.4,646.2l1.5,0.8M54.6,649.1l1.0,1.0M54.0,650.5l-1.4,0.4M53.3,651.8l-1.9,0.1M51.3,655.8l0.4,1.2M50.0,658.5 L48.5,658.8 L47.1,659.0 L45.6,659.3 L44.1,659.3 L42.6,659.6 L41.1,659.7M49.3,661.4l-1.7,0.3M49.2,662.9l-1.5,0.7M49.1,664.3l-1.3,0.9M49.4,659.9 L49.3,661.4 L49.2,662.9 L49.1,664.3M48.3,662.7l-1.1,0.5M60.0,632.0 L59.5,633.4 L58.9,634.8 L58.3,636.2 L57.6,637.5 L57.1,638.9 L56.6,640.3 L56.3,641.8 L56.0,643.2 L55.6,644.7 L55.4,646.2 L55.1,647.7 L54.6,649.1 L54.0,650.5 L53.3,651.8 L52.7,653.1 L51.9,654.4 L51.3,655.8 L50.7,657.2 L50.0,658.5 L49.4,659.9 L48.8,661.3 L48.3,662.7M56.8,639.4l-1.0,0.9M57.2,640.8l0.9,0.7M57.6,642.3l1.5,0.4M58.1,643.7l-0.5,1.4M58.9,646.6l-0.5,0.8M56.0,636.5 L56.4,637.9 L56.8,639.4 L57.2,640.8 L57.6,642.3 L58.1,643.7 L58.4,645.1 L58.9,646.6 L59.3,648.0M53.8,638.5l-1.1,-0.2M50.3,649.8l1.3,1.1M52.8,639.6 L52.5,641.1 L52.4,642.6 L52.1,644.1 L51.8,645.5 L51.3,646.9 L50.8,648.4 L50.3,649.8 L49.7,651.1 L49.1,652.5 L48.5,653.9 L47.8,655.2M51.0,642.0l0.3,1.6M49.0,646.0l1.0,1.7M47.7,648.7l0.3,1.6M47.7,648.7 L46.4,649.4 L45.0,650.0 L43.5,650.3 L42.0,650.7 L40.6,651.2 L39.2,651.5M44.7,651.8l0.2,1.6M41.9,652.7l-0.6,1.6M37.5,653.6l-0.1,1.5M34.5,653.8l-1.2,1.1M46.2,651.3 L44.7,651.8 L43.3,652.3 L41.9,652.7 L40.4,653.0 L38.9,653.3 L37.5,653.6 L36.0,653.7 L34.5,653.8M42.6,655.8l0.1,1.5M38.8,658.3l0.3,1.0M36.5,660.2l0.0,1.7M32.9,662.9l-0.4,1.0M43.9,655.2 L42.6,655.8 L41.3,656.6 L40.0,657.4 L38.8,658.3 L37.6,659.2 L36.5,660.2 L35.4,661.2 L34.1,662.1 L32.9,662.9 L31.7,663.8M42.8,658.0l0.4,1.2M42.4,659.4l1.2,1.4M60.0,632.0 L59.0,633.1 L58.0,634.2 L57.0,635.4 L56.0,636.5 L55.0,637.6 L53.8,638.5 L52.8,639.6 L51.8,640.7 L51.0,642.0 L50.2,643.3 L49.6,644.6 L49.0,646.0 L48.3,647.4 L47.7,648.7 L47.0,650.1 L46.2,651.3 L45.4,652.6 L44.6,653.9 L43.9,655.2 L43.3,656.6 L42.8,658.0 L42.4,659.4 L41.8,660.8M58.7,632.8l0.1,1.2M57.4,633.6l-1.0,-0.6M52.8,637.3l-0.2,1.3M51.7,638.4l-1.6,0.3M50.7,639.5l-1.4,0.2M49.3,639.9l-0.3,1.6M46.4,640.6l-0.8,-1.4M42.1,641.9l-0.9,-0.3M50.7,639.5 L49.3,639.9 L47.8,640.1 L46.4,640.6 L45.0,641.1 L43.5,641.5 L42.1,641.9M49.6,640.5l0.2,1.4M48.8,646.1l1.1,1.4M48.9,647.6l-1.0,1.0M49.4,650.6l-0.9,0.5M50.3,655.0l-1.2,1.1M50.7,656.4l0.8,0.4M48.7,641.7 L48.8,643.1 L48.9,644.6 L48.8,646.1 L48.9,647.6 L49.1,649.1 L49.4,650.6 L49.6,652.1 L49.8,653.6 L50.3,655.0 L50.7,656.4M44.0,645.5l-1.6,-0.8M43.8,647.0l0.7,0.7M43.7,651.5l-1.2,0.6M44.0,645.5 L43.8,647.0 L43.7,648.5 L43.7,650.0 L43.7,651.5 L43.5,652.9 L43.2,654.4M42.8,646.3l-1.5,-0.8M37.3,648.5l-1.3,-1.0M34.3,649.2l-0.5,0.8M32.9,649.5l-0.7,1.4M25.5,651.0l-1.0,-1.1M24.1,651.5l-0.1,1.4M38.7,648.3 L37.3,648.5 L35.8,648.7 L34.3,649.2 L32.9,649.5 L31.4,649.8 L29.9,650.1 L28.5,650.4 L27.0,650.7 L25.5,651.0 L24.1,651.5 L22.7,651.8M37.5,649.1l0.0,1.4M37.4,655.8l1.1,0.0M37.6,657.3l-1.1,0.9M38.0,658.8l1.7,0.1M38.1,660.3l-0.9,1.5M36.3,649.9 L36.5,651.4 L36.8,652.9 L37.1,654.4 L37.4,655.8 L37.6,657.3 L38.0,658.8 L38.1,660.3M35.0,650.8l-1.3,-1.1M33.7,651.5l0.1,1.6M32.3,652.1l0.3,1.5M60.0,632.0 L58.7,632.8 L57.4,633.6 L56.2,634.4 L55.0,635.2 L53.8,636.2 L52.8,637.3 L51.7,638.4 L50.7,639.5 L49.6,640.5 L48.7,641.7 L47.6,642.7 L46.4,643.6 L45.2,644.6 L44.0,645.5 L42.8,646.3 L41.4,647.0 L40.1,647.5 L38.7,648.3 L37.5,649.1 L36.3,649.9 L35.0,650.8 L33.7,651.5 L32.3,652.1 L30.9,652.6 L29.5,653.2M58.6,632.6l-0.5,1.3M57.3,633.3l-1.1,-1.1M54.7,634.9l0.1,1.6M52.1,636.3l-1.4,-0.6M50.8,637.0l-0.1,1.4M43.2,641.8l-1.6,-0.1M42.0,642.6l-1.2,-0.5M40.8,643.5l-0.4,1.1M38.1,644.8l-0.1,1.2M36.7,645.4l-1.4,-1.1M35.3,645.8l-1.0,-1.0M33.8,646.3l0.2,1.3M45.5,639.8 L44.4,640.8 L43.2,641.8 L42.0,642.6 L40.8,643.5 L39.5,644.2 L38.1,644.8 L36.7,645.4 L35.3,645.8 L33.8,646.3M41.2,639.6l-1.3,1.2M39.7,639.2l-1.3,0.8M38.3,638.8l-0.8,0.5M35.5,637.7l-1.3,0.8M44.1,640.3 L42.6,640.0 L41.2,639.6 L39.7,639.2 L38.3,638.8 L36.9,638.2 L35.5,637.7M40.1,642.3l-1.2,-0.8M38.8,643.2l-0.8,-0.7M35.5,651.3l1.0,0.6M33.3,656.9l0.9,1.5M37.7,644.2 L37.4,645.6 L37.0,647.1 L36.5,648.5 L36.0,649.9 L35.5,651.3 L35.0,652.8 L34.4,654.1 L33.9,655.5 L33.3,656.9M36.5,645.1l-0.3,1.3M34.0,646.6l-0.4,1.4M32.6,647.0l-0.8,-0.4M31.2,647.5l-0.6,0.8M27.1,649.3l-0.3,1.0M35.5,646.1 L34.0,646.6 L32.6,647.0 L31.2,647.5 L29.8,648.0 L28.4,648.7 L27.1,649.3 L25.7,650.1 L24.4,650.8M60.0,632.0 L58.6,632.6 L57.3,633.3 L56.0,634.1 L54.7,634.9 L53.4,635.6 L52.1,636.3 L50.8,637.0 L49.5,637.8 L48.2,638.6 L46.9,639.2 L45.5,639.8 L44.1,640.3 L42.7,640.9 L41.4,641.6 L40.1,642.3 L38.8,643.2 L37.7,644.2 L36.5,645.1 L35.5,646.1 L34.3,647.1M56.5,634.5l-1.3,-0.3M53.7,638.0l-1.5,-0.1M51.7,640.3l-1.5,0.2M50.7,641.4l0.8,1.5M49.6,642.4l-1.0,-0.6M48.5,643.4l-1.5,-0.2M58.5,632.3 L57.5,633.4 L56.5,634.5 L55.6,635.7 L54.6,636.8 L53.7,638.0 L52.7,639.1 L51.7,640.3 L50.7,641.4 L49.6,642.4 L48.5,643.4 L47.3,644.3M57.1,632.7l-1.5,-0.8M53.0,634.5l-0.1,1.6M51.7,635.3l-1.4,-0.5M50.2,635.4l-1.3,-1.0M48.7,635.3l-0.8,-0.7M47.2,635.3l-0.6,1.0M42.7,635.5l-0.3,-1.1M51.7,635.3 L50.2,635.4 L48.7,635.3 L47.2,635.3 L45.7,635.4 L44.2,635.4 L42.7,635.5 L41.2,635.5M50.5,636.2l-0.5,1.9M49.3,637.1l-1.1,-0.5M48.3,639.9l-1.2,0.2M48.0,641.4l1.2,0.8M47.6,642.8l-1.0,0.7M47.0,645.8l1.2,0.7M49.3,637.1 L48.7,638.5 L48.3,639.9 L48.0,641.4 L47.6,642.8 L47.3,644.3 L47.0,645.8M45.3,639.2l-0.8,-1.0M41.7,643.4l-1.3,-0.1M40.7,646.2l-1.3,-0.2M40.1,647.6l-1.4,-0.0M38.9,650.3l-1.2,0.6M42.7,640.6 L42.2,642.0 L41.7,643.4 L41.2,644.8 L40.7,646.2 L40.1,647.6 L39.5,649.0 L38.9,650.3 L38.2,651.7M40.0,641.9l-1.5,-0.2M38.5,641.6l-0.7,-1.2M37.1,641.1l-1.1,1.0M40.0,641.9 L38.5,641.6 L37.1,641.1 L35.7,640.6 L34.4,639.9 L33.1,639.1 L31.8,638.4M37.2,643.1l-1.2,-1.6M35.8,643.7l-1.6,-0.4M34.5,644.3l-0.9,-0.9M33.0,648.5l-1.2,0.6M32.7,650.0l-1.5,0.6M34.5,644.3 L33.9,645.7 L33.4,647.1 L33.0,648.5 L32.7,650.0 L32.5,651.5 L32.4,653.0 L32.2,654.5M31.7,645.5l-1.1,-0.8M60.0,632.0 L58.5,632.3 L57.1,632.7 L55.7,633.2 L54.3,633.8 L53.0,634.5 L51.7,635.3 L50.5,636.2 L49.3,637.1 L48.0,637.8 L46.7,638.5 L45.3,639.2 L44.0,640.0 L42.7,640.6 L41.3,641.2 L40.0,641.9 L38.6,642.6 L37.2,643.1 L35.8,643.7 L34.5,644.3 L33.1,644.8 L31.7,645.5 L30.4,646.1M55.6,631.3l-0.8,1.6M51.1,631.2l-0.9,-1.6M40.2,624.0l-1.1,0.1M39.5,622.6l-1.1,-0.1M38.8,621.3l-1.0,-0.3M45.1,631.5 L44.1,630.4 L43.1,629.2 L42.3,628.0 L41.5,626.7 L40.7,625.4 L40.2,624.0 L39.5,622.6 L38.8,621.3M38.8,634.8l-1.3,-0.0M42.1,631.7 L41.0,632.8 L39.9,633.8 L38.8,634.8 L37.8,635.9 L36.9,637.1 L35.9,638.2 L34.9,639.4 L34.1,640.6 L33.4,641.9M40.6,632.0l-1.0,-1.6M39.1,632.0l-1.6,-1.1M36.1,631.9l-0.7,1.9M34.6,631.8l-1.0,0.9M30.1,631.6l-0.4,0.9M60.0,632.0 L58.5,631.8 L57.0,631.5 L55.6,631.3 L54.1,631.2 L52.6,631.2 L51.1,631.2 L49.6,631.3 L48.1,631.3 L46.6,631.3 L45.1,631.5 L43.6,631.7 L42.1,631.7 L40.6,632.0 L39.1,632.0 L37.6,632.0 L36.1,631.9 L34.6,631.8 L33.1,631.7 L31.6,631.6 L30.1,631.6M56.1,629.8l-1.4,0.5M55.0,628.9l-0.1,-1.2M58.6,631.6 L57.4,630.7 L56.1,629.8 L55.0,628.9 L53.8,628.0 L52.5,627.2 L51.3,626.3 L50.2,625.3M55.6,631.0l-1.4,0.5M54.2,630.6l-1.0,0.6M52.7,630.4l-1.1,0.7M47.1,631.2l-1.2,-1.1M45.8,631.9l0.3,0.9M44.4,632.6l-1.5,-0.6M43.1,633.4l-1.5,-0.3M49.7,629.8 L48.4,630.6 L47.1,631.2 L45.8,631.9 L44.4,632.6 L43.1,633.4 L41.9,634.2 L40.7,635.1M48.3,629.6l-0.2,-1.7M45.4,629.6l-0.8,-1.5M42.5,630.4l-0.9,-1.1M39.6,631.3l-1.1,-0.6M36.6,631.8l-0.5,1.2M46.8,629.2 L45.4,629.6 L43.9,630.0 L42.5,630.4 L41.0,630.9 L39.6,631.3 L38.1,631.6 L36.6,631.8 L35.2,632.1 L33.7,632.3M45.3,628.9l-0.1,-1.2M39.6,628.8l-0.6,-0.9M36.6,629.4l-0.7,-1.0M35.2,629.8l-0.0,1.4M32.2,630.3l-0.6,-0.8M42.5,628.0 L41.0,628.3 L39.6,628.8 L38.1,629.1 L36.6,629.4 L35.2,629.8 L33.7,630.1 L32.2,630.3M39.6,627.2l-1.3,1.5M38.6,626.1l-1.6,0.7M37.6,625.0l-0.1,-1.6M35.7,622.7l-1.4,0.2M34.5,621.7l-1.0,0.8M39.6,627.2 L38.6,626.1 L37.6,625.0 L36.7,623.8 L35.7,622.7 L34.5,621.7M38.1,627.0l-0.3,-1.1M33.7,625.9l-0.7,-1.8M30.8,625.4l-1.0,0.9M60.0,632.0 L58.6,631.6 L57.1,631.4 L55.6,631.0 L54.2,630.6 L52.7,630.4 L51.2,630.1 L49.7,629.8 L48.3,629.6 L46.8,629.2 L45.3,628.9 L43.9,628.5 L42.5,628.0 L41.0,627.6 L39.6,627.2 L38.1,627.0 L36.6,626.7 L35.2,626.2 L33.7,625.9 L32.3,625.7 L30.8,625.4 L29.3,625.2M53.2,629.0l-0.8,-1.4M51.8,628.4l-1.3,0.4M50.3,628.0l-1.1,-1.5M47.5,627.1l-1.3,1.2M46.0,626.6l-0.7,-1.2M40.6,624.4l0.8,-1.2M38.6,622.2l-1.2,-0.2M37.8,620.9l-1.3,0.5M36.1,618.5l0.7,-1.0M34.0,616.3l0.5,-0.9M30.2,611.7l0.0,-0.9M41.7,625.5 L40.6,624.4 L39.6,623.4 L38.6,622.2 L37.8,620.9 L37.0,619.7 L36.1,618.5 L35.0,617.4 L34.0,616.3 L33.1,615.2 L32.1,614.0 L31.2,612.8 L30.2,611.7M39.3,626.4l-1.7,0.3M38.4,627.6l-0.0,1.8M36.9,630.2l-1.3,0.4M34.2,635.6l0.4,1.3M40.2,625.3 L39.3,626.4 L38.4,627.6 L37.6,628.9 L36.9,630.2 L36.1,631.5 L35.3,632.8 L34.7,634.2 L34.2,635.6 L33.6,637.0 L33.1,638.4M33.1,618.7l0.6,-1.6M31.4,616.2l0.7,-1.4M29.7,613.7l-1.5,0.8M27.8,611.4l0.1,-1.5M37.2,624.9 L36.4,623.7 L35.6,622.4 L34.8,621.1 L34.0,619.9 L33.1,618.7 L32.3,617.4 L31.4,616.2 L30.6,614.9 L29.7,613.7 L28.9,612.5 L27.8,611.4M31.3,624.4l-1.1,-1.2M29.8,624.4l-0.5,1.7M28.3,624.5l-0.8,-0.7M20.9,625.5l-1.0,-1.2M20.9,625.5 L19.7,626.4M60.0,632.0 L58.7,631.2 L57.4,630.5 L56.0,630.0 L54.6,629.4 L53.2,629.0 L51.8,628.4 L50.3,628.0 L48.9,627.6 L47.5,627.1 L46.0,626.6 L44.6,626.1 L43.2,625.7 L41.7,625.5 L40.2,625.3 L38.7,625.0 L37.2,624.9 L35.7,624.9 L34.2,624.8 L32.8,624.6 L31.3,624.4 L29.8,624.4 L28.3,624.5 L26.8,624.6 L25.3,624.8 L23.8,625.1 L22.3,625.3 L20.9,625.5M59.0,630.9l0.7,-1.0M57.5,631.0l-1.2,1.2M56.0,631.0l-0.7,-1.3M50.1,631.9l-0.5,0.9M48.6,632.0l-0.6,-1.2M45.6,632.1l-0.7,0.7M42.6,631.9l-1.1,0.8M59.0,630.9 L57.5,631.0 L56.0,631.0 L54.5,631.2 L53.0,631.3 L51.6,631.6 L50.1,631.9 L48.6,632.0 L47.1,632.1 L45.6,632.1 L44.1,632.0 L42.6,631.9M53.7,626.2l-0.3,-1.7M52.2,625.9l-0.7,1.4M49.3,625.3l-0.7,-1.0M46.3,624.8l-0.5,1.3M56.5,627.1 L55.1,626.6 L53.7,626.2 L52.2,625.9 L50.8,625.5 L49.3,625.3 L47.8,625.0 L46.3,624.8 L44.8,624.7M54.3,621.7l1.5,-0.4M54.1,618.8l1.0,-1.0M53.5,615.8l1.2,-0.7M52.7,612.9l-1.0,0.0M52.4,611.5l-1.3,-0.2M54.2,623.2 L54.3,621.7 L54.2,620.2 L54.1,618.8 L53.9,617.3 L53.5,615.8 L53.1,614.4 L52.7,612.9 L52.4,611.5M53.4,622.0l-1.2,0.2M54.0,619.1l1.2,-0.8M54.4,617.6l-0.5,-1.2M55.5,614.8l1.5,-0.3M53.4,622.0 L53.6,620.5 L54.0,619.1 L54.4,617.6 L54.9,616.2 L55.5,614.8M51.0,618.2l-1.1,0.2M47.2,616.5l-0.9,1.5M44.3,615.7l-0.2,-1.0M40.1,614.2l-1.0,0.8M50.2,617.0 L48.7,616.6 L47.2,616.5 L45.8,616.2 L44.3,615.7 L42.9,615.3 L41.5,614.8 L40.1,614.2 L38.7,613.6 L37.3,613.1M44.6,610.1l-0.1,-1.0M39.8,606.4l0.2,-0.9M45.8,610.8 L44.6,610.1 L43.3,609.2 L42.1,608.4 L40.9,607.4 L39.8,606.4M60.0,632.0 L59.0,630.9 L58.2,629.6 L57.3,628.4 L56.5,627.1 L55.8,625.8 L55.1,624.5 L54.2,623.2 L53.4,622.0 L52.5,620.8 L51.7,619.5 L51.0,618.2 L50.2,617.0 L49.4,615.7 L48.5,614.4 L47.7,613.2 L46.8,612.0 L45.8,610.8 L45.0,609.6 L44.0,608.5 L43.2,607.2M57.9,628.3l-0.0,-1.2M51.5,624.4l-1.1,0.4M59.2,629.1 L57.9,628.3 L56.6,627.5 L55.4,626.7 L54.1,625.8 L52.8,625.1 L51.5,624.4 L50.2,623.7M58.8,627.7l-1.9,-0.2M58.3,624.7l-1.9,-0.7M57.6,621.8l0.9,-1.1M53.6,619.6l0.2,-1.5M52.3,618.9l-0.2,-1.0M49.8,617.3l-0.2,-1.4M48.4,616.7l-0.6,0.7M57.6,621.8 L56.2,621.1 L54.9,620.4 L53.6,619.6 L52.3,618.9 L51.1,618.1 L49.8,617.3 L48.4,616.7 L47.2,615.9 L45.8,615.2 L44.5,614.6 L43.1,614.0M50.2,615.4l0.1,-1.5M49.0,614.6l-1.5,0.5M47.7,613.8l0.2,-1.0M46.6,612.8l-1.1,0.5M56.9,618.9 L55.5,618.2 L54.2,617.6 L52.9,616.8 L51.5,616.2 L50.2,615.4 L49.0,614.6 L47.7,613.8 L46.6,612.8 L45.3,612.0 L44.1,611.1M56.4,617.5l0.4,-1.5M55.8,616.1l-1.3,0.0M54.3,613.5l-1.7,-0.7M53.5,612.2l0.9,-1.0M60.0,632.0 L59.6,630.6 L59.2,629.1 L58.8,627.7 L58.5,626.2 L58.3,624.7 L57.9,623.3 L57.6,621.8 L57.3,620.3 L56.9,618.9 L56.4,617.5 L55.8,616.1 L55.1,614.8 L54.3,613.5 L53.5,612.2M181.3,627.8l0.3,-1.7M185.0,625.2l0.9,0.3M179.1,629.8 L180.1,628.7 L181.3,627.8 L182.4,626.8 L183.7,626.0 L185.0,625.2 L186.3,624.5M181.5,628.1l-0.1,-1.3M185.7,627.5l1.3,-1.0M182.7,627.1 L184.2,627.3 L185.7,627.5 L187.2,627.6 L188.7,627.6 L190.2,627.5M184.2,624.8l-0.9,-1.4M184.4,623.3l1.4,-0.7M183.9,626.3 L184.2,624.8 L184.4,623.3 L184.6,621.9 L184.7,620.4M185.1,625.4l1.1,0.2M186.2,624.4l0.0,-1.7M187.4,623.4l1.3,0.9M189.7,621.5l-0.7,-1.3M188.8,616.3l-1.5,-0.0M188.0,615.1l-1.6,0.5M187.2,613.8l-1.7,0.5M186.3,612.6l-1.1,0.4M190.7,620.4 L190.2,619.0 L189.6,617.6 L188.8,616.3 L188.0,615.1 L187.2,613.8 L186.3,612.6 L185.5,611.3M192.5,618.0l1.3,0.3M194.5,615.8l-0.5,-1.8M174.0,633.0 L175.2,632.1 L176.5,631.3 L177.8,630.5 L179.1,629.8 L180.4,629.0 L181.5,628.1 L182.7,627.1 L183.9,626.3 L185.1,625.4 L186.2,624.4 L187.4,623.4 L188.6,622.5 L189.7,621.5 L190.7,620.4 L191.6,619.2 L192.5,618.0 L193.6,616.9 L194.5,615.8M175.4,632.5l1.1,1.5M176.9,632.8l0.3,1.3M178.4,633.1l0.4,-0.8M182.8,634.1l0.8,-1.3M175.4,632.5 L176.9,632.8 L178.4,633.1 L179.8,633.5 L181.3,633.7 L182.8,634.1 L184.2,634.4M179.7,631.2 L181.1,631.8 L182.6,632.2 L184.0,632.6 L185.4,633.1 L186.8,633.6M181.2,630.9l1.4,0.6M182.2,632.0l-0.2,1.1M183.0,633.2l1.5,-0.6M183.9,634.4l1.1,-0.2M185.4,637.0l-0.4,0.8M186.0,638.4l-0.5,1.2M181.2,630.9 L182.2,632.0 L183.0,633.2 L183.9,634.4 L184.7,635.7 L185.4,637.0 L186.0,638.4 L186.4,639.9 L186.9,641.3M188.0,627.7l1.3,0.8M189.2,626.9l1.5,1.1M190.6,626.3l1.1,0.4M193.2,624.9l1.5,0.4M194.4,620.5l1.5,-0.7M193.2,624.9 L193.5,623.4 L193.9,621.9 L194.4,620.5 L194.8,619.1 L195.2,617.6 L195.8,616.3M196.0,623.6l1.7,0.7M174.0,633.0 L175.4,632.5 L176.9,632.1 L178.3,631.7 L179.7,631.2 L181.2,630.9 L182.6,630.4 L184.0,629.8 L185.4,629.2 L186.7,628.5 L188.0,627.7 L189.2,626.9 L190.6,626.3 L192.0,625.6 L193.2,624.9 L194.6,624.2 L196.0,623.6 L197.3,623.0M175.5,632.9l1.1,1.1M182.9,631.8l0.7,1.7M184.3,631.4l0.5,1.2M185.8,631.0l0.6,-1.0M187.3,630.7l0.5,-1.0M187.8,629.3l1.2,-0.6M190.9,622.4l-0.5,-1.0M187.3,630.7 L187.8,629.3 L188.5,627.9 L189.2,626.6 L189.7,625.2 L190.3,623.8 L190.9,622.4 L191.5,621.1 L192.0,619.6 L192.6,618.3M188.7,630.3l0.5,-1.1M192.1,627.6l0.1,-1.5M196.0,623.1l0.9,-0.2M190.2,629.9 L191.1,628.7 L192.1,627.6 L193.2,626.6 L194.2,625.5 L195.2,624.3 L196.0,623.1M198.9,627.9l0.8,1.1M174.0,633.0 L175.5,632.9 L177.0,632.6 L178.4,632.3 L179.9,632.0 L181.4,632.0 L182.9,631.8 L184.3,631.4 L185.8,631.0 L187.3,630.7 L188.7,630.3 L190.2,629.9 L191.6,629.4 L193.0,628.9 L194.4,628.5 L195.9,628.2 L197.4,628.1 L198.9,627.9 L200.4,627.8 L201.9,627.6 L203.3,627.4M175.5,633.2l0.8,0.8M177.0,633.4l0.4,-1.1M183.7,632.1l-0.7,-1.5M187.4,625.6l-0.6,-1.5M183.0,633.4 L183.7,632.1 L184.3,630.7 L185.0,629.4 L185.8,628.1 L186.6,626.8 L187.4,625.6 L188.1,624.3 L188.9,623.0M185.6,632.3l1.1,0.1M187.7,630.1l1.6,0.5M188.7,629.0l1.0,-0.0M189.7,627.9l1.3,0.4M184.5,633.3 L185.6,632.3 L186.6,631.2 L187.7,630.1 L188.7,629.0 L189.7,627.9 L190.7,626.8M186.0,633.3l1.1,1.2M187.5,633.3l1.2,-0.9M189.0,633.3l1.4,-1.2M190.5,633.2l0.6,1.6M194.9,629.7l1.6,0.5M191.9,633.1 L193.0,632.0 L194.0,630.9 L194.9,629.7 L195.9,628.5 L196.8,627.4 L197.7,626.2 L198.5,624.9M194.7,633.8l-0.4,1.5M200.6,638.4l-0.0,1.3M193.4,632.9 L194.7,633.8 L195.8,634.8 L197.0,635.7 L198.2,636.6 L199.4,637.4 L200.6,638.4M196.4,632.6l0.1,-1.2M200.8,635.8l1.1,-0.1M201.6,637.1l-1.0,1.1M197.9,632.4 L198.9,633.5 L199.9,634.6 L200.8,635.8 L201.6,637.1 L202.4,638.4 L203.1,639.7 L203.7,641.1 L204.4,642.4M200.9,632.4l0.9,0.8M174.0,633.0 L175.5,633.2 L177.0,633.4 L178.5,633.4 L180.0,633.5 L181.5,633.4 L183.0,633.4 L184.5,633.3 L186.0,633.3 L187.5,633.3 L189.0,633.3 L190.5,633.2 L191.9,633.1 L193.4,632.9 L194.9,632.7 L196.4,632.6 L197.9,632.4 L199.4,632.4 L200.9,632.4M177.8,635.5l-0.3,1.6M180.5,636.3l0.7,1.1M185.0,636.5l0.3,1.3M188.0,636.2l0.6,1.2M189.5,635.9l0.6,-0.9M190.9,635.6l0.2,-1.4M179.0,636.2 L180.5,636.3 L182.0,636.4 L183.5,636.5 L185.0,636.5 L186.5,636.4 L188.0,636.2 L189.5,635.9 L190.9,635.6 L192.4,635.1M180.4,636.9l1.3,-0.2M183.1,638.2l0.4,1.2M188.0,641.2l1.3,0.1M188.9,642.5l-0.6,0.8M189.9,643.6l-0.3,1.1M192.6,647.1l1.5,0.1M195.4,650.7l-0.3,1.0M196.4,651.8l1.5,0.4M187.2,640.0 L188.0,641.2 L188.9,642.5 L189.9,643.6 L190.9,644.7 L191.8,645.9 L192.6,647.1 L193.6,648.3 L194.4,649.5 L195.4,650.7 L196.4,651.8M190.0,641.1l1.3,-1.4M190.7,642.4l-0.8,0.9M191.6,643.6l-1.1,1.3M192.4,644.9l1.5,-0.3M196.1,649.6l-0.0,1.2M190.0,641.1 L190.7,642.4 L191.6,643.6 L192.4,644.9 L193.2,646.2 L194.2,647.3 L195.1,648.5 L196.1,649.6M191.4,641.7l0.9,-1.2M195.7,640.3l0.9,0.8M197.0,639.7l-0.1,-0.9M198.4,639.1l0.2,-1.3M199.8,638.5l0.9,1.3M191.4,641.7 L192.8,641.3 L194.3,640.8 L195.7,640.3 L197.0,639.7 L198.4,639.1 L199.8,638.5M192.8,642.3l-0.1,1.1M193.3,643.7l-0.8,1.2M196.6,652.0l-0.7,1.2M197.2,653.4l-0.7,1.2M197.6,654.9l-1.2,1.0M192.8,642.3 L193.3,643.7 L193.8,645.1 L194.2,646.5 L194.7,647.9 L195.3,649.3 L196.0,650.7 L196.6,652.0 L197.2,653.4 L197.6,654.9 L198.0,656.3 L198.5,657.7M195.4,643.7l1.5,-0.7M199.3,645.6l0.8,-1.0M200.8,645.5l1.1,1.3M202.3,645.7l0.6,1.6M197.8,645.5 L199.3,645.6 L200.8,645.5 L202.3,645.7 L203.8,646.0 L205.2,646.4 L206.6,647.0 L207.9,647.7 L209.1,648.6M199.0,646.4l0.2,1.4M201.3,648.3l0.9,-0.6M202.5,649.2l1.5,-1.3M206.8,647.6l0.9,0.9M208.1,647.0l0.9,0.9M210.9,645.9l1.3,0.6M202.5,649.2 L204.0,648.7 L205.4,648.2 L206.8,647.6 L208.1,647.0 L209.5,646.4 L210.9,645.9M203.8,650.0l0.1,1.4M205.1,650.7l1.0,-0.2M174.0,633.0 L175.3,633.8 L176.6,634.6 L177.8,635.5 L179.0,636.2 L180.4,636.9 L181.7,637.6 L183.1,638.2 L184.4,638.9 L185.8,639.4 L187.2,640.0 L188.6,640.6 L190.0,641.1 L191.4,641.7 L192.8,642.3 L194.1,643.0 L195.4,643.7 L196.6,644.5 L197.8,645.5 L199.0,646.4 L200.1,647.4 L201.3,648.3 L202.5,649.2 L203.8,650.0 L205.1,650.7 L206.5,651.3M175.2,633.9l1.3,-1.2M180.4,636.5l0.5,1.2M183.4,637.0l0.8,-1.3M186.4,637.3l0.4,1.2M179.0,636.4 L180.4,636.5 L181.9,636.8 L183.4,637.0 L184.9,637.1 L186.4,637.3 L187.9,637.5 L189.4,637.6M182.4,639.3l0.4,1.8M183.5,640.3l-0.4,1.6M184.0,643.3l1.6,0.5M184.2,646.2l0.9,0.4M183.5,640.3 L183.8,641.8 L184.0,643.3 L184.1,644.8 L184.2,646.2 L184.5,647.7M188.6,647.6l-0.4,1.5M191.6,650.9l-0.3,1.0M184.7,641.2 L185.3,642.5 L186.1,643.8 L186.9,645.1 L187.7,646.4 L188.6,647.6 L189.5,648.7 L190.5,649.8 L191.6,650.9 L192.5,652.1M187.4,642.6l-0.3,1.4M190.1,643.7l0.8,-1.1M191.6,644.2l0.9,-0.8M194.3,645.4l1.5,-0.7M199.6,644.6l1.2,0.6M202.3,643.2l0.3,-1.2M197.2,646.3 L198.4,645.4 L199.6,644.6 L200.9,643.8 L202.3,643.2 L203.7,642.5 L205.0,641.9 L206.4,641.4 L207.8,640.8M198.6,646.7l1.0,-0.5M200.1,646.3l0.5,-1.6M201.5,646.0l0.9,0.8M207.4,645.0l0.9,1.6M198.6,646.7 L200.1,646.3 L201.5,646.0 L203.0,645.8 L204.5,645.5 L206.0,645.3 L207.4,645.0M174.0,633.0 L175.2,633.9 L176.4,634.7 L177.7,635.5 L179.0,636.4 L180.1,637.3 L181.2,638.4 L182.4,639.3 L183.5,640.3 L184.7,641.2 L186.0,641.9 L187.4,642.6 L188.8,643.1 L190.1,643.7 L191.6,644.2 L192.9,644.8 L194.3,645.4 L195.7,645.9 L197.2,646.3 L198.6,646.7 L200.1,647.0" fill="none" stroke="#dd9840" stroke-width="0.36" stroke-opacity="0.85"/>
<path d="M60,634 C66,630 70,626 72,620 C76,614 79,610 83,607 C86,604 88,603 90,602.5 C96,601 100,600 105,599.6 C112,598.5 117,597.5 122,597.4 C128,597.5 133,598.5 138,599.6 C144,601 148,603 151,606 C156,609 158,612 159.5,616 C161,620 161.5,624 162,627 C165,631 168,633 173,635.7" fill="none" stroke="#dd9840" stroke-width="0.9"/>
<path d="M80,626 C82,620 84,612 82,606 M162,626 C160,620 158,612 160,606 M86,608 C88,604 92,604 94,600 M156,608 C154,604 150,604 148,600 M79,627 C74,628 70,630 64,632 M163,627 C168,628 172,630 178,632" fill="none" stroke="#dd9840" stroke-width="0.5"/>
<circle cx="54" cy="625" r="1" fill="#dd9840"/><circle cx="188" cy="625" r="1" fill="#dd9840"/>
<text x="36.1" y="578.1" font-size="8" fill="#111" font-weight="bold" text-anchor="middle">aMe12</text>
<text x="35.4" y="589" font-size="8" fill="#1e1e1e" text-anchor="middle">7 neurons</text>
<path d="M421.00,233.50 L421.00,196.50 A37,37 0 0 1 451.86,253.91 Z" fill="#b01e23" stroke="#b01e23" stroke-width="0.35" stroke-linejoin="round"/>
<path d="M421.00,233.50 L451.86,253.91 A37,37 0 0 1 401.97,265.23 Z" fill="#cf6161" stroke="#cf6161" stroke-width="0.35" stroke-linejoin="round"/>
<path d="M421.00,233.50 L401.97,265.23 A37,37 0 0 1 385.05,242.25 Z" fill="#e39c9c" stroke="#e39c9c" stroke-width="0.35" stroke-linejoin="round"/>
<path d="M421.00,233.50 L385.05,242.25 A37,37 0 0 1 421.00,196.50 Z" fill="#9b9b9b" stroke="#9b9b9b" stroke-width="0.35" stroke-linejoin="round"/>
<path d="M521.80,234.30 L521.80,197.50 A36.8,36.8 0 0 1 557.56,243.00 Z" fill="#f2b765" stroke="#f2b765" stroke-width="0.35" stroke-linejoin="round"/>
<path d="M521.80,234.30 L557.56,243.00 A36.8,36.8 0 1 1 509.99,199.45 Z" fill="#ec8e24" stroke="#ec8e24" stroke-width="0.35" stroke-linejoin="round"/>
<path d="M521.80,234.30 L509.99,199.45 A36.8,36.8 0 0 1 519.03,197.60 Z" fill="#f7d09c" stroke="#f7d09c" stroke-width="0.35" stroke-linejoin="round"/>
<path d="M521.80,234.30 L519.03,197.60 A36.8,36.8 0 0 1 521.80,197.50 Z" fill="#8a8a8a" stroke="#8a8a8a" stroke-width="0.35" stroke-linejoin="round"/>
<path d="M619.00,234.20 L619.00,197.20 A37,37 0 0 1 649.34,255.38 Z" fill="#0a8787" stroke="#0a8787" stroke-width="0.35" stroke-linejoin="round"/>
<path d="M619.00,234.20 L649.34,255.38 A37,37 0 0 1 613.21,270.74 Z" fill="#38a0a0" stroke="#38a0a0" stroke-width="0.35" stroke-linejoin="round"/>
<path d="M619.00,234.20 L613.21,270.74 A37,37 0 0 1 586.69,252.23 Z" fill="#96cdd0" stroke="#96cdd0" stroke-width="0.35" stroke-linejoin="round"/>
<path d="M619.00,234.20 L586.69,252.23 A37,37 0 0 1 619.00,197.20 Z" fill="#9b9b9b" stroke="#9b9b9b" stroke-width="0.35" stroke-linejoin="round"/>
<text x="438.8" y="224.9" font-size="6.5" fill="#f8f8f8" text-anchor="middle">34.3%</text>
<text x="403.4" y="224.8" font-size="6.5" fill="#f8f8f8" text-anchor="middle">28.8%</text>
<text x="400.6" y="249.2" font-size="6.5" fill="#f8f8f8" text-anchor="middle">12.6%</text>
<text x="425.5" y="256.1" font-size="6.5" fill="#f8f8f8" text-anchor="middle">24.3%</text>
<text x="538.8" y="223.2" font-size="6.5" fill="#f8f8f8" text-anchor="middle">28.3%</text>
<text x="513.3" y="252.2" font-size="6.5" fill="#f8f8f8" text-anchor="middle">66.5%</text>
<text x="515.6" y="204" font-size="6.5" fill="#f8f8f8" text-anchor="middle">4%</text>
<text x="637.3" y="226.8" font-size="6.5" fill="#f8f8f8" text-anchor="middle">34.7%</text>
<text x="601.6" y="226.8" font-size="6.5" fill="#f8f8f8" text-anchor="middle">37.2%</text>
<text x="605.8" y="255.6" font-size="6.5" fill="#f8f8f8" text-anchor="middle">10.3%</text>
<text x="631.3" y="256.5" font-size="6.5" fill="#f8f8f8" text-anchor="middle">17.8%</text>
<text x="524.8" y="196" font-size="6.5" fill="#333" text-anchor="middle">1.2%</text>
<text x="457.9" y="247.8" font-size="6.67" fill="#b01e23">CB0156</text>
<text x="457.9" y="254.60000000000002" font-size="6.67" fill="#cf6161">CB0111</text>
<text x="457.9" y="261.40000000000003" font-size="6.67" fill="#e8a7a7">CB0389</text>
<text x="457.9" y="268.2" font-size="6.67" fill="#9b9b9b">Others</text>
<text x="558.8" y="246.6" font-size="6.67" fill="#ec8e24">aMe12</text>
<text x="558.8" y="253.2" font-size="6.67" fill="#f2b765">aMe20</text>
<text x="558.8" y="259.8" font-size="6.67" fill="#f5c88c">aMe26_L</text>
<text x="558.8" y="266.5" font-size="6.0" fill="#9b9b9b">Other</text>
<text x="558.8" y="272.8" font-size="6.5" fill="#9b9b9b">(aMe26_R)</text>
<text x="655.8" y="248.5" font-size="6.67" fill="#0a6f6f">Lo-35</text>
<text x="655.8" y="255.3" font-size="6.67" fill="#38a0a0">CB0274</text>
<text x="655.8" y="262.1" font-size="6.67" fill="#96cdd0">Lo-178</text>
<text x="655.8" y="268.9" font-size="6.67" fill="#9b9b9b">Others</text>
<rect x="425.10" y="308.90" width="5.9" height="128.50" fill="#ec8e24"/>
<rect x="432.38" y="338.60" width="5.9" height="98.80" fill="#b01e24"/>
<rect x="439.65" y="367.20" width="5.9" height="70.20" fill="#b01e24"/>
<rect x="446.93" y="377.60" width="5.9" height="59.80" fill="#0b8787"/>
<rect x="454.20" y="382.90" width="5.9" height="54.50" fill="#ec8e24"/>
<rect x="461.48" y="401.40" width="5.9" height="36.00" fill="#b01e24"/>
<rect x="468.76" y="406.70" width="5.9" height="30.70" fill="#0b8787"/>
<rect x="476.03" y="411.80" width="5.9" height="25.60" fill="#0b8787"/>
<rect x="483.31" y="413.90" width="5.9" height="23.50" fill="#b01e24"/>
<rect x="490.58" y="419.00" width="5.9" height="18.40" fill="#0b8787"/>
<rect x="497.86" y="420.90" width="5.9" height="16.50" fill="#b01e24"/>
<rect x="505.14" y="426.60" width="5.9" height="10.80" fill="#0b8787"/>
<rect x="512.41" y="427.30" width="5.9" height="10.10" fill="#b01e24"/>
<rect x="519.69" y="428.10" width="5.9" height="9.30" fill="#b01e24"/>
<rect x="526.96" y="428.60" width="5.9" height="8.80" fill="#0b8787"/>
<rect x="534.24" y="429.90" width="5.9" height="7.50" fill="#ec8e24"/>
<rect x="541.52" y="430.60" width="5.9" height="6.80" fill="#0b8787"/>
<rect x="548.79" y="431.00" width="5.9" height="6.40" fill="#b01e24"/>
<rect x="556.07" y="431.60" width="5.9" height="5.80" fill="#b01e24"/>
<rect x="563.34" y="432.30" width="5.9" height="5.10" fill="#0b8787"/>
<rect x="570.62" y="435.10" width="5.9" height="2.30" fill="#ec8e24"/>
<rect x="577.90" y="435.50" width="5.9" height="1.90" fill="#b01e24"/>
<rect x="585.17" y="435.50" width="5.9" height="1.90" fill="#b01e24"/>
<rect x="592.45" y="436.00" width="5.9" height="1.40" fill="#b01e24"/>
<rect x="599.72" y="436.00" width="5.9" height="1.40" fill="#b01e24"/>
<rect x="607.00" y="436.20" width="5.9" height="1.20" fill="#0b8787"/>
<rect x="614.28" y="436.20" width="5.9" height="1.20" fill="#b01e24"/>
<rect x="621.55" y="436.30" width="5.9" height="1.10" fill="#0b8787"/>
<rect x="628.83" y="436.40" width="5.9" height="1.00" fill="#0b8787"/>
<rect x="636.10" y="436.50" width="5.9" height="0.90" fill="#0b8787"/>
<rect x="643.38" y="436.50" width="5.9" height="0.90" fill="#b01e24"/>
<rect x="650.66" y="436.60" width="5.9" height="0.80" fill="#0b8787"/>
<rect x="657.93" y="436.60" width="5.9" height="0.80" fill="#0b8787"/>
<rect x="665.21" y="436.60" width="5.9" height="0.80" fill="#b01e24"/>
<path d="M421.5,307.9 L421.5,437.7 L673,437.7" fill="none" stroke="#555" stroke-width="0.8"/>
<rect x="423.90" y="546.80" width="5.9" height="85.50" fill="#ec8e24"/>
<rect x="431.18" y="591.50" width="5.9" height="40.80" fill="#b01e24"/>
<rect x="438.46" y="591.50" width="5.9" height="40.80" fill="#b01e24"/>
<rect x="445.74" y="601.20" width="5.9" height="31.10" fill="#0b8787"/>
<rect x="453.02" y="603.90" width="5.9" height="28.40" fill="#ec8e24"/>
<rect x="460.30" y="598.90" width="5.9" height="33.40" fill="#b01e24"/>
<rect x="467.58" y="618.90" width="5.9" height="13.40" fill="#0b8787"/>
<rect x="474.86" y="612.20" width="5.9" height="20.10" fill="#0b8787"/>
<rect x="482.14" y="616.10" width="5.9" height="16.20" fill="#b01e24"/>
<rect x="489.42" y="618.90" width="5.9" height="13.40" fill="#0b8787"/>
<rect x="496.70" y="625.00" width="5.9" height="7.30" fill="#b01e24"/>
<rect x="503.98" y="621.00" width="5.9" height="11.30" fill="#0b8787"/>
<rect x="511.26" y="627.30" width="5.9" height="5.00" fill="#b01e24"/>
<rect x="518.54" y="627.30" width="5.9" height="5.00" fill="#b01e24"/>
<rect x="525.82" y="630.00" width="5.9" height="2.30" fill="#0b8787"/>
<rect x="533.10" y="623.80" width="5.9" height="8.50" fill="#ec8e24"/>
<rect x="540.38" y="628.70" width="5.9" height="3.60" fill="#0b8787"/>
<rect x="547.66" y="625.00" width="5.9" height="7.30" fill="#b01e24"/>
<rect x="554.94" y="625.00" width="5.9" height="7.30" fill="#b01e24"/>
<rect x="562.22" y="625.00" width="5.9" height="7.30" fill="#0b8787"/>
<rect x="569.50" y="630.10" width="5.9" height="2.20" fill="#ec8e24"/>
<rect x="576.78" y="631.20" width="5.9" height="1.10" fill="#b01e24"/>
<rect x="584.06" y="628.60" width="5.9" height="3.70" fill="#b01e24"/>
<rect x="591.34" y="630.00" width="5.9" height="2.30" fill="#b01e24"/>
<rect x="598.62" y="631.00" width="5.9" height="1.30" fill="#b01e24"/>
<rect x="605.90" y="630.00" width="5.9" height="2.30" fill="#0b8787"/>
<rect x="613.18" y="631.00" width="5.9" height="1.30" fill="#b01e24"/>
<rect x="620.46" y="631.00" width="5.9" height="1.30" fill="#0b8787"/>
<rect x="627.74" y="631.00" width="5.9" height="1.30" fill="#0b8787"/>
<rect x="635.02" y="631.00" width="5.9" height="1.30" fill="#0b8787"/>
<rect x="642.30" y="630.00" width="5.9" height="2.30" fill="#b01e24"/>
<rect x="649.58" y="631.00" width="5.9" height="1.30" fill="#0b8787"/>
<rect x="656.86" y="631.00" width="5.9" height="1.30" fill="#0b8787"/>
<rect x="664.14" y="631.00" width="5.9" height="1.30" fill="#b01e24"/>
<path d="M419.4,527 L419.4,632.5999999999999 L673,632.5999999999999" fill="none" stroke="#555" stroke-width="0.8"/>
<text x="432.50" y="443.3" font-size="6.6" fill="#262626" text-anchor="end" transform="rotate(-53 432.50 443.3)">aMe12</text>
<text x="439.78" y="443.3" font-size="6.6" fill="#262626" text-anchor="end" transform="rotate(-53 439.78 443.3)">CB0156</text>
<text x="447.05" y="443.3" font-size="6.6" fill="#262626" text-anchor="end" transform="rotate(-53 447.05 443.3)">CB0111</text>
<text x="454.33" y="443.3" font-size="6.6" fill="#262626" text-anchor="end" transform="rotate(-53 454.33 443.3)">Lobula-35</text>
<text x="461.60" y="443.3" font-size="6.6" fill="#262626" text-anchor="end" transform="rotate(-53 461.60 443.3)">aMe20</text>
<text x="468.88" y="443.3" font-size="6.6" fill="#262626" text-anchor="end" transform="rotate(-53 468.88 443.3)">CB0389</text>
<text x="476.16" y="443.3" font-size="6.6" fill="#262626" text-anchor="end" transform="rotate(-53 476.16 443.3)">CB0274</text>
<text x="483.43" y="443.3" font-size="6.6" fill="#262626" text-anchor="end" transform="rotate(-53 483.43 443.3)">Lobula-178</text>
<text x="490.71" y="443.3" font-size="6.6" fill="#262626" text-anchor="end" transform="rotate(-53 490.71 443.3)">CB0304</text>
<text x="497.98" y="443.3" font-size="6.6" fill="#262626" text-anchor="end" transform="rotate(-53 497.98 443.3)">SLP357</text>
<text x="505.26" y="443.3" font-size="6.6" fill="#262626" text-anchor="end" transform="rotate(-53 505.26 443.3)">CB0081</text>
<text x="512.54" y="443.3" font-size="6.6" fill="#262626" text-anchor="end" transform="rotate(-53 512.54 443.3)">PLP091</text>
<text x="519.81" y="443.3" font-size="6.6" fill="#262626" text-anchor="end" transform="rotate(-53 519.81 443.3)">CB0171</text>
<text x="527.09" y="443.3" font-size="6.6" fill="#262626" text-anchor="end" transform="rotate(-53 527.09 443.3)">Medulla-182</text>
<text x="534.36" y="443.3" font-size="6.6" fill="#262626" text-anchor="end" transform="rotate(-53 534.36 443.3)">SLP449</text>
<text x="541.64" y="443.3" font-size="6.6" fill="#262626" text-anchor="end" transform="rotate(-53 541.64 443.3)">aMe26_L</text>
<text x="548.92" y="443.3" font-size="6.6" fill="#262626" text-anchor="end" transform="rotate(-53 548.92 443.3)">LT75</text>
<text x="556.19" y="443.3" font-size="6.6" fill="#262626" text-anchor="end" transform="rotate(-53 556.19 443.3)">Medulla-15</text>
<text x="563.47" y="443.3" font-size="6.6" fill="#262626" text-anchor="end" transform="rotate(-53 563.47 443.3)">Medulla-179</text>
<text x="570.74" y="443.3" font-size="6.6" fill="#262626" text-anchor="end" transform="rotate(-53 570.74 443.3)">Lobula-47</text>
<text x="578.02" y="443.3" font-size="6.6" fill="#262626" text-anchor="end" transform="rotate(-53 578.02 443.3)">aMe26_R</text>
<text x="585.30" y="443.3" font-size="6.6" fill="#262626" text-anchor="end" transform="rotate(-53 585.30 443.3)">Medulla-186</text>
<text x="592.57" y="443.3" font-size="6.6" fill="#262626" text-anchor="end" transform="rotate(-53 592.57 443.3)">Medulla-10</text>
<text x="599.85" y="443.3" font-size="6.6" fill="#262626" text-anchor="end" transform="rotate(-53 599.85 443.3)">CB0187</text>
<text x="607.12" y="443.3" font-size="6.6" fill="#262626" text-anchor="end" transform="rotate(-53 607.12 443.3)">MC62</text>
<text x="614.40" y="443.3" font-size="6.6" fill="#262626" text-anchor="end" transform="rotate(-53 614.40 443.3)">VES044</text>
<text x="621.68" y="443.3" font-size="6.6" fill="#262626" text-anchor="end" transform="rotate(-53 621.68 443.3)">CB0165</text>
<text x="628.95" y="443.3" font-size="6.6" fill="#262626" text-anchor="end" transform="rotate(-53 628.95 443.3)">Lobula-144</text>
<text x="636.23" y="443.3" font-size="6.6" fill="#262626" text-anchor="end" transform="rotate(-53 636.23 443.3)">LT67</text>
<text x="643.50" y="443.3" font-size="6.6" fill="#262626" text-anchor="end" transform="rotate(-53 643.50 443.3)">PLP128</text>
<text x="650.78" y="443.3" font-size="6.6" fill="#262626" text-anchor="end" transform="rotate(-53 650.78 443.3)">Medulla-1</text>
<text x="658.06" y="443.3" font-size="6.6" fill="#262626" text-anchor="end" transform="rotate(-53 658.06 443.3)">LT57</text>
<text x="665.33" y="443.3" font-size="6.6" fill="#262626" text-anchor="end" transform="rotate(-53 665.33 443.3)">Lobula-38</text>
<text x="672.61" y="443.3" font-size="6.6" fill="#262626" text-anchor="end" transform="rotate(-53 672.61 443.3)">MC62-d</text>
<text x="431.30" y="638.3" font-size="6.6" fill="#262626" text-anchor="end" transform="rotate(-53 431.30 638.3)">aMe12</text>
<text x="438.58" y="638.3" font-size="6.6" fill="#262626" text-anchor="end" transform="rotate(-53 438.58 638.3)">CB0156</text>
<text x="445.86" y="638.3" font-size="6.6" fill="#262626" text-anchor="end" transform="rotate(-53 445.86 638.3)">CB0111</text>
<text x="453.14" y="638.3" font-size="6.6" fill="#262626" text-anchor="end" transform="rotate(-53 453.14 638.3)">Lobula-35</text>
<text x="460.42" y="638.3" font-size="6.6" fill="#262626" text-anchor="end" transform="rotate(-53 460.42 638.3)">aMe20</text>
<text x="467.70" y="638.3" font-size="6.6" fill="#262626" text-anchor="end" transform="rotate(-53 467.70 638.3)">CB0389</text>
<text x="474.98" y="638.3" font-size="6.6" fill="#262626" text-anchor="end" transform="rotate(-53 474.98 638.3)">CB0274</text>
<text x="482.26" y="638.3" font-size="6.6" fill="#262626" text-anchor="end" transform="rotate(-53 482.26 638.3)">Lobula-178</text>
<text x="489.54" y="638.3" font-size="6.6" fill="#262626" text-anchor="end" transform="rotate(-53 489.54 638.3)">CB0304</text>
<text x="496.82" y="638.3" font-size="6.6" fill="#262626" text-anchor="end" transform="rotate(-53 496.82 638.3)">SLP357</text>
<text x="504.10" y="638.3" font-size="6.6" fill="#262626" text-anchor="end" transform="rotate(-53 504.10 638.3)">CB0081</text>
<text x="511.38" y="638.3" font-size="6.6" fill="#262626" text-anchor="end" transform="rotate(-53 511.38 638.3)">PLP091</text>
<text x="518.66" y="638.3" font-size="6.6" fill="#262626" text-anchor="end" transform="rotate(-53 518.66 638.3)">CB0171</text>
<text x="525.94" y="638.3" font-size="6.6" fill="#262626" text-anchor="end" transform="rotate(-53 525.94 638.3)">Medulla-182</text>
<text x="533.22" y="638.3" font-size="6.6" fill="#262626" text-anchor="end" transform="rotate(-53 533.22 638.3)">SLP449</text>
<text x="540.50" y="638.3" font-size="6.6" fill="#262626" text-anchor="end" transform="rotate(-53 540.50 638.3)">aMe26_L</text>
<text x="547.78" y="638.3" font-size="6.6" fill="#262626" text-anchor="end" transform="rotate(-53 547.78 638.3)">LT75</text>
<text x="555.06" y="638.3" font-size="6.6" fill="#262626" text-anchor="end" transform="rotate(-53 555.06 638.3)">Medulla-15</text>
<text x="562.34" y="638.3" font-size="6.6" fill="#262626" text-anchor="end" transform="rotate(-53 562.34 638.3)">Medulla-179</text>
<text x="569.62" y="638.3" font-size="6.6" fill="#262626" text-anchor="end" transform="rotate(-53 569.62 638.3)">Lobula-47</text>
<text x="576.90" y="638.3" font-size="6.6" fill="#262626" text-anchor="end" transform="rotate(-53 576.90 638.3)">aMe26_R</text>
<text x="584.18" y="638.3" font-size="6.6" fill="#262626" text-anchor="end" transform="rotate(-53 584.18 638.3)">Medulla-186</text>
<text x="591.46" y="638.3" font-size="6.6" fill="#262626" text-anchor="end" transform="rotate(-53 591.46 638.3)">Medulla-10</text>
<text x="598.74" y="638.3" font-size="6.6" fill="#262626" text-anchor="end" transform="rotate(-53 598.74 638.3)">CB0187</text>
<text x="606.02" y="638.3" font-size="6.6" fill="#262626" text-anchor="end" transform="rotate(-53 606.02 638.3)">MC62</text>
<text x="613.30" y="638.3" font-size="6.6" fill="#262626" text-anchor="end" transform="rotate(-53 613.30 638.3)">VES044</text>
<text x="620.58" y="638.3" font-size="6.6" fill="#262626" text-anchor="end" transform="rotate(-53 620.58 638.3)">CB0165</text>
<text x="627.86" y="638.3" font-size="6.6" fill="#262626" text-anchor="end" transform="rotate(-53 627.86 638.3)">Lobula-144</text>
<text x="635.14" y="638.3" font-size="6.6" fill="#262626" text-anchor="end" transform="rotate(-53 635.14 638.3)">LT67</text>
<text x="642.42" y="638.3" font-size="6.6" fill="#262626" text-anchor="end" transform="rotate(-53 642.42 638.3)">PLP128</text>
<text x="649.70" y="638.3" font-size="6.6" fill="#262626" text-anchor="end" transform="rotate(-53 649.70 638.3)">Medulla-1</text>
<text x="656.98" y="638.3" font-size="6.6" fill="#262626" text-anchor="end" transform="rotate(-53 656.98 638.3)">LT57</text>
<text x="664.26" y="638.3" font-size="6.6" fill="#262626" text-anchor="end" transform="rotate(-53 664.26 638.3)">Lobula-38</text>
<text x="671.54" y="638.3" font-size="6.6" fill="#262626" text-anchor="end" transform="rotate(-53 671.54 638.3)">MC62-d</text>
<text x="416.3" y="439.80" font-size="8.7" fill="#1e1e1e" text-anchor="end">0</text>
<text x="419.2" y="418.14" font-size="8.7" fill="#1e1e1e" text-anchor="end">200</text>
<text x="419.2" y="396.48" font-size="8.7" fill="#1e1e1e" text-anchor="end">400</text>
<text x="419.2" y="374.82" font-size="8.7" fill="#1e1e1e" text-anchor="end">600</text>
<text x="419.2" y="353.16" font-size="8.7" fill="#1e1e1e" text-anchor="end">800</text>
<text x="420" y="331.50" font-size="8.7" fill="#1e1e1e" text-anchor="end">1000</text>
<text x="417.6" y="617.40" font-size="9.3" fill="#1e1e1e" text-anchor="end">10</text>
<line x1="417.9" y1="614.10" x2="419.4" y2="614.10" stroke="#555" stroke-width="0.7"/>
<text x="417.6" y="599.20" font-size="9.3" fill="#1e1e1e" text-anchor="end">20</text>
<line x1="417.9" y1="595.90" x2="419.4" y2="595.90" stroke="#555" stroke-width="0.7"/>
<text x="417.6" y="581.00" font-size="9.3" fill="#1e1e1e" text-anchor="end">30</text>
<line x1="417.9" y1="577.70" x2="419.4" y2="577.70" stroke="#555" stroke-width="0.7"/>
<text x="417.6" y="562.80" font-size="9.3" fill="#1e1e1e" text-anchor="end">40</text>
<line x1="417.9" y1="559.50" x2="419.4" y2="559.50" stroke="#555" stroke-width="0.7"/>
<text x="417.6" y="544.60" font-size="9.3" fill="#1e1e1e" text-anchor="end">50</text>
<line x1="417.9" y1="541.30" x2="419.4" y2="541.30" stroke="#555" stroke-width="0.7"/>
<text x="397" y="376" font-size="8.55" fill="#1e1e1e" text-anchor="middle" transform="rotate(-90 397 376)">Sum of Synapses onto KCγ-d’s (Left)</text>
<text x="402.3" y="574.5" font-size="9.15" fill="#1e1e1e" text-anchor="middle" transform="rotate(-90 402.5 574.5)">% of KCγ-d’s contacted (Left)</text>
<text x="555.8" y="485.5" font-size="9.34" fill="#1e1e1e" text-anchor="middle">Morphological Cell Types</text>
<text x="555.8" y="681.1" font-size="9.34" fill="#1e1e1e" text-anchor="middle">Morphological Cell Types</text>
<text x="640" y="315.5" font-size="8.8" fill="#b0282e">Me</text>
<text x="643.7" y="534.0" font-size="8.8" fill="#b0282e">Me</text>
<text x="640" y="324.2" font-size="8.8" fill="#ec9836">aMe</text>
<text x="643.7" y="542.9" font-size="8.8" fill="#ec9836">aMe</text>
<text x="640" y="332.9" font-size="8.8" fill="#159096">Lo</text>
<text x="643.7" y="551.8" font-size="8.8" fill="#159096">Lo</text>
</svg></body></html>
